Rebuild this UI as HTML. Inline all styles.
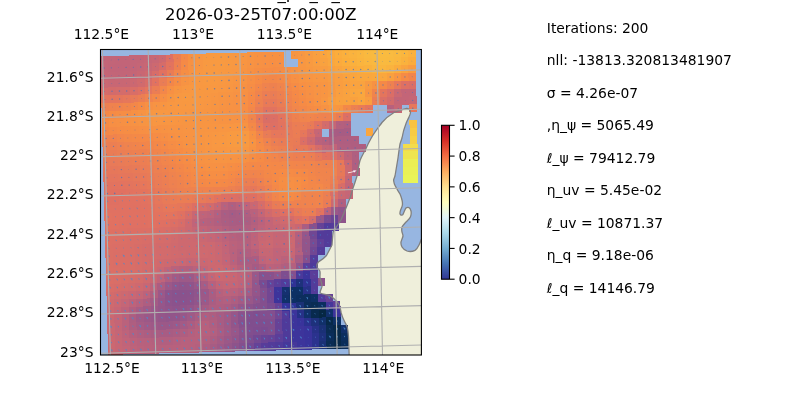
<!DOCTYPE html><html><head><meta charset="utf-8"><title>plot</title><style>html,body{margin:0;padding:0;background:#fff;overflow:hidden}svg{display:block}</style></head><body><svg width="800" height="400" viewBox="0 0 800 400" font-family="'DejaVu Sans', 'Liberation Sans', sans-serif" fill="#000">
<defs><clipPath id="ax"><rect x="100.50" y="49.50" width="320.90" height="305.50"/></clipPath>
<linearGradient id="cb" x1="0" y1="0" x2="0" y2="1"><stop offset="0.000" stop-color="#a50026"/><stop offset="0.050" stop-color="#bd1726"/><stop offset="0.100" stop-color="#d62f27"/><stop offset="0.150" stop-color="#e54e35"/><stop offset="0.200" stop-color="#f46d43"/><stop offset="0.250" stop-color="#f88c51"/><stop offset="0.300" stop-color="#fdad60"/><stop offset="0.350" stop-color="#fdc778"/><stop offset="0.400" stop-color="#fee090"/><stop offset="0.450" stop-color="#fff0a8"/><stop offset="0.500" stop-color="#fffebe"/><stop offset="0.550" stop-color="#f0f9db"/><stop offset="0.600" stop-color="#e0f3f8"/><stop offset="0.650" stop-color="#c5e6f0"/><stop offset="0.700" stop-color="#aad8e9"/><stop offset="0.750" stop-color="#90c3dd"/><stop offset="0.800" stop-color="#74add1"/><stop offset="0.850" stop-color="#5c90c2"/><stop offset="0.900" stop-color="#4574b3"/><stop offset="0.950" stop-color="#3a54a4"/><stop offset="1.000" stop-color="#313695"/></linearGradient></defs>
<rect width="800" height="400" fill="#fff"/>
<g clip-path="url(#ax)">
<rect x="100" y="49" width="322" height="307" fill="#97b6e1"/>
<path d="M407 108.3 C404.5 109 399 110.5 394 112.5 C389 115.5 385 119 382 122.5 C378 128 374 133 371 138.5 C369 142 367.5 145 366 148.5 C364 152.5 361.5 156.5 360 160.5 C358.5 166 357.8 171 357 176 C355.8 180 354.5 184 353 188 C352 191.5 351 195 350 198 C348.5 201.5 347.3 205 346 208 L341 220 L337 226 L333.2 232 C332.6 236 332.3 241 332 245 L326.5 255.5 C324 258.5 320.5 260.5 318.3 262 C316.8 264 316.6 266 317.2 267.5 C318.2 269.2 319.8 270 320 271.5 C320.3 274 319.8 276 320 278 C320.8 281 322.2 283.5 322 286.5 C321.6 289 319.6 291 320.2 293 C323 294.2 326 294.3 328.5 295.2 C330.5 296 332 297 333.5 298.3 C335.8 300.2 337.5 302 339 304.3 C340.4 307 340.6 310 341.2 313 C342 316 343 318.5 344.3 321 C345.3 323.2 346.5 325 347.3 327.3 C348.2 331 348.3 334.5 348.6 338 L349.2 357 L424 357 L424 236 L421 240 C420.4 242 419.8 243.5 419 245 C417.8 247.5 416.5 249.4 415 250.4 C412.5 251.6 409.5 251.8 407 251 C404.8 250 403 248.8 402 247 C401 245.2 400.8 243.6 401 242 C401.5 240 402.6 238 403 236 C403 234.5 402.3 233.3 402 232 C401.6 230.2 401.6 228.6 402 227 C403 225.2 404.6 223.6 406 222 C407.8 220.4 409.6 219 410.4 217 C411.2 215 411.4 213 411 211 C410.6 209.4 410 208 409 207.6 C407.8 207.3 406.8 207.4 406 208 C405 209.2 404.6 210.8 404 212 C403.6 213.2 403.2 214.6 402.4 215 C401.4 215.4 400.4 215 400 214 C399.8 212.6 400.2 211.2 400.6 210 C401.3 208.3 402.2 206.7 402.4 205 C402.6 203.3 402.4 201.6 402 200 C401.5 198 400.8 195.8 400 194 C399 192.2 397.8 190.7 397 189 C396 187.3 395 185.8 394.4 184 C393.9 182.6 393.7 181.3 393.6 180 C394 178.6 394.6 177.3 395 176 C396 170 397 164 398 158 C398.6 153.3 399.2 148.6 400 144 L402 138 C403 132 405 126 406.2 123 C407.2 120.5 408.2 119 409 117 C410 115 410.6 113.4 410.5 112 C410.2 110.2 408.8 108.6 407 108.3 Z" fill="#efefdb" stroke="none" stroke-width="1.3" stroke-linejoin="round"/>

<g shape-rendering="crispEdges"><path d="M100.1 56.3L107.7 56.1L107.9 64.3L100.3 64.5" fill="#c36578"/><path d="M107.4 56.1L115.1 55.9L115.3 64.1L107.6 64.3" fill="#c26578"/><path d="M114.8 55.9L122.4 55.7L122.6 63.9L115.0 64.1" fill="#c26478"/><path d="M122.1 55.7L129.7 55.5L129.9 63.7L122.3 63.9" fill="#c26478"/><path d="M129.4 55.5L137.0 55.3L137.3 63.5L129.6 63.7" fill="#c36578"/><path d="M136.8 55.3L144.4 55.2L144.6 63.3L137.0 63.5" fill="#c36577"/><path d="M144.1 55.2L151.7 55.0L151.9 63.1L144.3 63.3" fill="#c56676"/><path d="M151.4 55.0L159.0 54.8L159.2 62.9L151.6 63.1" fill="#c86774"/><path d="M158.7 54.8L166.4 54.6L166.6 62.7L158.9 62.9" fill="#ce696f"/><path d="M166.1 54.6L173.7 54.4L173.9 62.6L166.3 62.8" fill="#de7063"/><path d="M173.4 54.4L181.0 54.2L181.2 62.4L173.6 62.6" fill="#eb7e53"/><path d="M180.7 54.2L188.4 54.0L188.6 62.2L180.9 62.4" fill="#f58947"/><path d="M188.1 54.0L195.7 53.8L195.9 62.0L188.3 62.2" fill="#f79143"/><path d="M195.4 53.8L203.0 53.6L203.2 61.8L195.6 62.0" fill="#f89642"/><path d="M202.7 53.6L210.3 53.4L210.5 61.6L202.9 61.8" fill="#f89941"/><path d="M210.1 53.4L217.7 53.3L217.9 61.4L210.2 61.6" fill="#f89a41"/><path d="M217.4 53.3L225.0 53.1L225.2 61.2L217.6 61.4" fill="#f89a41"/><path d="M224.7 53.1L232.3 52.9L232.5 61.0L224.9 61.2" fill="#f89941"/><path d="M232.0 52.9L239.7 52.7L239.9 60.8L232.2 61.0" fill="#f89842"/><path d="M239.4 52.7L247.0 52.5L247.2 60.7L239.6 60.9" fill="#f89642"/><path d="M246.7 52.5L254.3 52.3L254.5 60.5L246.9 60.7" fill="#f79443"/><path d="M254.0 52.3L261.7 52.1L261.8 60.3L254.2 60.5" fill="#f79243"/><path d="M261.4 52.1L269.0 51.9L269.2 60.1L261.6 60.3" fill="#f79143"/><path d="M268.7 51.9L276.3 51.7L276.5 59.9L268.9 60.1" fill="#f79143"/><path d="M276.0 51.7L283.6 51.5L283.8 59.7L276.2 59.9" fill="#f79143"/><path d="M290.7 51.4L298.3 51.2L298.5 59.3L290.9 59.5" fill="#f79542"/><path d="M298.0 51.2L305.6 51.0L305.8 59.1L298.2 59.3" fill="#f89742"/><path d="M305.3 51.0L313.0 50.8L313.1 58.9L305.5 59.1" fill="#f89b41"/><path d="M312.7 50.8L320.3 50.6L320.5 58.8L312.9 59.0" fill="#f99f40"/><path d="M320.0 50.6L327.6 50.4L327.8 58.6L320.2 58.8" fill="#faa43e"/><path d="M327.3 50.4L335.0 50.2L335.1 58.4L327.5 58.6" fill="#faa93d"/><path d="M334.7 50.2L342.3 50.0L342.5 58.2L334.8 58.4" fill="#fbad3c"/><path d="M342.0 50.0L349.6 50.0L349.8 58.1L342.2 58.2" fill="#fbb03d"/><path d="M349.3 50.0L356.9 49.9L357.1 58.0L349.5 58.1" fill="#fab33e"/><path d="M356.6 49.9L364.3 49.8L364.4 58.0L356.8 58.1" fill="#fab63e"/><path d="M364.0 49.8L371.6 49.7L371.8 57.9L364.2 58.0" fill="#f9b93f"/><path d="M371.3 49.7L378.9 49.7L379.1 57.8L371.5 57.9" fill="#f9ba3f"/><path d="M378.6 49.7L386.3 49.6L386.4 57.8L378.8 57.8" fill="#f9bb40"/><path d="M386.0 49.6L393.6 49.5L393.8 57.7L386.1 57.8" fill="#f9bb40"/><path d="M393.3 49.5L400.9 49.5L401.1 57.6L393.5 57.7" fill="#f9b93f"/><path d="M400.6 49.5L408.3 49.4L408.4 57.6L400.8 57.6" fill="#fab63e"/><path d="M408.0 49.4L415.6 49.3L415.7 57.5L408.1 57.6" fill="#fbb13d"/><path d="M100.3 64.1L107.9 64.0L108.1 72.1L100.5 72.3" fill="#c36578"/><path d="M107.6 64.0L115.3 63.8L115.5 71.9L107.9 72.1" fill="#c26478"/><path d="M115.0 63.8L122.6 63.6L122.8 71.7L115.2 71.9" fill="#c16479"/><path d="M122.3 63.6L129.9 63.4L130.1 71.5L122.5 71.7" fill="#c26478"/><path d="M129.6 63.4L137.2 63.2L137.5 71.4L129.8 71.5" fill="#c36578"/><path d="M137.0 63.2L144.6 63.0L144.8 71.2L137.2 71.4" fill="#c56676"/><path d="M144.3 63.0L151.9 62.8L152.1 71.0L144.5 71.2" fill="#c86774"/><path d="M151.6 62.8L159.2 62.6L159.4 70.8L151.8 71.0" fill="#cd6970"/><path d="M158.9 62.6L166.6 62.4L166.8 70.6L159.1 70.8" fill="#d66c69"/><path d="M166.3 62.4L173.9 62.2L174.1 70.4L166.5 70.6" fill="#e3735e"/><path d="M173.6 62.2L181.2 62.1L181.4 70.2L173.8 70.4" fill="#ed8050"/><path d="M180.9 62.1L188.5 61.9L188.8 70.0L181.1 70.2" fill="#f58a46"/><path d="M188.3 61.9L195.9 61.7L196.1 69.8L188.5 70.0" fill="#f79243"/><path d="M195.6 61.7L203.2 61.5L203.4 69.6L195.8 69.8" fill="#f89642"/><path d="M202.9 61.5L210.5 61.3L210.7 69.5L203.1 69.6" fill="#f89941"/><path d="M210.2 61.3L217.9 61.1L218.1 69.3L210.4 69.5" fill="#f89a41"/><path d="M217.6 61.1L225.2 60.9L225.4 69.1L217.8 69.3" fill="#f89a41"/><path d="M224.9 60.9L232.5 60.7L232.7 68.9L225.1 69.1" fill="#f89941"/><path d="M232.2 60.7L239.9 60.5L240.0 68.7L232.4 68.9" fill="#f89842"/><path d="M239.6 60.5L247.2 60.3L247.4 68.5L239.8 68.7" fill="#f89542"/><path d="M246.9 60.3L254.5 60.2L254.7 68.3L247.1 68.5" fill="#f79343"/><path d="M254.2 60.2L261.8 60.0L262.0 68.1L254.4 68.3" fill="#f79143"/><path d="M261.5 60.0L269.2 59.8L269.4 67.9L261.7 68.1" fill="#f79044"/><path d="M268.9 59.8L276.5 59.6L276.7 67.7L269.1 67.9" fill="#f78f44"/><path d="M276.2 59.6L283.8 59.4L284.0 67.6L276.4 67.7" fill="#f79044"/><path d="M298.2 59.0L305.8 58.8L306.0 67.0L298.4 67.2" fill="#f89742"/><path d="M305.5 58.8L313.1 58.6L313.3 66.8L305.7 67.0" fill="#f89a41"/><path d="M312.8 58.6L320.5 58.4L320.6 66.6L313.0 66.8" fill="#f99e40"/><path d="M320.2 58.4L327.8 58.3L328.0 66.4L320.4 66.6" fill="#f9a23f"/><path d="M327.5 58.3L335.1 58.1L335.3 66.2L327.7 66.4" fill="#faa73e"/><path d="M334.8 58.1L342.5 57.9L342.6 66.0L335.0 66.2" fill="#fbaa3d"/><path d="M342.2 57.9L349.8 57.8L350.0 66.0L342.3 66.0" fill="#fbae3c"/><path d="M349.5 57.8L357.1 57.7L357.3 65.9L349.7 66.0" fill="#fab13d"/><path d="M356.8 57.7L364.4 57.7L364.6 65.8L357.0 65.9" fill="#fab43e"/><path d="M364.1 57.7L371.8 57.6L371.9 65.8L364.3 65.8" fill="#fab73f"/><path d="M371.5 57.6L379.1 57.5L379.3 65.7L371.6 65.8" fill="#f9b93f"/><path d="M378.8 57.5L386.4 57.5L386.6 65.6L379.0 65.7" fill="#f9ba40"/><path d="M386.1 57.5L393.8 57.4L393.9 65.5L386.3 65.6" fill="#f9ba3f"/><path d="M393.5 57.4L401.1 57.3L401.3 65.5L393.6 65.5" fill="#fab73f"/><path d="M400.8 57.3L408.4 57.2L408.6 65.4L401.0 65.5" fill="#fab23d"/><path d="M408.1 57.2L415.7 57.2L415.9 65.3L408.3 65.4" fill="#fbac3c"/><path d="M100.5 72.0L108.1 71.8L108.4 80.0L100.7 80.2" fill="#c56576"/><path d="M107.8 71.8L115.5 71.6L115.7 79.8L108.1 80.0" fill="#c36578"/><path d="M115.2 71.6L122.8 71.4L123.0 79.6L115.4 79.8" fill="#c26578"/><path d="M122.5 71.4L130.1 71.2L130.3 79.4L122.7 79.6" fill="#c36577"/><path d="M129.8 71.2L137.5 71.0L137.7 79.2L130.0 79.4" fill="#c56676"/><path d="M137.2 71.0L144.8 70.8L145.0 79.0L137.4 79.2" fill="#c96773"/><path d="M144.5 70.9L152.1 70.7L152.3 78.8L144.7 79.0" fill="#ce696f"/><path d="M151.8 70.7L159.4 70.5L159.6 78.6L152.0 78.8" fill="#d76d69"/><path d="M159.1 70.5L166.8 70.3L167.0 78.4L159.3 78.6" fill="#e27260"/><path d="M166.5 70.3L174.1 70.1L174.3 78.3L166.7 78.4" fill="#ea7c55"/><path d="M173.8 70.1L181.4 69.9L181.6 78.1L174.0 78.3" fill="#f2864b"/><path d="M181.1 69.9L188.7 69.7L188.9 77.9L181.3 78.1" fill="#f68e44"/><path d="M188.5 69.7L196.1 69.5L196.3 77.7L188.7 77.9" fill="#f79443"/><path d="M195.8 69.5L203.4 69.3L203.6 77.5L196.0 77.7" fill="#f89742"/><path d="M203.1 69.3L210.7 69.1L210.9 77.3L203.3 77.5" fill="#f89941"/><path d="M210.4 69.1L218.1 68.9L218.3 77.1L210.6 77.3" fill="#f89a41"/><path d="M217.8 69.0L225.4 68.8L225.6 76.9L218.0 77.1" fill="#f89941"/><path d="M225.1 68.8L232.7 68.6L232.9 76.7L225.3 76.9" fill="#f89841"/><path d="M232.4 68.6L240.0 68.4L240.2 76.5L232.6 76.7" fill="#f89742"/><path d="M239.7 68.4L247.4 68.2L247.6 76.4L239.9 76.5" fill="#f79443"/><path d="M247.1 68.2L254.7 68.0L254.9 76.2L247.3 76.4" fill="#f79143"/><path d="M254.4 68.0L262.0 67.8L262.2 76.0L254.6 76.2" fill="#f68e44"/><path d="M261.7 67.8L269.3 67.6L269.5 75.8L261.9 76.0" fill="#f68c45"/><path d="M269.1 67.6L276.7 67.4L276.9 75.6L269.2 75.8" fill="#f68c45"/><path d="M276.4 67.4L284.0 67.2L284.2 75.4L276.6 75.6" fill="#f68d45"/><path d="M283.7 67.2L291.3 67.0L291.5 75.2L283.9 75.4" fill="#f79044"/><path d="M291.0 67.1L298.7 66.9L298.8 75.0L291.2 75.2" fill="#f79343"/><path d="M298.4 66.9L306.0 66.7L306.2 74.8L298.5 75.0" fill="#f89642"/><path d="M305.7 66.7L313.3 66.5L313.5 74.6L305.9 74.8" fill="#f89841"/><path d="M313.0 66.5L320.6 66.3L320.8 74.5L313.2 74.6" fill="#f89b41"/><path d="M320.3 66.3L328.0 66.1L328.1 74.3L320.5 74.5" fill="#f99d40"/><path d="M327.7 66.1L335.3 65.9L335.5 74.1L327.9 74.3" fill="#f9a13f"/><path d="M335.0 65.9L342.6 65.7L342.8 73.9L335.2 74.1" fill="#faa43e"/><path d="M342.3 65.7L350.0 65.7L350.1 73.8L342.5 73.9" fill="#faa83d"/><path d="M349.7 65.7L357.3 65.6L357.5 73.7L349.8 73.8" fill="#fbab3d"/><path d="M357.0 65.6L364.6 65.5L364.8 73.7L357.2 73.7" fill="#fbae3c"/><path d="M364.3 65.5L371.9 65.4L372.1 73.6L364.5 73.7" fill="#fab13d"/><path d="M371.6 65.4L379.3 65.4L379.4 73.5L371.8 73.6" fill="#fab53e"/><path d="M379.0 65.4L386.6 65.3L386.8 73.5L379.1 73.5" fill="#fab63e"/><path d="M386.3 65.3L393.9 65.2L394.1 73.4L386.5 73.5" fill="#fab33e"/><path d="M393.6 65.2L401.2 65.2L401.4 73.3L393.8 73.4" fill="#fbac3c"/><path d="M401.0 65.2L408.6 65.1L408.7 73.3L401.1 73.3" fill="#faa43e"/><path d="M408.3 65.1L415.9 65.0L416.1 73.2L408.4 73.3" fill="#f99c40"/><path d="M100.7 79.8L108.3 79.6L108.6 87.8L100.9 88.0" fill="#ca6872"/><path d="M108.1 79.7L115.7 79.5L115.9 87.6L108.3 87.8" fill="#c86774"/><path d="M115.4 79.5L123.0 79.3L123.2 87.4L115.6 87.6" fill="#c86774"/><path d="M122.7 79.3L130.3 79.1L130.5 87.2L122.9 87.4" fill="#c96773"/><path d="M130.0 79.1L137.7 78.9L137.9 87.0L130.2 87.2" fill="#cc6871"/><path d="M137.4 78.9L145.0 78.7L145.2 86.9L137.6 87.1" fill="#d16a6d"/><path d="M144.7 78.7L152.3 78.5L152.5 86.7L144.9 86.9" fill="#d86d68"/><path d="M152.0 78.5L159.6 78.3L159.8 86.5L152.2 86.7" fill="#e27260"/><path d="M159.3 78.3L167.0 78.1L167.2 86.3L159.5 86.5" fill="#ea7d55"/><path d="M166.7 78.1L174.3 77.9L174.5 86.1L166.9 86.3" fill="#f2864a"/><path d="M174.0 77.9L181.6 77.7L181.8 85.9L174.2 86.1" fill="#f68d44"/><path d="M181.3 77.8L188.9 77.6L189.1 85.7L181.5 85.9" fill="#f79343"/><path d="M188.6 77.6L196.3 77.4L196.5 85.5L188.9 85.7" fill="#f89642"/><path d="M196.0 77.4L203.6 77.2L203.8 85.3L196.2 85.5" fill="#f89842"/><path d="M203.3 77.2L210.9 77.0L211.1 85.1L203.5 85.3" fill="#f89941"/><path d="M210.6 77.0L218.2 76.8L218.4 85.0L210.8 85.2" fill="#f89941"/><path d="M218.0 76.8L225.6 76.6L225.8 84.8L218.2 85.0" fill="#f89842"/><path d="M225.3 76.6L232.9 76.4L233.1 84.6L225.5 84.8" fill="#f89742"/><path d="M232.6 76.4L240.2 76.2L240.4 84.4L232.8 84.6" fill="#f89542"/><path d="M239.9 76.2L247.6 76.0L247.7 84.2L240.1 84.4" fill="#f79343"/><path d="M247.3 76.0L254.9 75.8L255.1 84.0L247.5 84.2" fill="#f78f44"/><path d="M254.6 75.9L262.2 75.7L262.4 83.8L254.8 84.0" fill="#f68b45"/><path d="M261.9 75.7L269.5 75.5L269.7 83.6L262.1 83.8" fill="#f38848"/><path d="M269.2 75.5L276.9 75.3L277.0 83.4L269.4 83.6" fill="#f38749"/><path d="M276.6 75.3L284.2 75.1L284.4 83.2L276.8 83.4" fill="#f48948"/><path d="M283.9 75.1L291.5 74.9L291.7 83.1L284.1 83.3" fill="#f68c45"/><path d="M291.2 74.9L298.8 74.7L299.0 82.9L291.4 83.1" fill="#f79044"/><path d="M298.5 74.7L306.2 74.5L306.3 82.7L298.7 82.9" fill="#f79443"/><path d="M305.9 74.5L313.5 74.3L313.7 82.5L306.1 82.7" fill="#f89542"/><path d="M313.2 74.3L320.8 74.1L321.0 82.3L313.4 82.5" fill="#f89742"/><path d="M320.5 74.1L328.1 73.9L328.3 82.1L320.7 82.3" fill="#f89841"/><path d="M327.8 74.0L335.5 73.8L335.6 81.9L328.0 82.1" fill="#f89b41"/><path d="M335.2 73.8L342.8 73.6L343.0 81.7L335.4 81.9" fill="#f99e40"/><path d="M342.5 73.6L350.1 73.5L350.3 81.7L342.7 81.7" fill="#f9a23f"/><path d="M349.8 73.5L357.4 73.4L357.6 81.6L350.0 81.7" fill="#faa53e"/><path d="M357.2 73.4L364.8 73.4L364.9 81.5L357.3 81.6" fill="#faa73e"/><path d="M364.5 73.4L372.1 73.3L372.3 81.5L364.7 81.5" fill="#faa73e"/><path d="M371.8 73.3L379.4 73.2L379.6 81.4L372.0 81.5" fill="#faa83d"/><path d="M379.1 73.2L386.8 73.2L386.9 81.3L379.3 81.4" fill="#faa73e"/><path d="M386.5 73.2L394.1 73.1L394.2 81.2L386.6 81.3" fill="#f9a03f"/><path d="M393.8 73.1L401.4 73.0L401.6 81.2L394.0 81.2" fill="#f89642"/><path d="M401.1 73.0L408.7 72.9L408.9 81.1L401.3 81.2" fill="#f68b45"/><path d="M408.4 72.9L416.1 72.9L416.2 81.0L408.6 81.1" fill="#f1854b"/><path d="M100.9 87.7L108.6 87.5L108.8 95.7L101.2 95.9" fill="#d56c6a"/><path d="M108.3 87.5L115.9 87.3L116.1 95.5L108.5 95.7" fill="#d36b6b"/><path d="M115.6 87.3L123.2 87.1L123.4 95.3L115.8 95.5" fill="#d46c6b"/><path d="M122.9 87.1L130.5 86.9L130.7 95.1L123.1 95.3" fill="#d56c6a"/><path d="M130.2 86.9L137.9 86.7L138.1 94.9L130.5 95.1" fill="#d96e67"/><path d="M137.6 86.7L145.2 86.5L145.4 94.7L137.8 94.9" fill="#df7063"/><path d="M144.9 86.6L152.5 86.4L152.7 94.5L145.1 94.7" fill="#e4755d"/><path d="M152.2 86.4L159.8 86.2L160.0 94.3L152.4 94.5" fill="#eb7d54"/><path d="M159.5 86.2L167.2 86.0L167.4 94.1L159.8 94.3" fill="#f3874a"/><path d="M166.9 86.0L174.5 85.8L174.7 93.9L167.1 94.1" fill="#f79044"/><path d="M174.2 85.8L181.8 85.6L182.0 93.8L174.4 94.0" fill="#f79542"/><path d="M181.5 85.6L189.1 85.4L189.3 93.6L181.7 93.8" fill="#f89742"/><path d="M188.8 85.4L196.5 85.2L196.7 93.4L189.0 93.6" fill="#f89842"/><path d="M196.2 85.2L203.8 85.0L204.0 93.2L196.4 93.4" fill="#f89841"/><path d="M203.5 85.0L211.1 84.8L211.3 93.0L203.7 93.2" fill="#f89841"/><path d="M210.8 84.8L218.4 84.6L218.6 92.8L211.0 93.0" fill="#f89842"/><path d="M218.1 84.7L225.8 84.5L226.0 92.6L218.3 92.8" fill="#f89742"/><path d="M225.5 84.5L233.1 84.3L233.3 92.4L225.7 92.6" fill="#f89642"/><path d="M232.8 84.3L240.4 84.1L240.6 92.2L233.0 92.4" fill="#f79443"/><path d="M240.1 84.1L247.7 83.9L247.9 92.0L240.3 92.2" fill="#f79143"/><path d="M247.4 83.9L255.1 83.7L255.3 91.9L247.6 92.1" fill="#f68d45"/><path d="M254.8 83.7L262.4 83.5L262.6 91.7L255.0 91.9" fill="#f38749"/><path d="M262.1 83.5L269.7 83.3L269.9 91.5L262.3 91.7" fill="#ef834e"/><path d="M269.4 83.3L277.0 83.1L277.2 91.3L269.6 91.5" fill="#ee814f"/><path d="M276.7 83.1L284.4 82.9L284.6 91.1L276.9 91.3" fill="#f0844d"/><path d="M284.1 82.9L291.7 82.7L291.9 90.9L284.3 91.1" fill="#f48848"/><path d="M291.4 82.8L299.0 82.6L299.2 90.7L291.6 90.9" fill="#f68c45"/><path d="M298.7 82.6L306.3 82.4L306.5 90.5L298.9 90.7" fill="#f79044"/><path d="M306.0 82.4L313.7 82.2L313.8 90.3L306.2 90.5" fill="#f79243"/><path d="M313.4 82.2L321.0 82.0L321.2 90.1L313.6 90.3" fill="#f79443"/><path d="M320.7 82.0L328.3 81.8L328.5 90.0L320.9 90.2" fill="#f89542"/><path d="M328.0 81.8L335.6 81.6L335.8 89.8L328.2 90.0" fill="#f89841"/><path d="M335.3 81.6L343.0 81.4L343.1 89.6L335.5 89.8" fill="#f99d40"/><path d="M342.7 81.4L350.3 81.3L350.5 89.5L342.8 89.6" fill="#f9a03f"/><path d="M350.0 81.4L357.6 81.3L357.8 89.4L350.2 89.5" fill="#faa33f"/><path d="M357.3 81.3L364.9 81.2L365.1 89.4L357.5 89.4" fill="#f9a33f"/><path d="M364.6 81.2L372.3 81.1L372.4 89.3L364.8 89.4" fill="#f89a41"/><path d="M372.0 81.1L379.6 81.1L379.8 89.2L372.1 89.3" fill="#f79243"/><path d="M379.3 81.1L386.9 81.0L387.1 89.2L379.5 89.2" fill="#f58947"/><path d="M386.6 81.0L394.2 80.9L394.4 89.1L386.8 89.2" fill="#ee8150"/><path d="M393.9 80.9L401.6 80.9L401.7 89.0L394.1 89.1" fill="#e6775b"/><path d="M401.3 80.9L408.9 80.8L409.1 89.0L401.4 89.0" fill="#de7063"/><path d="M408.6 80.8L416.2 80.7L416.4 88.9L408.8 89.0" fill="#db6e66"/><path d="M101.1 95.5L108.8 95.3L109.0 103.5L101.4 103.7" fill="#e3745e"/><path d="M108.5 95.3L116.1 95.2L116.3 103.3L108.7 103.5" fill="#e4745d"/><path d="M115.8 95.2L123.4 95.0L123.6 103.1L116.0 103.3" fill="#e4755c"/><path d="M123.1 95.0L130.7 94.8L131.0 102.9L123.3 103.1" fill="#e6775b"/><path d="M130.4 94.8L138.1 94.6L138.3 102.7L130.7 102.9" fill="#e87a58"/><path d="M137.8 94.6L145.4 94.4L145.6 102.6L138.0 102.8" fill="#eb7e53"/><path d="M145.1 94.4L152.7 94.2L152.9 102.4L145.3 102.6" fill="#f0834e"/><path d="M152.4 94.2L160.0 94.0L160.2 102.2L152.6 102.4" fill="#f48948"/><path d="M159.7 94.0L167.4 93.8L167.6 102.0L160.0 102.2" fill="#f78f44"/><path d="M167.1 93.8L174.7 93.6L174.9 101.8L167.3 102.0" fill="#f79542"/><path d="M174.4 93.6L182.0 93.4L182.2 101.6L174.6 101.8" fill="#f89842"/><path d="M181.7 93.4L189.3 93.3L189.5 101.4L181.9 101.6" fill="#f89941"/><path d="M189.0 93.3L196.7 93.1L196.9 101.2L189.2 101.4" fill="#f89941"/><path d="M196.4 93.1L204.0 92.9L204.2 101.0L196.6 101.2" fill="#f89841"/><path d="M203.7 92.9L211.3 92.7L211.5 100.8L203.9 101.0" fill="#f89742"/><path d="M211.0 92.7L218.6 92.5L218.8 100.7L211.2 100.9" fill="#f89642"/><path d="M218.3 92.5L226.0 92.3L226.1 100.5L218.5 100.7" fill="#f79542"/><path d="M225.7 92.3L233.3 92.1L233.5 100.3L225.9 100.5" fill="#f79443"/><path d="M233.0 92.1L240.6 91.9L240.8 100.1L233.2 100.3" fill="#f79243"/><path d="M240.3 91.9L247.9 91.7L248.1 99.9L240.5 100.1" fill="#f79044"/><path d="M247.6 91.7L255.2 91.5L255.4 99.7L247.8 99.9" fill="#f68a46"/><path d="M255.0 91.5L262.6 91.4L262.8 99.5L255.1 99.7" fill="#f0844d"/><path d="M262.3 91.4L269.9 91.2L270.1 99.3L262.5 99.5" fill="#ec7e53"/><path d="M269.6 91.2L277.2 91.0L277.4 99.1L269.8 99.3" fill="#ea7d55"/><path d="M276.9 91.0L284.5 90.8L284.7 98.9L277.1 99.1" fill="#ed8051"/><path d="M284.3 90.8L291.9 90.6L292.1 98.8L284.4 99.0" fill="#f1854b"/><path d="M291.6 90.6L299.2 90.4L299.4 98.6L291.8 98.8" fill="#f58947"/><path d="M298.9 90.4L306.5 90.2L306.7 98.4L299.1 98.6" fill="#f68d44"/><path d="M306.2 90.2L313.8 90.0L314.0 98.2L306.4 98.4" fill="#f79044"/><path d="M313.5 90.0L321.2 89.8L321.3 98.0L313.7 98.2" fill="#f79343"/><path d="M320.9 89.8L328.5 89.6L328.7 97.8L321.1 98.0" fill="#f89542"/><path d="M328.2 89.7L335.8 89.5L336.0 97.6L328.4 97.8" fill="#f89941"/><path d="M335.5 89.5L343.1 89.3L343.3 97.4L335.7 97.6" fill="#f99f40"/><path d="M342.8 89.3L350.5 89.2L350.6 97.4L343.0 97.4" fill="#f9a23f"/><path d="M350.2 89.2L357.8 89.1L358.0 97.3L350.3 97.4" fill="#faa63e"/><path d="M357.5 89.1L365.1 89.1L365.3 97.2L357.7 97.3" fill="#faa73e"/><path d="M364.8 89.1L372.4 89.0L372.6 97.1L365.0 97.2" fill="#f89642"/><path d="M372.1 89.0L379.8 88.9L379.9 97.1L372.3 97.2" fill="#f0844c"/><path d="M379.5 88.9L387.1 88.8L387.2 97.0L379.6 97.1" fill="#e4755c"/><path d="M386.8 88.8L394.4 88.8L394.6 96.9L387.0 97.0" fill="#db6e66"/><path d="M394.1 88.8L401.7 88.7L401.9 96.9L394.3 96.9" fill="#cb6872"/><path d="M401.4 88.7L409.1 88.6L409.2 96.8L401.6 96.9" fill="#c36578"/><path d="M408.8 88.6L416.4 88.6L416.5 96.7L408.9 96.8" fill="#c36577"/><path d="M101.4 103.4L109.0 103.2L109.2 111.4L101.6 111.5" fill="#ed8051"/><path d="M108.7 103.2L116.3 103.0L116.5 111.2L108.9 111.4" fill="#ef824e"/><path d="M116.0 103.0L123.6 102.8L123.8 111.0L116.2 111.2" fill="#f0834d"/><path d="M123.3 102.8L130.9 102.6L131.2 110.8L123.5 111.0" fill="#f1854b"/><path d="M130.7 102.6L138.3 102.4L138.5 110.6L130.9 110.8" fill="#f38749"/><path d="M138.0 102.4L145.6 102.2L145.8 110.4L138.2 110.6" fill="#f68b45"/><path d="M145.3 102.2L152.9 102.1L153.1 110.2L145.5 110.4" fill="#f79044"/><path d="M152.6 102.1L160.2 101.9L160.4 110.0L152.8 110.2" fill="#f79343"/><path d="M159.9 101.9L167.6 101.7L167.8 109.8L160.2 110.0" fill="#f89542"/><path d="M167.3 101.7L174.9 101.5L175.1 109.6L167.5 109.8" fill="#f89742"/><path d="M174.6 101.5L182.2 101.3L182.4 109.5L174.8 109.6" fill="#f89842"/><path d="M181.9 101.3L189.5 101.1L189.7 109.3L182.1 109.5" fill="#f89841"/><path d="M189.2 101.1L196.8 100.9L197.1 109.1L189.4 109.3" fill="#f89842"/><path d="M196.6 100.9L204.2 100.7L204.4 108.9L196.8 109.1" fill="#f89742"/><path d="M203.9 100.7L211.5 100.5L211.7 108.7L204.1 108.9" fill="#f89642"/><path d="M211.2 100.5L218.8 100.3L219.0 108.5L211.4 108.7" fill="#f79542"/><path d="M218.5 100.3L226.1 100.2L226.3 108.3L218.7 108.5" fill="#f79343"/><path d="M225.8 100.2L233.5 100.0L233.7 108.1L226.0 108.3" fill="#f79243"/><path d="M233.2 100.0L240.8 99.8L241.0 107.9L233.4 108.1" fill="#f79143"/><path d="M240.5 99.8L248.1 99.6L248.3 107.7L240.7 107.9" fill="#f78f44"/><path d="M247.8 99.6L255.4 99.4L255.6 107.6L248.0 107.7" fill="#f58947"/><path d="M255.1 99.4L262.8 99.2L262.9 107.4L255.3 107.6" fill="#ee8150"/><path d="M262.5 99.2L270.1 99.0L270.3 107.2L262.7 107.4" fill="#e97a57"/><path d="M269.8 99.0L277.4 98.8L277.6 107.0L270.0 107.2" fill="#e77959"/><path d="M277.1 98.8L284.7 98.6L284.9 106.8L277.3 107.0" fill="#ea7d54"/><path d="M284.4 98.6L292.0 98.4L292.2 106.6L284.6 106.8" fill="#f0834e"/><path d="M291.8 98.4L299.4 98.3L299.6 106.4L291.9 106.6" fill="#f38848"/><path d="M299.1 98.3L306.7 98.1L306.9 106.2L299.3 106.4" fill="#f68b45"/><path d="M306.4 98.1L314.0 97.9L314.2 106.0L306.6 106.2" fill="#f78e44"/><path d="M313.7 97.9L321.3 97.7L321.5 105.8L313.9 106.0" fill="#f79243"/><path d="M321.0 97.7L328.7 97.5L328.8 105.7L321.2 105.8" fill="#f89742"/><path d="M328.4 97.5L336.0 97.3L336.2 105.5L328.5 105.7" fill="#f99d40"/><path d="M335.7 97.3L343.3 97.1L343.5 105.3L335.9 105.5" fill="#f9a13f"/><path d="M343.0 97.1L350.6 97.0L350.8 105.2L343.2 105.3" fill="#f9a23f"/><path d="M350.3 97.0L358.0 97.0L358.1 105.1L350.5 105.2" fill="#f9a13f"/><path d="M357.7 97.0L365.3 96.9L365.4 105.1L357.8 105.1" fill="#faa53e"/><path d="M365.0 96.9L372.6 96.8L372.8 105.0L365.2 105.1" fill="#f99e40"/><path d="M372.3 96.8L379.9 96.8L380.1 104.9L372.5 105.0" fill="#ec7e53"/><path d="M379.6 96.8L387.2 96.7L387.4 104.9L379.8 104.9" fill="#db6f65"/><path d="M386.9 96.7L394.6 96.6L394.7 104.8L387.1 104.9" fill="#d36b6b"/><path d="M394.3 96.6L401.9 96.6L402.1 104.7L394.4 104.8" fill="#c36577"/><path d="M401.6 96.6L409.2 96.5L409.4 104.6L401.8 104.7" fill="#c46577"/><path d="M408.9 96.5L416.5 96.4L416.7 104.6L409.1 104.6" fill="#c56676"/><path d="M101.6 111.2L109.2 111.0L109.4 119.2L101.8 119.4" fill="#f48848"/><path d="M108.9 111.0L116.5 110.8L116.7 119.0L109.1 119.2" fill="#f68b45"/><path d="M116.2 110.9L123.8 110.7L124.0 118.8L116.4 119.0" fill="#f68d45"/><path d="M123.5 110.7L131.1 110.5L131.4 118.6L123.7 118.8" fill="#f68e44"/><path d="M130.9 110.5L138.5 110.3L138.7 118.4L131.1 118.6" fill="#f79044"/><path d="M138.2 110.3L145.8 110.1L146.0 118.3L138.4 118.4" fill="#f79343"/><path d="M145.5 110.1L153.1 109.9L153.3 118.1L145.7 118.3" fill="#f89742"/><path d="M152.8 109.9L160.4 109.7L160.6 117.9L153.0 118.1" fill="#f89842"/><path d="M160.1 109.7L167.8 109.5L168.0 117.7L160.4 117.9" fill="#f89842"/><path d="M167.5 109.5L175.1 109.3L175.3 117.5L167.7 117.7" fill="#f89742"/><path d="M174.8 109.3L182.4 109.1L182.6 117.3L175.0 117.5" fill="#f89742"/><path d="M182.1 109.1L189.7 108.9L189.9 117.1L182.3 117.3" fill="#f89742"/><path d="M189.4 109.0L197.0 108.8L197.2 116.9L189.6 117.1" fill="#f89642"/><path d="M196.8 108.8L204.4 108.6L204.6 116.7L197.0 116.9" fill="#f89642"/><path d="M204.1 108.6L211.7 108.4L211.9 116.5L204.3 116.7" fill="#f89542"/><path d="M211.4 108.4L219.0 108.2L219.2 116.4L211.6 116.5" fill="#f79443"/><path d="M218.7 108.2L226.3 108.0L226.5 116.2L218.9 116.4" fill="#f79243"/><path d="M226.0 108.0L233.7 107.8L233.8 116.0L226.2 116.2" fill="#f79143"/><path d="M233.4 107.8L241.0 107.6L241.2 115.8L233.6 116.0" fill="#f79143"/><path d="M240.7 107.6L248.3 107.4L248.5 115.6L240.9 115.8" fill="#f78e44"/><path d="M248.0 107.4L255.6 107.2L255.8 115.4L248.2 115.6" fill="#f38749"/><path d="M255.3 107.2L262.9 107.0L263.1 115.2L255.5 115.4" fill="#ea7c56"/><path d="M262.6 107.1L270.3 106.9L270.4 115.0L262.8 115.2" fill="#e3735e"/><path d="M270.0 106.9L277.6 106.7L277.8 114.8L270.2 115.0" fill="#e2735f"/><path d="M277.3 106.7L284.9 106.5L285.1 114.6L277.5 114.8" fill="#e77859"/><path d="M284.6 106.5L292.2 106.3L292.4 114.5L284.8 114.6" fill="#ee8150"/><path d="M291.9 106.3L299.5 106.1L299.7 114.3L292.1 114.5" fill="#f2864b"/><path d="M299.3 106.1L306.9 105.9L307.1 114.1L299.4 114.3" fill="#f48848"/><path d="M306.6 105.9L314.2 105.7L314.4 113.9L306.8 114.1" fill="#f68b45"/><path d="M313.9 105.7L321.5 105.5L321.7 113.7L314.1 113.9" fill="#f68d44"/><path d="M321.2 105.5L328.8 105.3L329.0 113.5L321.4 113.7" fill="#f79243"/><path d="M328.5 105.3L336.2 105.1L336.3 113.3L328.7 113.5" fill="#f89841"/><path d="M335.9 105.2L343.5 105.0L343.7 113.1L336.0 113.3" fill="#f89642"/><path d="M343.2 105.0L350.8 104.9L351.0 113.1L343.4 113.1" fill="#f48848"/><path d="M350.5 104.9L358.1 104.8L358.3 113.0L350.7 113.1" fill="#ed8051"/><path d="M357.8 104.8L365.4 104.8L365.6 112.9L358.0 113.0" fill="#e97b57"/><path d="M365.1 104.8L372.8 104.7L372.9 112.8L365.3 112.9" fill="#e5755c"/><path d="M387.1 104.5L394.7 104.5L394.9 112.6L387.3 112.7" fill="#b8617d"/><path d="M394.4 104.5L402.0 104.4L402.2 112.6L394.6 112.6" fill="#c66675"/><path d="M409.1 104.3L416.7 104.3L416.9 112.4L409.2 112.5" fill="#e6775b"/><path d="M101.8 119.1L109.4 118.9L109.6 127.0L102.0 127.2" fill="#f68b45"/><path d="M109.1 118.9L116.7 118.7L116.9 126.9L109.3 127.1" fill="#f78f44"/><path d="M116.4 118.7L124.0 118.5L124.2 126.7L116.6 126.9" fill="#f79044"/><path d="M123.7 118.5L131.4 118.3L131.6 126.5L124.0 126.7" fill="#f79143"/><path d="M131.1 118.3L138.7 118.1L138.9 126.3L131.3 126.5" fill="#f79243"/><path d="M138.4 118.1L146.0 117.9L146.2 126.1L138.6 126.3" fill="#f79443"/><path d="M145.7 117.9L153.3 117.7L153.5 125.9L145.9 126.1" fill="#f79542"/><path d="M153.0 117.8L160.6 117.6L160.8 125.7L153.2 125.9" fill="#f89642"/><path d="M160.3 117.6L168.0 117.4L168.2 125.5L160.6 125.7" fill="#f89642"/><path d="M167.7 117.4L175.3 117.2L175.5 125.3L167.9 125.5" fill="#f89642"/><path d="M175.0 117.2L182.6 117.0L182.8 125.1L175.2 125.3" fill="#f89542"/><path d="M182.3 117.0L189.9 116.8L190.1 125.0L182.5 125.2" fill="#f79542"/><path d="M189.6 116.8L197.2 116.6L197.4 124.8L189.8 125.0" fill="#f79542"/><path d="M196.9 116.6L204.6 116.4L204.8 124.6L197.1 124.8" fill="#f79542"/><path d="M204.3 116.4L211.9 116.2L212.1 124.4L204.5 124.6" fill="#f79542"/><path d="M211.6 116.2L219.2 116.0L219.4 124.2L211.8 124.4" fill="#f79443"/><path d="M218.9 116.0L226.5 115.8L226.7 124.0L219.1 124.2" fill="#f79343"/><path d="M226.2 115.9L233.8 115.7L234.0 123.8L226.4 124.0" fill="#f79343"/><path d="M233.5 115.7L241.2 115.5L241.4 123.6L233.7 123.8" fill="#f79243"/><path d="M240.9 115.5L248.5 115.3L248.7 123.4L241.1 123.6" fill="#f78f44"/><path d="M248.2 115.3L255.8 115.1L256.0 123.2L248.4 123.4" fill="#f1854b"/><path d="M255.5 115.1L263.1 114.9L263.3 123.1L255.7 123.3" fill="#e6775b"/><path d="M262.8 114.9L270.4 114.7L270.6 122.9L263.0 123.1" fill="#da6e66"/><path d="M270.1 114.7L277.8 114.5L278.0 122.7L270.3 122.9" fill="#dc6f65"/><path d="M277.5 114.5L285.1 114.3L285.3 122.5L277.7 122.7" fill="#e3745e"/><path d="M284.8 114.3L292.4 114.1L292.6 122.3L285.0 122.5" fill="#ea7c55"/><path d="M292.1 114.1L299.7 113.9L299.9 122.1L292.3 122.3" fill="#ee814f"/><path d="M299.4 114.0L307.0 113.8L307.2 121.9L299.6 122.1" fill="#f0844d"/><path d="M306.8 113.8L314.4 113.6L314.5 121.7L306.9 121.9" fill="#f1854c"/><path d="M314.1 113.6L321.7 113.4L321.9 121.5L314.3 121.7" fill="#f0834d"/><path d="M321.4 113.4L329.0 113.2L329.2 121.3L321.6 121.5" fill="#ef824f"/><path d="M328.7 113.2L336.3 113.0L336.5 121.2L328.9 121.4" fill="#ef834e"/><path d="M336.0 113.0L343.6 112.8L343.8 121.0L336.2 121.2" fill="#eb7d54"/><path d="M343.4 112.8L351.0 112.7L351.1 120.9L343.5 121.0" fill="#dd6f64"/><path d="M102.0 126.9L109.6 126.7L109.8 134.9L102.2 135.1" fill="#f38749"/><path d="M109.3 126.7L116.9 126.5L117.1 134.7L109.5 134.9" fill="#f58a46"/><path d="M116.6 126.6L124.2 126.4L124.5 134.5L116.8 134.7" fill="#f68c45"/><path d="M123.9 126.4L131.6 126.2L131.8 134.3L124.2 134.5" fill="#f68d44"/><path d="M131.3 126.2L138.9 126.0L139.1 134.1L131.5 134.3" fill="#f68e44"/><path d="M138.6 126.0L146.2 125.8L146.4 133.9L138.8 134.1" fill="#f78f44"/><path d="M145.9 125.8L153.5 125.6L153.7 133.8L146.1 134.0" fill="#f79044"/><path d="M153.2 125.6L160.8 125.4L161.0 133.6L153.4 133.8" fill="#f79143"/><path d="M160.5 125.4L168.2 125.2L168.4 133.4L160.8 133.6" fill="#f79243"/><path d="M167.9 125.2L175.5 125.0L175.7 133.2L168.1 133.4" fill="#f79343"/><path d="M175.2 125.0L182.8 124.8L183.0 133.0L175.4 133.2" fill="#f79343"/><path d="M182.5 124.8L190.1 124.6L190.3 132.8L182.7 133.0" fill="#f79443"/><path d="M189.8 124.7L197.4 124.5L197.6 132.6L190.0 132.8" fill="#f79443"/><path d="M197.1 124.5L204.8 124.3L205.0 132.4L197.3 132.6" fill="#f79542"/><path d="M204.5 124.3L212.1 124.1L212.3 132.2L204.7 132.4" fill="#f89542"/><path d="M211.8 124.1L219.4 123.9L219.6 132.0L212.0 132.2" fill="#f89542"/><path d="M219.1 123.9L226.7 123.7L226.9 131.9L219.3 132.1" fill="#f89642"/><path d="M226.4 123.7L234.0 123.5L234.2 131.7L226.6 131.9" fill="#f89642"/><path d="M233.7 123.5L241.3 123.3L241.5 131.5L233.9 131.7" fill="#f89642"/><path d="M241.1 123.3L248.7 123.1L248.9 131.3L241.2 131.5" fill="#f79343"/><path d="M248.4 123.1L256.0 122.9L256.2 131.1L248.6 131.3" fill="#f48947"/><path d="M255.7 122.9L263.3 122.7L263.5 130.9L255.9 131.1" fill="#ea7c56"/><path d="M263.0 122.8L270.6 122.6L270.8 130.7L263.2 130.9" fill="#e17161"/><path d="M270.3 122.6L277.9 122.4L278.1 130.5L270.5 130.7" fill="#de7063"/><path d="M277.7 122.4L285.3 122.2L285.4 130.3L277.8 130.5" fill="#e2735f"/><path d="M285.0 122.2L292.6 122.0L292.8 130.1L285.2 130.3" fill="#e77859"/><path d="M292.3 122.0L299.9 121.8L300.1 130.0L292.5 130.2" fill="#eb7d54"/><path d="M299.6 121.8L307.2 121.6L307.4 129.8L299.8 130.0" fill="#ec7e53"/><path d="M306.9 121.6L314.5 121.4L314.7 129.6L307.1 129.8" fill="#e97b56"/><path d="M314.2 121.4L321.9 121.2L322.0 129.4L314.4 129.6" fill="#e27260"/><path d="M321.6 121.2L329.2 121.0L329.4 129.2L321.7 129.4" fill="#d46c6b"/><path d="M328.9 121.0L336.5 120.8L336.7 129.0L329.1 129.2" fill="#c66675"/><path d="M336.2 120.9L343.8 120.7L344.0 128.8L336.4 129.0" fill="#b4607e"/><path d="M343.5 120.7L351.1 120.6L351.3 128.8L343.7 128.8" fill="#b25f7f"/><path d="M102.2 134.8L109.8 134.6L110.0 142.7L102.4 142.9" fill="#ee814f"/><path d="M109.5 134.6L117.1 134.4L117.3 142.6L109.7 142.8" fill="#f0834d"/><path d="M116.8 134.4L124.4 134.2L124.7 142.4L117.1 142.6" fill="#f2864a"/><path d="M124.2 134.2L131.8 134.0L132.0 142.2L124.4 142.4" fill="#f38848"/><path d="M131.5 134.0L139.1 133.8L139.3 142.0L131.7 142.2" fill="#f48947"/><path d="M138.8 133.8L146.4 133.6L146.6 141.8L139.0 142.0" fill="#f58947"/><path d="M146.1 133.6L153.7 133.4L153.9 141.6L146.3 141.8" fill="#f58a46"/><path d="M153.4 133.4L161.0 133.3L161.2 141.4L153.6 141.6" fill="#f68c45"/><path d="M160.7 133.3L168.4 133.1L168.6 141.2L161.0 141.4" fill="#f68e44"/><path d="M168.1 133.1L175.7 132.9L175.9 141.0L168.3 141.2" fill="#f79044"/><path d="M175.4 132.9L183.0 132.7L183.2 140.8L175.6 141.0" fill="#f79243"/><path d="M182.7 132.7L190.3 132.5L190.5 140.7L182.9 140.9" fill="#f79343"/><path d="M190.0 132.5L197.6 132.3L197.8 140.5L190.2 140.7" fill="#f79443"/><path d="M197.3 132.3L204.9 132.1L205.1 140.3L197.5 140.5" fill="#f89542"/><path d="M204.7 132.1L212.3 131.9L212.5 140.1L204.9 140.3" fill="#f89642"/><path d="M212.0 131.9L219.6 131.7L219.8 139.9L212.2 140.1" fill="#f89742"/><path d="M219.3 131.7L226.9 131.5L227.1 139.7L219.5 139.9" fill="#f89842"/><path d="M226.6 131.6L234.2 131.4L234.4 139.5L226.8 139.7" fill="#f89a41"/><path d="M233.9 131.4L241.5 131.2L241.7 139.3L234.1 139.5" fill="#f89a41"/><path d="M241.2 131.2L248.9 131.0L249.0 139.1L241.4 139.3" fill="#f89941"/><path d="M248.6 131.0L256.2 130.8L256.4 138.9L248.8 139.1" fill="#f79143"/><path d="M255.9 130.8L263.5 130.6L263.7 138.8L256.1 139.0" fill="#f1854c"/><path d="M263.2 130.6L270.8 130.4L271.0 138.6L263.4 138.8" fill="#e97c56"/><path d="M270.5 130.4L278.1 130.2L278.3 138.4L270.7 138.6" fill="#e6775b"/><path d="M277.8 130.2L285.4 130.0L285.6 138.2L278.0 138.4" fill="#e6775b"/><path d="M285.2 130.0L292.8 129.8L292.9 138.0L285.3 138.2" fill="#e97a57"/><path d="M292.5 129.8L300.1 129.6L300.3 137.8L292.7 138.0" fill="#eb7d54"/><path d="M299.8 129.7L307.4 129.5L307.6 137.6L300.0 137.8" fill="#e6775b"/><path d="M307.1 129.5L314.7 129.3L314.9 137.4L307.3 137.6" fill="#da6e66"/><path d="M314.4 129.3L322.0 129.1L322.2 137.2L314.6 137.4" fill="#c76675"/><path d="M329.1 128.9L336.7 128.7L336.8 136.9L329.2 137.1" fill="#a95c83"/><path d="M336.4 128.7L344.0 128.5L344.2 136.7L336.6 136.9" fill="#a75c83"/><path d="M343.7 128.5L351.3 128.4L351.5 136.6L343.9 136.7" fill="#a85c83"/><path d="M102.4 142.6L110.0 142.4L110.2 150.6L102.6 150.8" fill="#eb7e53"/><path d="M109.7 142.4L117.3 142.2L117.6 150.4L109.9 150.6" fill="#ec7f52"/><path d="M117.0 142.2L124.7 142.1L124.9 150.2L117.3 150.4" fill="#ee8150"/><path d="M124.4 142.1L132.0 141.9L132.2 150.0L124.6 150.2" fill="#ef834e"/><path d="M131.7 141.9L139.3 141.7L139.5 149.8L131.9 150.0" fill="#f0844c"/><path d="M139.0 141.7L146.6 141.5L146.8 149.6L139.2 149.8" fill="#f1854b"/><path d="M146.3 141.5L153.9 141.3L154.1 149.5L146.5 149.6" fill="#f2864a"/><path d="M153.6 141.3L161.2 141.1L161.4 149.3L153.8 149.5" fill="#f48848"/><path d="M160.9 141.1L168.6 140.9L168.8 149.1L161.2 149.3" fill="#f58a46"/><path d="M168.3 140.9L175.9 140.7L176.1 148.9L168.5 149.1" fill="#f68d45"/><path d="M175.6 140.7L183.2 140.5L183.4 148.7L175.8 148.9" fill="#f78f44"/><path d="M182.9 140.5L190.5 140.3L190.7 148.5L183.1 148.7" fill="#f79243"/><path d="M190.2 140.3L197.8 140.2L198.0 148.3L190.4 148.5" fill="#f79443"/><path d="M197.5 140.2L205.1 140.0L205.3 148.1L197.7 148.3" fill="#f79542"/><path d="M204.8 140.0L212.5 139.8L212.7 147.9L205.0 148.1" fill="#f89642"/><path d="M212.2 139.8L219.8 139.6L220.0 147.7L212.4 147.9" fill="#f89842"/><path d="M219.5 139.6L227.1 139.4L227.3 147.6L219.7 147.7" fill="#f89941"/><path d="M226.8 139.4L234.4 139.2L234.6 147.4L227.0 147.6" fill="#f89a41"/><path d="M234.1 139.2L241.7 139.0L241.9 147.2L234.3 147.4" fill="#f89b41"/><path d="M241.4 139.0L249.0 138.8L249.2 147.0L241.6 147.2" fill="#f89a41"/><path d="M248.7 138.8L256.4 138.6L256.5 146.8L248.9 147.0" fill="#f79442"/><path d="M256.1 138.6L263.7 138.4L263.9 146.6L256.3 146.8" fill="#f58a46"/><path d="M263.4 138.4L271.0 138.3L271.2 146.4L263.6 146.6" fill="#ef834e"/><path d="M270.7 138.3L278.3 138.1L278.5 146.2L270.9 146.4" fill="#eb7e53"/><path d="M278.0 138.1L285.6 137.9L285.8 146.0L278.2 146.2" fill="#ea7c55"/><path d="M285.3 137.9L292.9 137.7L293.1 145.8L285.5 146.0" fill="#ea7c55"/><path d="M292.6 137.7L300.3 137.5L300.4 145.7L292.8 145.8" fill="#e97b56"/><path d="M300.0 137.5L307.6 137.3L307.8 145.5L300.1 145.7" fill="#dc6f65"/><path d="M307.3 137.3L314.9 137.1L315.1 145.3L307.5 145.5" fill="#ce696f"/><path d="M314.6 137.1L322.2 136.9L322.4 145.1L314.8 145.3" fill="#ba627c"/><path d="M321.9 136.9L329.5 136.7L329.7 144.9L322.1 145.1" fill="#b6617d"/><path d="M329.2 136.7L336.8 136.5L337.0 144.7L329.4 144.9" fill="#af5e80"/><path d="M336.5 136.5L344.2 136.4L344.3 144.5L336.7 144.7" fill="#af5e80"/><path d="M343.9 136.4L351.5 136.3L351.6 144.4L344.0 144.5" fill="#af5e80"/><path d="M351.2 136.3L358.8 136.2L359.0 144.4L351.4 144.4" fill="#af5e80"/><path d="M102.6 150.5L110.2 150.3L110.4 158.4L102.8 158.6" fill="#e97b56"/><path d="M109.9 150.3L117.5 150.1L117.8 158.3L110.2 158.4" fill="#ea7c55"/><path d="M117.3 150.1L124.9 149.9L125.1 158.1L117.5 158.3" fill="#eb7e54"/><path d="M124.6 149.9L132.2 149.7L132.4 157.9L124.8 158.1" fill="#ec7f52"/><path d="M131.9 149.7L139.5 149.5L139.7 157.7L132.1 157.9" fill="#ed8051"/><path d="M139.2 149.5L146.8 149.3L147.0 157.5L139.4 157.7" fill="#ee814f"/><path d="M146.5 149.3L154.1 149.1L154.3 157.3L146.7 157.5" fill="#ef834e"/><path d="M153.8 149.1L161.4 148.9L161.6 157.1L154.0 157.3" fill="#f1854c"/><path d="M161.1 149.0L168.8 148.8L169.0 156.9L161.4 157.1" fill="#f38749"/><path d="M168.5 148.8L176.1 148.6L176.3 156.7L168.7 156.9" fill="#f58a46"/><path d="M175.8 148.6L183.4 148.4L183.6 156.5L176.0 156.7" fill="#f68c45"/><path d="M183.1 148.4L190.7 148.2L190.9 156.4L183.3 156.5" fill="#f78f44"/><path d="M190.4 148.2L198.0 148.0L198.2 156.2L190.6 156.4" fill="#f79243"/><path d="M197.7 148.0L205.3 147.8L205.5 156.0L197.9 156.2" fill="#f79443"/><path d="M205.0 147.8L212.6 147.6L212.8 155.8L205.2 156.0" fill="#f89542"/><path d="M212.4 147.6L220.0 147.4L220.2 155.6L212.6 155.8" fill="#f89742"/><path d="M219.7 147.4L227.3 147.2L227.5 155.4L219.9 155.6" fill="#f89742"/><path d="M227.0 147.2L234.6 147.0L234.8 155.2L227.2 155.4" fill="#f89842"/><path d="M234.3 147.1L241.9 146.9L242.1 155.0L234.5 155.2" fill="#f89842"/><path d="M241.6 146.9L249.2 146.7L249.4 154.8L241.8 155.0" fill="#f89742"/><path d="M248.9 146.7L256.5 146.5L256.7 154.6L249.1 154.8" fill="#f79243"/><path d="M256.2 146.5L263.9 146.3L264.0 154.5L256.4 154.6" fill="#f68b45"/><path d="M263.6 146.3L271.2 146.1L271.4 154.3L263.8 154.5" fill="#f2864b"/><path d="M270.9 146.1L278.5 145.9L278.7 154.1L271.1 154.3" fill="#ef824f"/><path d="M278.2 145.9L285.8 145.7L286.0 153.9L278.4 154.1" fill="#ed8051"/><path d="M285.5 145.7L293.1 145.5L293.3 153.7L285.7 153.9" fill="#eb7d54"/><path d="M292.8 145.5L300.4 145.3L300.6 153.5L293.0 153.7" fill="#e77959"/><path d="M300.1 145.3L307.7 145.1L307.9 153.3L300.3 153.5" fill="#e77958"/><path d="M307.5 145.2L315.1 145.0L315.2 153.1L307.6 153.3" fill="#e3735f"/><path d="M314.8 145.0L322.4 144.8L322.6 152.9L315.0 153.1" fill="#d56c6a"/><path d="M322.1 144.8L329.7 144.6L329.9 152.7L322.3 152.9" fill="#c56676"/><path d="M329.4 144.6L337.0 144.4L337.2 152.6L329.6 152.7" fill="#c26478"/><path d="M336.7 144.4L344.3 144.2L344.5 152.4L336.9 152.6" fill="#b15f7f"/><path d="M344.0 144.2L351.6 144.1L351.8 152.3L344.2 152.4" fill="#b05f80"/><path d="M351.4 144.1L359.0 144.1L359.1 152.2L351.5 152.3" fill="#af5e80"/><path d="M358.7 144.1L366.3 144.0L366.4 152.2L358.8 152.2" fill="#af5e80"/><path d="M102.8 158.3L110.4 158.1L110.7 166.3L103.0 166.5" fill="#e77958"/><path d="M110.1 158.1L117.8 157.9L118.0 166.1L110.4 166.3" fill="#e87a58"/><path d="M117.5 157.9L125.1 157.7L125.3 165.9L117.7 166.1" fill="#e97b57"/><path d="M124.8 157.8L132.4 157.6L132.6 165.7L125.0 165.9" fill="#ea7c55"/><path d="M132.1 157.6L139.7 157.4L139.9 165.5L132.3 165.7" fill="#eb7d54"/><path d="M139.4 157.4L147.0 157.2L147.2 165.3L139.6 165.5" fill="#ec7e53"/><path d="M146.7 157.2L154.3 157.0L154.5 165.1L146.9 165.3" fill="#ed8051"/><path d="M154.0 157.0L161.6 156.8L161.8 165.0L154.2 165.2" fill="#ef824e"/><path d="M161.3 156.8L169.0 156.6L169.2 164.8L161.6 165.0" fill="#f1854c"/><path d="M168.7 156.6L176.3 156.4L176.5 164.6L168.9 164.8" fill="#f38749"/><path d="M176.0 156.4L183.6 156.2L183.8 164.4L176.2 164.6" fill="#f58a46"/><path d="M183.3 156.2L190.9 156.0L191.1 164.2L183.5 164.4" fill="#f68c45"/><path d="M190.6 156.0L198.2 155.8L198.4 164.0L190.8 164.2" fill="#f78f44"/><path d="M197.9 155.9L205.5 155.7L205.7 163.8L198.1 164.0" fill="#f79243"/><path d="M205.2 155.7L212.8 155.5L213.0 163.6L205.4 163.8" fill="#f79343"/><path d="M212.5 155.5L220.2 155.3L220.4 163.4L212.7 163.6" fill="#f79443"/><path d="M219.9 155.3L227.5 155.1L227.7 163.2L220.1 163.4" fill="#f79443"/><path d="M227.2 155.1L234.8 154.9L235.0 163.1L227.4 163.3" fill="#f79343"/><path d="M234.5 154.9L242.1 154.7L242.3 162.9L234.7 163.1" fill="#f79243"/><path d="M241.8 154.7L249.4 154.5L249.6 162.7L242.0 162.9" fill="#f79144"/><path d="M249.1 154.5L256.7 154.3L256.9 162.5L249.3 162.7" fill="#f68e44"/><path d="M256.4 154.3L264.0 154.1L264.2 162.3L256.6 162.5" fill="#f68b45"/><path d="M263.7 154.1L271.4 153.9L271.5 162.1L263.9 162.3" fill="#f38848"/><path d="M271.1 154.0L278.7 153.8L278.9 161.9L271.3 162.1" fill="#f2864b"/><path d="M278.4 153.8L286.0 153.6L286.2 161.7L278.6 161.9" fill="#f0834d"/><path d="M285.7 153.6L293.3 153.4L293.5 161.5L285.9 161.7" fill="#ee8150"/><path d="M293.0 153.4L300.6 153.2L300.8 161.3L293.2 161.5" fill="#ed7f51"/><path d="M300.3 153.2L307.9 153.0L308.1 161.2L300.5 161.4" fill="#ee8050"/><path d="M307.6 153.0L315.2 152.8L315.4 161.0L307.8 161.2" fill="#ec7f52"/><path d="M314.9 152.8L322.6 152.6L322.7 160.8L315.1 161.0" fill="#e77959"/><path d="M322.3 152.6L329.9 152.4L330.0 160.6L322.4 160.8" fill="#e27260"/><path d="M329.6 152.4L337.2 152.2L337.4 160.4L329.8 160.6" fill="#dd7064"/><path d="M336.9 152.2L344.5 152.1L344.7 160.2L337.1 160.4" fill="#d16b6d"/><path d="M344.2 152.1L351.8 152.0L352.0 160.1L344.4 160.2" fill="#be637a"/><path d="M351.5 152.0L359.1 151.9L359.3 160.1L351.7 160.1" fill="#b05f80"/><path d="M103.0 166.2L110.6 166.0L110.9 174.1L103.3 174.3" fill="#e6775b"/><path d="M110.4 166.0L118.0 165.8L118.2 173.9L110.6 174.1" fill="#e6775a"/><path d="M117.7 165.8L125.3 165.6L125.5 173.8L117.9 174.0" fill="#e77859"/><path d="M125.0 165.6L132.6 165.4L132.8 173.6L125.2 173.8" fill="#e77958"/><path d="M132.3 165.4L139.9 165.2L140.1 173.4L132.5 173.6" fill="#e87a57"/><path d="M139.6 165.2L147.2 165.0L147.4 173.2L139.8 173.4" fill="#ea7c56"/><path d="M146.9 165.0L154.5 164.8L154.7 173.0L147.1 173.2" fill="#eb7d54"/><path d="M154.2 164.8L161.8 164.6L162.0 172.8L154.4 173.0" fill="#ed8051"/><path d="M161.5 164.7L169.2 164.5L169.4 172.6L161.8 172.8" fill="#ef824e"/><path d="M168.9 164.5L176.5 164.3L176.7 172.4L169.1 172.6" fill="#f1854b"/><path d="M176.2 164.3L183.8 164.1L184.0 172.2L176.4 172.4" fill="#f38749"/><path d="M183.5 164.1L191.1 163.9L191.3 172.0L183.7 172.2" fill="#f58a46"/><path d="M190.8 163.9L198.4 163.7L198.6 171.9L191.0 172.1" fill="#f68c45"/><path d="M198.1 163.7L205.7 163.5L205.9 171.7L198.3 171.9" fill="#f78f44"/><path d="M205.4 163.5L213.0 163.3L213.2 171.5L205.6 171.7" fill="#f79143"/><path d="M212.7 163.3L220.3 163.1L220.5 171.3L212.9 171.5" fill="#f79143"/><path d="M220.1 163.1L227.7 162.9L227.9 171.1L220.2 171.3" fill="#f79044"/><path d="M227.4 162.9L235.0 162.7L235.2 170.9L227.6 171.1" fill="#f68e44"/><path d="M234.7 162.8L242.3 162.6L242.5 170.7L234.9 170.9" fill="#f68c45"/><path d="M242.0 162.6L249.6 162.4L249.8 170.5L242.2 170.7" fill="#f58a46"/><path d="M249.3 162.4L256.9 162.2L257.1 170.3L249.5 170.5" fill="#f48947"/><path d="M256.6 162.2L264.2 162.0L264.4 170.1L256.8 170.3" fill="#f48848"/><path d="M263.9 162.0L271.5 161.8L271.7 170.0L264.1 170.2" fill="#f48948"/><path d="M271.2 161.8L278.8 161.6L279.0 169.8L271.4 170.0" fill="#f48848"/><path d="M278.6 161.6L286.2 161.4L286.3 169.6L278.7 169.8" fill="#f38849"/><path d="M285.9 161.4L293.5 161.2L293.7 169.4L286.1 169.6" fill="#f2864a"/><path d="M293.2 161.2L300.8 161.0L301.0 169.2L293.4 169.4" fill="#f2854b"/><path d="M300.5 161.0L308.1 160.8L308.3 169.0L300.7 169.2" fill="#f1854b"/><path d="M307.8 160.9L315.4 160.7L315.6 168.8L308.0 169.0" fill="#f1854c"/><path d="M315.1 160.7L322.7 160.5L322.9 168.6L315.3 168.8" fill="#ef834e"/><path d="M322.4 160.5L330.0 160.3L330.2 168.4L322.6 168.6" fill="#ee814f"/><path d="M329.7 160.3L337.4 160.1L337.5 168.2L329.9 168.4" fill="#ee8150"/><path d="M337.1 160.1L344.7 159.9L344.8 168.1L337.2 168.3" fill="#e87958"/><path d="M344.4 159.9L352.0 159.8L352.2 168.0L344.6 168.1" fill="#cb6872"/><path d="M351.7 159.8L359.3 159.8L359.5 167.9L351.9 168.0" fill="#b05f80"/><path d="M103.2 174.0L110.9 173.8L111.1 182.0L103.5 182.2" fill="#e4755d"/><path d="M110.6 173.8L118.2 173.6L118.4 181.8L110.8 182.0" fill="#e4755d"/><path d="M117.9 173.6L125.5 173.4L125.7 181.6L118.1 181.8" fill="#e5765c"/><path d="M125.2 173.4L132.8 173.3L133.0 181.4L125.4 181.6" fill="#e5765b"/><path d="M132.5 173.3L140.1 173.1L140.3 181.2L132.7 181.4" fill="#e6785a"/><path d="M139.8 173.1L147.4 172.9L147.6 181.0L140.0 181.2" fill="#e87958"/><path d="M147.1 172.9L154.7 172.7L154.9 180.8L147.3 181.0" fill="#e97b56"/><path d="M154.4 172.7L162.0 172.5L162.2 180.7L154.6 180.9" fill="#eb7e53"/><path d="M161.7 172.5L169.4 172.3L169.6 180.5L162.0 180.7" fill="#ed8050"/><path d="M169.1 172.3L176.7 172.1L176.9 180.3L169.3 180.5" fill="#ef834e"/><path d="M176.4 172.1L184.0 171.9L184.2 180.1L176.6 180.3" fill="#f1854b"/><path d="M183.7 171.9L191.3 171.7L191.5 179.9L183.9 180.1" fill="#f38749"/><path d="M191.0 171.7L198.6 171.5L198.8 179.7L191.2 179.9" fill="#f58a46"/><path d="M198.3 171.6L205.9 171.4L206.1 179.5L198.5 179.7" fill="#f68c45"/><path d="M205.6 171.4L213.2 171.2L213.4 179.3L205.8 179.5" fill="#f68e44"/><path d="M212.9 171.2L220.5 171.0L220.7 179.1L213.1 179.3" fill="#f68e44"/><path d="M220.2 171.0L227.8 170.8L228.0 178.9L220.4 179.1" fill="#f68d45"/><path d="M227.6 170.8L235.2 170.6L235.4 178.8L227.8 179.0" fill="#f58a46"/><path d="M234.9 170.6L242.5 170.4L242.7 178.6L235.1 178.8" fill="#f38849"/><path d="M242.2 170.4L249.8 170.2L250.0 178.4L242.4 178.6" fill="#f1854c"/><path d="M249.5 170.2L257.1 170.0L257.3 178.2L249.7 178.4" fill="#f0844d"/><path d="M256.8 170.0L264.4 169.8L264.6 178.0L257.0 178.2" fill="#f1854b"/><path d="M264.1 169.8L271.7 169.6L271.9 177.8L264.3 178.0" fill="#f38848"/><path d="M271.4 169.7L279.0 169.5L279.2 177.6L271.6 177.8" fill="#f58a46"/><path d="M278.7 169.5L286.3 169.3L286.5 177.4L278.9 177.6" fill="#f68b45"/><path d="M286.1 169.3L293.7 169.1L293.8 177.2L286.2 177.4" fill="#f68b45"/><path d="M293.4 169.1L301.0 168.9L301.2 177.0L293.5 177.2" fill="#f58a46"/><path d="M300.7 168.9L308.3 168.7L308.5 176.9L300.9 177.1" fill="#f48947"/><path d="M308.0 168.7L315.6 168.5L315.8 176.7L308.2 176.9" fill="#f2864a"/><path d="M315.3 168.5L322.9 168.3L323.1 176.5L315.5 176.7" fill="#f0844c"/><path d="M322.6 168.3L330.2 168.1L330.4 176.3L322.8 176.5" fill="#f0844c"/><path d="M329.9 168.1L337.5 167.9L337.7 176.1L330.1 176.3" fill="#ef834e"/><path d="M337.2 167.9L344.8 167.7L345.0 175.9L337.4 176.1" fill="#e77958"/><path d="M344.5 167.8L352.2 167.7L352.3 175.8L344.7 175.9" fill="#cc6971"/><path d="M351.9 167.7L359.5 167.6L359.6 175.8L352.0 175.8" fill="#b15f7f"/><path d="M103.5 181.9L111.1 181.7L111.3 189.8L103.7 190.0" fill="#e2735f"/><path d="M110.8 181.7L118.4 181.5L118.6 189.6L111.0 189.8" fill="#e2735f"/><path d="M118.1 181.5L125.7 181.3L125.9 189.5L118.3 189.6" fill="#e3735f"/><path d="M125.4 181.3L133.0 181.1L133.2 189.3L125.6 189.5" fill="#e3745e"/><path d="M132.7 181.1L140.3 180.9L140.5 189.1L132.9 189.3" fill="#e4755c"/><path d="M140.0 180.9L147.6 180.7L147.8 188.9L140.2 189.1" fill="#e6775b"/><path d="M147.3 180.7L154.9 180.5L155.1 188.7L147.5 188.9" fill="#e87958"/><path d="M154.6 180.5L162.2 180.3L162.4 188.5L154.8 188.7" fill="#ea7c56"/><path d="M161.9 180.3L169.5 180.2L169.8 188.3L162.2 188.5" fill="#ec7e53"/><path d="M169.3 180.2L176.9 180.0L177.1 188.1L169.5 188.3" fill="#ee8150"/><path d="M176.6 180.0L184.2 179.8L184.4 187.9L176.8 188.1" fill="#ef834e"/><path d="M183.9 179.8L191.5 179.6L191.7 187.7L184.1 187.9" fill="#f1854c"/><path d="M191.2 179.6L198.8 179.4L199.0 187.6L191.4 187.7" fill="#f3874a"/><path d="M198.5 179.4L206.1 179.2L206.3 187.4L198.7 187.6" fill="#f48947"/><path d="M205.8 179.2L213.4 179.0L213.6 187.2L206.0 187.4" fill="#f58a46"/><path d="M213.1 179.0L220.7 178.8L220.9 187.0L213.3 187.2" fill="#f58a46"/><path d="M220.4 178.8L228.0 178.6L228.2 186.8L220.6 187.0" fill="#f48947"/><path d="M227.7 178.6L235.3 178.4L235.5 186.6L227.9 186.8" fill="#f3874a"/><path d="M235.1 178.4L242.7 178.3L242.9 186.4L235.3 186.6" fill="#f0834d"/><path d="M242.4 178.3L250.0 178.1L250.2 186.2L242.6 186.4" fill="#ec7f52"/><path d="M249.7 178.1L257.3 177.9L257.5 186.0L249.9 186.2" fill="#eb7d54"/><path d="M257.0 177.9L264.6 177.7L264.8 185.8L257.2 186.0" fill="#ee8150"/><path d="M264.3 177.7L271.9 177.5L272.1 185.7L264.5 185.8" fill="#f2864b"/><path d="M271.6 177.5L279.2 177.3L279.4 185.5L271.8 185.7" fill="#f58a46"/><path d="M278.9 177.3L286.5 177.1L286.7 185.3L279.1 185.5" fill="#f68e44"/><path d="M286.2 177.1L293.8 176.9L294.0 185.1L286.4 185.3" fill="#f78f44"/><path d="M293.5 176.9L301.1 176.7L301.3 184.9L293.7 185.1" fill="#f68e44"/><path d="M300.9 176.7L308.5 176.5L308.6 184.7L301.0 184.9" fill="#f68b45"/><path d="M308.2 176.5L315.8 176.4L315.9 184.5L308.3 184.7" fill="#f38749"/><path d="M315.5 176.4L323.1 176.2L323.3 184.3L315.7 184.5" fill="#f1854c"/><path d="M322.8 176.2L330.4 176.0L330.6 184.1L323.0 184.3" fill="#f0844d"/><path d="M330.1 176.0L337.7 175.8L337.9 183.9L330.3 184.1" fill="#ec7f52"/><path d="M337.4 175.8L345.0 175.6L345.2 183.8L337.6 183.9" fill="#e4755d"/><path d="M344.7 175.6L352.3 175.5L352.5 183.7L344.9 183.8" fill="#c66675"/><path d="M103.7 189.7L111.3 189.5L111.5 197.7L103.9 197.9" fill="#e17161"/><path d="M111.0 189.5L118.6 189.3L118.8 197.5L111.2 197.7" fill="#e17161"/><path d="M118.3 189.3L125.9 189.1L126.1 197.3L118.5 197.5" fill="#e17161"/><path d="M125.6 189.1L133.2 188.9L133.4 197.1L125.8 197.3" fill="#e27260"/><path d="M132.9 189.0L140.5 188.8L140.7 196.9L133.1 197.1" fill="#e3735f"/><path d="M140.2 188.8L147.8 188.6L148.0 196.7L140.4 196.9" fill="#e4745d"/><path d="M147.5 188.6L155.1 188.4L155.3 196.5L147.7 196.7" fill="#e5765b"/><path d="M154.8 188.4L162.4 188.2L162.6 196.4L155.0 196.5" fill="#e87958"/><path d="M162.1 188.2L169.7 188.0L170.0 196.2L162.4 196.4" fill="#ea7c55"/><path d="M169.5 188.0L177.1 187.8L177.3 196.0L169.7 196.2" fill="#ec7f52"/><path d="M176.8 187.8L184.4 187.6L184.6 195.8L177.0 196.0" fill="#ee8150"/><path d="M184.1 187.6L191.7 187.4L191.9 195.6L184.3 195.8" fill="#ee824f"/><path d="M191.4 187.4L199.0 187.2L199.2 195.4L191.6 195.6" fill="#ef824e"/><path d="M198.7 187.2L206.3 187.0L206.5 195.2L198.9 195.4" fill="#f0834d"/><path d="M206.0 187.1L213.6 186.9L213.8 195.0L206.2 195.2" fill="#f0834d"/><path d="M213.3 186.9L220.9 186.7L221.1 194.8L213.5 195.0" fill="#ef824e"/><path d="M220.6 186.7L228.2 186.5L228.4 194.6L220.8 194.8" fill="#ef824f"/><path d="M227.9 186.5L235.5 186.3L235.7 194.5L228.1 194.6" fill="#ee8150"/><path d="M235.2 186.3L242.8 186.1L243.0 194.3L235.4 194.5" fill="#eb7e53"/><path d="M242.6 186.1L250.2 185.9L250.3 194.1L242.7 194.3" fill="#e87958"/><path d="M249.9 185.9L257.5 185.7L257.7 193.9L250.1 194.1" fill="#e6775a"/><path d="M257.2 185.7L264.8 185.5L265.0 193.7L257.4 193.9" fill="#ea7c56"/><path d="M264.5 185.5L272.1 185.3L272.3 193.5L264.7 193.7" fill="#ef824f"/><path d="M271.8 185.3L279.4 185.1L279.6 193.3L272.0 193.5" fill="#f48848"/><path d="M279.1 185.2L286.7 185.0L286.9 193.1L279.3 193.3" fill="#f68d44"/><path d="M286.4 185.0L294.0 184.8L294.2 192.9L286.6 193.1" fill="#f78f44"/><path d="M293.7 184.8L301.3 184.6L301.5 192.7L293.9 192.9" fill="#f68e44"/><path d="M301.0 184.6L308.6 184.4L308.8 192.6L301.2 192.7" fill="#f58947"/><path d="M308.3 184.4L315.9 184.2L316.1 192.4L308.5 192.6" fill="#f38849"/><path d="M315.6 184.2L323.3 184.0L323.4 192.2L315.8 192.4" fill="#f48948"/><path d="M323.0 184.0L330.6 183.8L330.7 192.0L323.1 192.2" fill="#f1854b"/><path d="M330.3 183.8L337.9 183.6L338.0 191.8L330.4 192.0" fill="#e97b56"/><path d="M337.6 183.6L345.2 183.4L345.4 191.6L337.8 191.8" fill="#d86d68"/><path d="M344.9 183.4L352.5 183.4L352.7 191.5L345.1 191.6" fill="#c36577"/><path d="M103.9 197.6L111.5 197.4L111.7 205.5L104.1 205.7" fill="#df7062"/><path d="M111.2 197.4L118.8 197.2L119.0 205.3L111.4 205.5" fill="#df7062"/><path d="M118.5 197.2L126.1 197.0L126.3 205.1L118.7 205.3" fill="#e07162"/><path d="M125.8 197.0L133.4 196.8L133.6 205.0L126.0 205.2" fill="#e17161"/><path d="M133.1 196.8L140.7 196.6L140.9 204.8L133.3 205.0" fill="#e17161"/><path d="M140.4 196.6L148.0 196.4L148.2 204.6L140.6 204.8" fill="#e27260"/><path d="M147.7 196.4L155.3 196.2L155.5 204.4L147.9 204.6" fill="#e3745e"/><path d="M155.0 196.2L162.6 196.0L162.8 204.2L155.2 204.4" fill="#e6775b"/><path d="M162.3 196.0L169.9 195.8L170.2 204.0L162.6 204.2" fill="#e87a58"/><path d="M169.7 195.9L177.3 195.7L177.5 203.8L169.9 204.0" fill="#ea7c55"/><path d="M177.0 195.7L184.6 195.5L184.8 203.6L177.2 203.8" fill="#eb7d54"/><path d="M184.3 195.5L191.9 195.3L192.1 203.4L184.5 203.6" fill="#eb7d54"/><path d="M191.6 195.3L199.2 195.1L199.4 203.2L191.8 203.4" fill="#e97b56"/><path d="M198.9 195.1L206.5 194.9L206.7 203.1L199.1 203.3" fill="#e87a58"/><path d="M206.2 194.9L213.8 194.7L214.0 202.9L206.4 203.1" fill="#e6775b"/><path d="M213.5 194.7L221.1 194.5L221.3 202.7L213.7 202.9" fill="#e2725f"/><path d="M220.8 194.5L228.4 194.3L228.6 202.5L221.0 202.7" fill="#de7063"/><path d="M228.1 194.3L235.7 194.1L235.9 202.3L228.3 202.5" fill="#dd6f64"/><path d="M235.4 194.1L243.0 193.9L243.2 202.1L235.6 202.3" fill="#db6f65"/><path d="M242.7 194.0L250.3 193.8L250.5 201.9L242.9 202.1" fill="#de7063"/><path d="M250.0 193.8L257.6 193.6L257.8 201.7L250.2 201.9" fill="#de7063"/><path d="M257.4 193.6L265.0 193.4L265.1 201.5L257.5 201.7" fill="#e4755d"/><path d="M264.7 193.4L272.3 193.2L272.5 201.3L264.9 201.5" fill="#eb7e53"/><path d="M272.0 193.2L279.6 193.0L279.8 201.2L272.2 201.4" fill="#f1854b"/><path d="M279.3 193.0L286.9 192.8L287.1 201.0L279.5 201.2" fill="#f48947"/><path d="M286.6 192.8L294.2 192.6L294.4 200.8L286.8 201.0" fill="#f68b45"/><path d="M293.9 192.6L301.5 192.4L301.7 200.6L294.1 200.8" fill="#f48948"/><path d="M301.2 192.4L308.8 192.2L309.0 200.4L301.4 200.6" fill="#f0844d"/><path d="M308.5 192.2L316.1 192.0L316.3 200.2L308.7 200.4" fill="#f0844d"/><path d="M315.8 192.1L323.4 191.9L323.6 200.0L316.0 200.2" fill="#f1844c"/><path d="M323.1 191.9L330.7 191.7L330.9 199.8L323.3 200.0" fill="#ec7f52"/><path d="M330.4 191.7L338.0 191.5L338.2 199.6L330.6 199.8" fill="#da6e66"/><path d="M337.7 191.5L345.3 191.3L345.5 199.5L337.9 199.6" fill="#ca6872"/><path d="M345.1 191.3L352.7 191.2L352.8 199.4L345.2 199.5" fill="#c66676"/><path d="M104.1 205.4L111.7 205.2L111.9 213.4L104.3 213.6" fill="#e07162"/><path d="M111.4 205.2L119.0 205.0L119.2 213.2L111.6 213.4" fill="#e07162"/><path d="M118.7 205.0L126.3 204.8L126.5 213.0L118.9 213.2" fill="#e07162"/><path d="M126.0 204.8L133.6 204.6L133.8 212.8L126.2 213.0" fill="#e07162"/><path d="M133.3 204.7L140.9 204.5L141.1 212.6L133.5 212.8" fill="#e07161"/><path d="M140.6 204.5L148.2 204.3L148.4 212.4L140.8 212.6" fill="#e17161"/><path d="M147.9 204.3L155.5 204.1L155.7 212.2L148.1 212.4" fill="#e2725f"/><path d="M155.2 204.1L162.8 203.9L163.0 212.0L155.5 212.2" fill="#e4755d"/><path d="M162.5 203.9L170.1 203.7L170.4 211.9L162.8 212.1" fill="#e6775b"/><path d="M169.9 203.7L177.5 203.5L177.7 211.7L170.1 211.9" fill="#e77859"/><path d="M177.2 203.5L184.8 203.3L185.0 211.5L177.4 211.7" fill="#e6775a"/><path d="M184.5 203.3L192.1 203.1L192.3 211.3L184.7 211.5" fill="#e3745e"/><path d="M191.8 203.1L199.4 202.9L199.6 211.1L192.0 211.3" fill="#dd6f64"/><path d="M199.1 202.9L206.7 202.7L206.9 210.9L199.3 211.1" fill="#d86d68"/><path d="M206.4 202.8L214.0 202.6L214.2 210.7L206.6 210.9" fill="#d26b6c"/><path d="M213.7 202.6L221.3 202.4L221.5 210.5L213.9 210.7" fill="#c86773"/><path d="M221.0 202.4L228.6 202.2L228.8 210.3L221.2 210.5" fill="#ba627c"/><path d="M228.3 202.2L235.9 202.0L236.1 210.1L228.5 210.3" fill="#b15f7f"/><path d="M235.6 202.0L243.2 201.8L243.4 210.0L235.8 210.2" fill="#b8617c"/><path d="M242.9 201.8L250.5 201.6L250.7 209.8L243.1 210.0" fill="#c0647a"/><path d="M250.2 201.6L257.8 201.4L258.0 209.6L250.4 209.8" fill="#cb6872"/><path d="M257.5 201.4L265.1 201.2L265.3 209.4L257.7 209.6" fill="#d76d69"/><path d="M264.8 201.2L272.4 201.0L272.6 209.2L265.0 209.4" fill="#e3735e"/><path d="M272.2 201.0L279.8 200.8L279.9 209.0L272.3 209.2" fill="#e97b56"/><path d="M279.5 200.9L287.1 200.7L287.2 208.8L279.7 209.0" fill="#ec7f52"/><path d="M286.8 200.7L294.4 200.5L294.6 208.6L287.0 208.8" fill="#ef824f"/><path d="M294.1 200.5L301.7 200.3L301.9 208.4L294.3 208.6" fill="#ef824e"/><path d="M301.4 200.3L309.0 200.1L309.2 208.2L301.6 208.4" fill="#ef834e"/><path d="M308.7 200.1L316.3 199.9L316.5 208.1L308.9 208.3" fill="#f0834d"/><path d="M316.0 199.9L323.6 199.7L323.8 207.9L316.2 208.1" fill="#f0844d"/><path d="M323.3 199.7L330.9 199.5L331.1 207.7L323.5 207.9" fill="#ea7c55"/><path d="M330.6 199.5L338.2 199.3L338.4 207.5L330.8 207.7" fill="#cd6970"/><path d="M337.9 199.3L345.5 199.1L345.7 207.3L338.1 207.5" fill="#b25f7f"/><path d="M104.3 213.3L111.9 213.1L112.1 221.2L104.5 221.4" fill="#e27260"/><path d="M111.6 213.1L119.2 212.9L119.4 221.0L111.8 221.2" fill="#e17161"/><path d="M118.9 212.9L126.5 212.7L126.7 220.8L119.1 221.0" fill="#e07162"/><path d="M126.2 212.7L133.8 212.5L134.0 220.7L126.4 220.9" fill="#e07162"/><path d="M133.5 212.5L141.1 212.3L141.3 220.5L133.7 220.7" fill="#e07162"/><path d="M140.8 212.3L148.4 212.1L148.6 220.3L141.0 220.5" fill="#e17161"/><path d="M148.1 212.1L155.7 211.9L155.9 220.1L148.3 220.3" fill="#e2725f"/><path d="M155.4 211.9L163.0 211.7L163.2 219.9L155.7 220.1" fill="#e3735f"/><path d="M162.7 211.7L170.3 211.5L170.6 219.7L163.0 219.9" fill="#e3745e"/><path d="M170.1 211.6L177.7 211.4L177.9 219.5L170.3 219.7" fill="#e3745e"/><path d="M177.4 211.4L185.0 211.2L185.2 219.3L177.6 219.5" fill="#e07161"/><path d="M184.7 211.2L192.3 211.0L192.5 219.1L184.9 219.3" fill="#d66d69"/><path d="M192.0 211.0L199.6 210.8L199.8 218.9L192.2 219.1" fill="#c96773"/><path d="M199.3 210.8L206.9 210.6L207.1 218.8L199.5 219.0" fill="#c06479"/><path d="M206.6 210.6L214.2 210.4L214.4 218.6L206.8 218.8" fill="#bd637b"/><path d="M213.9 210.4L221.5 210.2L221.7 218.4L214.1 218.6" fill="#b6607e"/><path d="M221.2 210.2L228.8 210.0L229.0 218.2L221.4 218.4" fill="#ab5d82"/><path d="M228.5 210.0L236.1 209.8L236.3 218.0L228.7 218.2" fill="#a75c84"/><path d="M235.8 209.8L243.4 209.6L243.6 217.8L236.0 218.0" fill="#a95d83"/><path d="M243.1 209.7L250.7 209.5L250.9 217.6L243.3 217.8" fill="#b05f80"/><path d="M250.4 209.5L258.0 209.3L258.2 217.4L250.6 217.6" fill="#ba627c"/><path d="M257.7 209.3L265.3 209.1L265.5 217.2L257.9 217.4" fill="#c66675"/><path d="M265.0 209.1L272.6 208.9L272.8 217.0L265.2 217.2" fill="#d16a6d"/><path d="M272.3 208.9L279.9 208.7L280.1 216.9L272.5 217.1" fill="#d96e67"/><path d="M279.6 208.7L287.2 208.5L287.4 216.7L279.8 216.9" fill="#df7063"/><path d="M286.9 208.5L294.5 208.3L294.7 216.5L287.1 216.7" fill="#e3735f"/><path d="M294.3 208.3L301.9 208.1L302.0 216.3L294.4 216.5" fill="#e87a58"/><path d="M301.6 208.1L309.2 207.9L309.3 216.1L301.7 216.3" fill="#ec7e53"/><path d="M308.9 207.9L316.5 207.7L316.6 215.9L309.1 216.1" fill="#eb7e53"/><path d="M316.2 207.8L323.8 207.6L324.0 215.7L316.4 215.9" fill="#e3735e"/><path d="M323.5 207.6L331.1 207.4L331.3 215.5L323.7 215.7" fill="#be637a"/><path d="M330.8 207.4L338.4 207.2L338.6 215.3L331.0 215.5" fill="#9b5888"/><path d="M338.1 207.2L345.7 207.0L345.9 215.1L338.3 215.3" fill="#93558a"/><path d="M104.5 221.1L112.1 220.9L112.3 229.1L104.7 229.3" fill="#e17161"/><path d="M111.8 220.9L119.4 220.7L119.6 228.9L112.0 229.1" fill="#e17161"/><path d="M119.1 220.7L126.7 220.5L126.9 228.7L119.3 228.9" fill="#e07062"/><path d="M126.4 220.5L134.0 220.3L134.2 228.5L126.6 228.7" fill="#df7063"/><path d="M133.7 220.3L141.3 220.2L141.5 228.3L133.9 228.5" fill="#df7063"/><path d="M141.0 220.2L148.6 220.0L148.8 228.1L141.2 228.3" fill="#df7062"/><path d="M148.3 220.0L155.9 219.8L156.1 227.9L148.5 228.1" fill="#e07162"/><path d="M155.6 219.8L163.2 219.6L163.4 227.7L155.9 227.9" fill="#e07062"/><path d="M162.9 219.6L170.5 219.4L170.8 227.6L163.2 227.7" fill="#df7062"/><path d="M170.3 219.4L177.9 219.2L178.1 227.4L170.5 227.6" fill="#dd6f64"/><path d="M177.6 219.2L185.2 219.0L185.4 227.2L177.8 227.4" fill="#d86d68"/><path d="M184.9 219.0L192.5 218.8L192.7 227.0L185.1 227.2" fill="#ce696f"/><path d="M192.2 218.8L199.8 218.6L200.0 226.8L192.4 227.0" fill="#c16479"/><path d="M199.5 218.6L207.1 218.4L207.3 226.6L199.7 226.8" fill="#b9617c"/><path d="M206.8 218.4L214.4 218.3L214.6 226.4L207.0 226.6" fill="#b6617d"/><path d="M214.1 218.3L221.7 218.1L221.9 226.2L214.3 226.4" fill="#b25f7f"/><path d="M221.4 218.1L229.0 217.9L229.2 226.0L221.6 226.2" fill="#ac5e81"/><path d="M228.7 217.9L236.3 217.7L236.5 225.8L228.9 226.0" fill="#a95d83"/><path d="M236.0 217.7L243.6 217.5L243.8 225.7L236.2 225.8" fill="#a95c83"/><path d="M243.3 217.5L250.9 217.3L251.1 225.5L243.5 225.7" fill="#ac5e81"/><path d="M250.6 217.3L258.2 217.1L258.4 225.3L250.8 225.5" fill="#b3607e"/><path d="M257.9 217.1L265.5 216.9L265.7 225.1L258.1 225.3" fill="#bc627b"/><path d="M265.2 216.9L272.8 216.7L273.0 224.9L265.4 225.1" fill="#c46577"/><path d="M272.5 216.7L280.1 216.5L280.3 224.7L272.7 224.9" fill="#cb6872"/><path d="M279.8 216.5L287.4 216.4L287.6 224.5L280.0 224.7" fill="#d06a6e"/><path d="M287.1 216.4L294.7 216.2L294.9 224.3L287.3 224.5" fill="#d56c6a"/><path d="M294.4 216.2L302.0 216.0L302.2 224.1L294.6 224.3" fill="#de7063"/><path d="M301.7 216.0L309.3 215.8L309.5 223.9L301.9 224.1" fill="#e3735f"/><path d="M309.0 215.8L316.6 215.6L316.8 223.8L309.2 223.9" fill="#d46c6a"/><path d="M316.3 215.6L323.9 215.4L324.1 223.6L316.5 223.8" fill="#9a5888"/><path d="M323.7 215.4L331.3 215.2L331.4 223.4L323.8 223.6" fill="#794b91"/><path d="M331.0 215.2L338.6 215.0L338.7 223.2L331.1 223.4" fill="#694495"/><path d="M338.3 215.0L345.9 214.8L346.0 223.0L338.4 223.2" fill="#8f548b"/><path d="M104.7 229.0L112.3 228.8L112.5 236.9L104.9 237.1" fill="#df7062"/><path d="M112.0 228.8L119.6 228.6L119.8 236.7L112.2 236.9" fill="#de7063"/><path d="M119.3 228.6L126.9 228.4L127.1 236.5L119.5 236.7" fill="#de7064"/><path d="M126.6 228.4L134.2 228.2L134.4 236.4L126.8 236.5" fill="#dd6f64"/><path d="M133.9 228.2L141.5 228.0L141.7 236.2L134.1 236.4" fill="#dc6f65"/><path d="M141.2 228.0L148.8 227.8L149.0 236.0L141.5 236.2" fill="#dc6f65"/><path d="M148.5 227.8L156.1 227.6L156.3 235.8L148.8 236.0" fill="#db6f65"/><path d="M155.8 227.6L163.4 227.4L163.6 235.6L156.1 235.8" fill="#db6e66"/><path d="M163.1 227.4L170.7 227.2L171.0 235.4L163.4 235.6" fill="#d96e67"/><path d="M170.5 227.2L178.0 227.0L178.3 235.2L170.7 235.4" fill="#d66d69"/><path d="M177.8 227.1L185.4 226.9L185.6 235.0L178.0 235.2" fill="#d26b6c"/><path d="M185.1 226.9L192.7 226.7L192.9 234.8L185.3 235.0" fill="#cc6971"/><path d="M192.4 226.7L200.0 226.5L200.2 234.6L192.6 234.8" fill="#c76675"/><path d="M199.7 226.5L207.3 226.3L207.5 234.5L199.9 234.6" fill="#c26478"/><path d="M207.0 226.3L214.6 226.1L214.8 234.3L207.2 234.5" fill="#bd637a"/><path d="M214.3 226.1L221.9 225.9L222.1 234.1L214.5 234.3" fill="#ba627c"/><path d="M221.6 225.9L229.2 225.7L229.4 233.9L221.8 234.1" fill="#b4607e"/><path d="M228.9 225.7L236.5 225.5L236.7 233.7L229.1 233.9" fill="#af5e80"/><path d="M236.2 225.5L243.8 225.3L244.0 233.5L236.4 233.7" fill="#ae5e81"/><path d="M243.5 225.3L251.1 225.1L251.3 233.3L243.7 233.5" fill="#b15f80"/><path d="M250.8 225.2L258.4 225.0L258.6 233.1L251.0 233.3" fill="#b7617d"/><path d="M258.1 225.0L265.7 224.8L265.9 232.9L258.3 233.1" fill="#bf637a"/><path d="M265.4 224.8L273.0 224.6L273.2 232.7L265.6 232.9" fill="#c46577"/><path d="M272.7 224.6L280.3 224.4L280.5 232.6L272.9 232.7" fill="#c66675"/><path d="M280.0 224.4L287.6 224.2L287.8 232.4L280.2 232.6" fill="#ca6872"/><path d="M287.3 224.2L294.9 224.0L295.1 232.2L287.5 232.4" fill="#cf6a6e"/><path d="M294.6 224.0L302.2 223.8L302.4 232.0L294.8 232.2" fill="#c96773"/><path d="M301.9 223.8L309.5 223.6L309.7 231.8L302.1 232.0" fill="#ab5d82"/><path d="M309.2 223.6L316.8 223.4L317.0 231.6L309.4 231.8" fill="#89518c"/><path d="M316.5 223.4L324.1 223.2L324.3 231.4L316.7 231.6" fill="#654297"/><path d="M323.8 223.3L331.4 223.1L331.6 231.2L324.0 231.4" fill="#523b9a"/><path d="M331.1 223.1L338.7 222.9L338.9 231.0L331.3 231.2" fill="#553c99"/><path d="M104.9 236.8L112.5 236.6L112.7 244.8L105.1 245.0" fill="#dd6f64"/><path d="M112.2 236.6L119.8 236.4L120.0 244.6L112.4 244.8" fill="#dc6f65"/><path d="M119.5 236.4L127.1 236.2L127.3 244.4L119.8 244.6" fill="#db6f65"/><path d="M126.8 236.2L134.4 236.0L134.6 244.2L127.1 244.4" fill="#da6e66"/><path d="M134.1 236.0L141.7 235.8L141.9 244.0L134.4 244.2" fill="#d96e67"/><path d="M141.4 235.9L149.0 235.7L149.2 243.8L141.7 244.0" fill="#d86d68"/><path d="M148.7 235.7L156.3 235.5L156.5 243.6L149.0 243.8" fill="#d76d69"/><path d="M156.0 235.5L163.6 235.3L163.8 243.4L156.3 243.6" fill="#d66c69"/><path d="M163.3 235.3L170.9 235.1L171.2 243.2L163.6 243.4" fill="#d46c6b"/><path d="M170.7 235.1L178.2 234.9L178.5 243.1L170.9 243.3" fill="#d16b6d"/><path d="M178.0 234.9L185.5 234.7L185.8 242.9L178.2 243.1" fill="#ce696f"/><path d="M185.3 234.7L192.9 234.5L193.1 242.7L185.5 242.9" fill="#cd6970"/><path d="M192.6 234.5L200.2 234.3L200.4 242.5L192.8 242.7" fill="#cc6871"/><path d="M199.9 234.3L207.5 234.1L207.7 242.3L200.1 242.5" fill="#ca6872"/><path d="M207.2 234.1L214.8 233.9L215.0 242.1L207.4 242.3" fill="#c76675"/><path d="M214.5 234.0L222.1 233.8L222.3 241.9L214.7 242.1" fill="#c26578"/><path d="M221.8 233.8L229.4 233.6L229.6 241.7L222.0 241.9" fill="#bc637b"/><path d="M229.1 233.6L236.7 233.4L236.9 241.5L229.3 241.7" fill="#b7617d"/><path d="M236.4 233.4L244.0 233.2L244.2 241.3L236.6 241.5" fill="#b4607e"/><path d="M243.7 233.2L251.3 233.0L251.5 241.2L243.9 241.4" fill="#b6617d"/><path d="M251.0 233.0L258.6 232.8L258.8 241.0L251.2 241.2" fill="#be637a"/><path d="M258.3 232.8L265.9 232.6L266.1 240.8L258.5 241.0" fill="#c86774"/><path d="M265.6 232.6L273.2 232.4L273.4 240.6L265.8 240.8" fill="#ca6872"/><path d="M272.9 232.4L280.5 232.2L280.7 240.4L273.1 240.6" fill="#c66675"/><path d="M280.2 232.2L287.8 232.0L288.0 240.2L280.4 240.4" fill="#c46577"/><path d="M287.5 232.1L295.1 231.9L295.3 240.0L287.7 240.2" fill="#cc6871"/><path d="M294.8 231.9L302.4 231.7L302.6 239.8L295.0 240.0" fill="#b5607e"/><path d="M302.1 231.7L309.7 231.5L309.9 239.6L302.3 239.8" fill="#975689"/><path d="M309.4 231.5L317.0 231.3L317.2 239.4L309.6 239.6" fill="#714793"/><path d="M316.7 231.3L324.3 231.1L324.5 239.3L316.9 239.5" fill="#533b99"/><path d="M324.0 231.1L331.6 230.9L331.8 239.1L324.2 239.3" fill="#523b9a"/><path d="M105.1 244.7L112.7 244.5L113.0 252.6L105.4 252.8" fill="#db6f65"/><path d="M112.4 244.5L120.0 244.3L120.3 252.4L112.7 252.6" fill="#db6e66"/><path d="M119.7 244.3L127.3 244.1L127.6 252.2L120.0 252.4" fill="#da6e66"/><path d="M127.0 244.1L134.6 243.9L134.9 252.0L127.3 252.2" fill="#d96e67"/><path d="M134.3 243.9L141.9 243.7L142.2 251.9L134.6 252.1" fill="#d76d68"/><path d="M141.6 243.7L149.2 243.5L149.5 251.7L141.9 251.9" fill="#d56c6a"/><path d="M148.9 243.5L156.5 243.3L156.8 251.5L149.2 251.7" fill="#d46c6b"/><path d="M156.2 243.3L163.8 243.1L164.1 251.3L156.5 251.5" fill="#d36b6b"/><path d="M163.5 243.1L171.1 242.9L171.3 251.1L163.8 251.3" fill="#d26b6c"/><path d="M170.9 242.9L178.4 242.7L178.6 250.9L171.1 251.1" fill="#d06a6e"/><path d="M178.2 242.8L185.7 242.6L185.9 250.7L178.4 250.9" fill="#cd6970"/><path d="M185.5 242.6L193.0 242.4L193.2 250.5L185.7 250.7" fill="#ce696f"/><path d="M192.8 242.4L200.3 242.2L200.5 250.3L193.0 250.5" fill="#ce696f"/><path d="M200.1 242.2L207.6 242.0L207.8 250.1L200.3 250.3" fill="#ce696f"/><path d="M207.4 242.0L215.0 241.8L215.1 250.0L207.6 250.2" fill="#cd6970"/><path d="M214.7 241.8L222.3 241.6L222.4 249.8L214.9 250.0" fill="#c86774"/><path d="M222.0 241.6L229.6 241.4L229.7 249.6L222.2 249.8" fill="#c26478"/><path d="M229.3 241.4L236.9 241.2L237.0 249.4L229.5 249.6" fill="#bb627b"/><path d="M236.6 241.2L244.2 241.0L244.3 249.2L236.8 249.4" fill="#b7617d"/><path d="M243.9 241.0L251.5 240.8L251.6 249.0L244.1 249.2" fill="#b7617d"/><path d="M251.2 240.9L258.8 240.7L258.9 248.8L251.4 249.0" fill="#c0647a"/><path d="M258.5 240.7L266.1 240.5L266.2 248.6L258.7 248.8" fill="#cb6872"/><path d="M265.8 240.5L273.4 240.3L273.5 248.4L266.0 248.6" fill="#cc6971"/><path d="M273.1 240.3L280.7 240.1L280.8 248.2L273.3 248.4" fill="#c76675"/><path d="M280.4 240.1L288.0 239.9L288.1 248.1L280.6 248.3" fill="#c86774"/><path d="M287.7 239.9L295.3 239.7L295.4 247.9L287.9 248.1" fill="#cd6970"/><path d="M295.0 239.7L302.6 239.5L302.7 247.7L295.2 247.9" fill="#b15f7f"/><path d="M302.3 239.5L309.9 239.3L310.0 247.5L302.5 247.7" fill="#93558a"/><path d="M309.6 239.3L317.2 239.1L317.3 247.3L309.8 247.5" fill="#794b91"/><path d="M316.9 239.1L324.5 238.9L324.6 247.1L317.1 247.3" fill="#603f98"/><path d="M324.2 239.0L331.8 238.8L331.9 246.9L324.4 247.1" fill="#533b99"/><path d="M105.3 252.5L112.9 252.3L113.2 260.5L105.6 260.7" fill="#db6f65"/><path d="M112.6 252.3L120.2 252.1L120.5 260.3L112.9 260.5" fill="#da6e66"/><path d="M119.9 252.1L127.5 251.9L127.8 260.1L120.2 260.3" fill="#da6e66"/><path d="M127.2 251.9L134.8 251.7L135.1 259.9L127.5 260.1" fill="#d96e67"/><path d="M134.5 251.7L142.1 251.5L142.4 259.7L134.8 259.9" fill="#d76d68"/><path d="M141.8 251.5L149.4 251.4L149.7 259.5L142.1 259.7" fill="#d56c6a"/><path d="M149.1 251.4L156.7 251.2L157.0 259.3L149.4 259.5" fill="#d46c6b"/><path d="M156.4 251.2L164.0 251.0L164.3 259.1L156.7 259.3" fill="#d36b6c"/><path d="M163.8 251.0L171.3 250.8L171.5 258.9L164.0 259.1" fill="#d26b6c"/><path d="M171.0 250.8L178.6 250.6L178.8 258.8L171.3 259.0" fill="#d16a6d"/><path d="M178.3 250.6L185.9 250.4L186.1 258.6L178.6 258.8" fill="#cf6a6e"/><path d="M185.6 250.4L193.2 250.2L193.4 258.4L185.9 258.6" fill="#ce696f"/><path d="M192.9 250.2L200.5 250.0L200.7 258.2L193.2 258.4" fill="#ce696f"/><path d="M200.2 250.0L207.8 249.8L208.0 258.0L200.5 258.2" fill="#cf6a6f"/><path d="M207.6 249.8L215.1 249.6L215.3 257.8L207.8 258.0" fill="#ce696f"/><path d="M214.9 249.6L222.4 249.5L222.6 257.6L215.0 257.8" fill="#ca6872"/><path d="M222.2 249.5L229.7 249.3L229.9 257.4L222.3 257.6" fill="#c36577"/><path d="M229.4 249.3L237.0 249.1L237.2 257.2L229.6 257.4" fill="#ba627c"/><path d="M236.8 249.1L244.3 248.9L244.5 257.0L236.9 257.2" fill="#b25f7f"/><path d="M244.1 248.9L251.6 248.7L251.8 256.9L244.2 257.1" fill="#b15f80"/><path d="M251.3 248.7L258.9 248.5L259.1 256.7L251.5 256.9" fill="#b9617c"/><path d="M258.6 248.5L266.2 248.3L266.4 256.5L258.8 256.7" fill="#c76774"/><path d="M265.9 248.3L273.5 248.1L273.7 256.3L266.1 256.5" fill="#c76774"/><path d="M273.2 248.1L280.8 247.9L281.0 256.1L273.4 256.3" fill="#c16479"/><path d="M280.5 247.9L288.1 247.7L288.3 255.9L280.7 256.1" fill="#c36578"/><path d="M287.9 247.8L295.4 247.6L295.6 255.7L288.0 255.9" fill="#ca6773"/><path d="M295.2 247.6L302.7 247.4L302.9 255.5L295.3 255.7" fill="#b6617d"/><path d="M302.4 247.4L310.0 247.2L310.2 255.3L302.6 255.5" fill="#92558a"/><path d="M309.8 247.2L317.3 247.0L317.5 255.1L309.9 255.3" fill="#714793"/><path d="M317.0 247.0L324.6 246.8L324.8 255.0L317.2 255.2" fill="#543b99"/><path d="M105.6 260.3L113.2 260.2L113.4 268.3L105.8 268.5" fill="#dc6f65"/><path d="M112.9 260.2L120.4 260.0L120.7 268.1L113.1 268.3" fill="#db6e66"/><path d="M120.2 260.0L127.7 259.8L128.0 267.9L120.4 268.1" fill="#da6e66"/><path d="M127.5 259.8L135.0 259.6L135.3 267.7L127.7 267.9" fill="#d96e67"/><path d="M134.8 259.6L142.3 259.4L142.6 267.6L135.0 267.7" fill="#d76d68"/><path d="M142.1 259.4L149.6 259.2L149.9 267.4L142.3 267.6" fill="#d56c6a"/><path d="M149.4 259.2L156.9 259.0L157.2 267.2L149.6 267.4" fill="#d36b6b"/><path d="M156.7 259.0L164.2 258.8L164.5 267.0L156.9 267.2" fill="#d06a6d"/><path d="M164.0 258.8L171.5 258.6L171.7 266.8L164.2 267.0" fill="#ce696f"/><path d="M171.2 258.6L178.8 258.4L179.0 266.6L171.5 266.8" fill="#cd6970"/><path d="M178.5 258.4L186.1 258.3L186.3 266.4L178.8 266.6" fill="#cb6872"/><path d="M185.8 258.3L193.4 258.1L193.6 266.2L186.1 266.4" fill="#c76774"/><path d="M193.1 258.1L200.7 257.9L200.9 266.0L193.3 266.2" fill="#c86774"/><path d="M200.4 257.9L208.0 257.7L208.2 265.8L200.6 266.0" fill="#cb6871"/><path d="M207.7 257.7L215.3 257.5L215.5 265.7L207.9 265.8" fill="#cd6970"/><path d="M215.0 257.5L222.6 257.3L222.8 265.5L215.2 265.7" fill="#cb6871"/><path d="M222.3 257.3L229.9 257.1L230.1 265.3L222.5 265.5" fill="#c56576"/><path d="M229.6 257.1L237.2 256.9L237.4 265.1L229.8 265.3" fill="#ba627c"/><path d="M236.9 256.9L244.5 256.7L244.7 264.9L237.1 265.1" fill="#af5e80"/><path d="M244.2 256.7L251.8 256.5L252.0 264.7L244.4 264.9" fill="#a95d83"/><path d="M251.5 256.5L259.1 256.4L259.3 264.5L251.7 264.7" fill="#ac5d82"/><path d="M258.8 256.4L266.4 256.2L266.6 264.3L259.0 264.5" fill="#c0647a"/><path d="M266.1 256.2L273.7 256.0L273.9 264.1L266.3 264.3" fill="#c56676"/><path d="M273.4 256.0L281.0 255.8L281.2 263.9L273.6 264.1" fill="#c16479"/><path d="M280.7 255.8L288.3 255.6L288.5 263.8L280.9 263.9" fill="#bb627b"/><path d="M288.0 255.6L295.6 255.4L295.8 263.6L288.2 263.8" fill="#c56676"/><path d="M295.3 255.4L302.9 255.2L303.1 263.4L295.5 263.6" fill="#a85c83"/><path d="M302.6 255.2L310.2 255.0L310.4 263.2L302.8 263.4" fill="#87508d"/><path d="M309.9 255.0L317.5 254.8L317.7 263.0L310.1 263.2" fill="#543b99"/><path d="M105.8 268.2L113.4 268.0L113.6 276.2L106.0 276.4" fill="#dc6f65"/><path d="M113.1 268.0L120.7 267.8L120.9 276.0L113.3 276.2" fill="#db6f66"/><path d="M120.4 267.8L128.0 267.6L128.2 275.8L120.6 276.0" fill="#da6e66"/><path d="M127.7 267.6L135.3 267.4L135.5 275.6L127.9 275.8" fill="#d96e67"/><path d="M135.0 267.4L142.5 267.2L142.8 275.4L135.2 275.6" fill="#d76d69"/><path d="M142.3 267.2L149.8 267.0L150.1 275.2L142.5 275.4" fill="#d46c6a"/><path d="M149.6 267.1L157.1 266.9L157.4 275.0L149.8 275.2" fill="#d16a6d"/><path d="M156.9 266.9L164.4 266.7L164.7 274.8L157.1 275.0" fill="#cb6872"/><path d="M164.2 266.7L171.7 266.5L171.9 274.6L164.4 274.8" fill="#c26578"/><path d="M171.4 266.5L179.0 266.3L179.2 274.5L171.7 274.6" fill="#bb627b"/><path d="M178.7 266.3L186.3 266.1L186.5 274.3L179.0 274.5" fill="#b6617d"/><path d="M186.0 266.1L193.6 265.9L193.8 274.1L186.2 274.3" fill="#b5607e"/><path d="M193.3 265.9L200.9 265.7L201.1 273.9L193.5 274.1" fill="#bb627b"/><path d="M200.6 265.7L208.2 265.5L208.4 273.7L200.8 273.9" fill="#c56676"/><path d="M207.9 265.5L215.5 265.3L215.7 273.5L208.1 273.7" fill="#cc6871"/><path d="M215.2 265.3L222.8 265.1L223.0 273.3L215.4 273.5" fill="#cd6970"/><path d="M222.5 265.2L230.1 265.0L230.3 273.1L222.7 273.3" fill="#c96773"/><path d="M229.8 265.0L237.4 264.8L237.6 272.9L230.0 273.1" fill="#c26478"/><path d="M237.1 264.8L244.7 264.6L244.9 272.7L237.3 272.9" fill="#b8617c"/><path d="M244.4 264.6L252.0 264.4L252.2 272.6L244.6 272.7" fill="#ae5e81"/><path d="M251.7 264.4L259.3 264.2L259.5 272.4L251.9 272.6" fill="#a65b84"/><path d="M259.0 264.2L266.6 264.0L266.8 272.2L259.2 272.4" fill="#af5e80"/><path d="M266.3 264.0L273.9 263.8L274.1 272.0L266.5 272.2" fill="#bc627b"/><path d="M273.6 263.8L281.2 263.6L281.4 271.8L273.8 272.0" fill="#b9627c"/><path d="M280.9 263.6L288.5 263.4L288.7 271.6L281.1 271.8" fill="#b25f7f"/><path d="M288.2 263.4L295.8 263.2L296.0 271.4L288.4 271.6" fill="#b5607e"/><path d="M295.5 263.3L303.1 263.1L303.3 271.2L295.7 271.4" fill="#93558a"/><path d="M302.8 263.1L310.4 262.9L310.6 271.0L303.0 271.2" fill="#5e3e99"/><path d="M310.1 262.9L317.7 262.7L317.9 270.8L310.3 271.0" fill="#4f3a9a"/><path d="M106.0 276.0L113.6 275.8L113.8 284.0L106.2 284.2" fill="#db6e66"/><path d="M113.3 275.9L120.9 275.7L121.1 283.8L113.5 284.0" fill="#d96e67"/><path d="M120.6 275.7L128.2 275.5L128.4 283.6L120.8 283.8" fill="#d86d68"/><path d="M127.9 275.5L135.5 275.3L135.7 283.4L128.1 283.6" fill="#d66d69"/><path d="M135.2 275.3L142.8 275.1L143.0 283.2L135.4 283.4" fill="#d46c6b"/><path d="M142.5 275.1L150.1 274.9L150.3 283.1L142.7 283.3" fill="#d06a6e"/><path d="M149.8 274.9L157.3 274.7L157.6 282.9L150.0 283.1" fill="#ca6872"/><path d="M157.1 274.7L164.6 274.5L164.9 282.7L157.3 282.9" fill="#c0647a"/><path d="M164.4 274.5L171.9 274.3L172.1 282.5L164.6 282.7" fill="#b05f80"/><path d="M171.6 274.3L179.2 274.1L179.4 282.3L171.9 282.5" fill="#a35b85"/><path d="M178.9 274.1L186.5 273.9L186.7 282.1L179.1 282.3" fill="#9d5987"/><path d="M186.2 274.0L193.8 273.8L194.0 281.9L186.4 282.1" fill="#9d5987"/><path d="M193.5 273.8L201.1 273.6L201.3 281.7L193.7 281.9" fill="#aa5d82"/><path d="M200.8 273.6L208.4 273.4L208.6 281.5L201.0 281.7" fill="#ba627c"/><path d="M208.1 273.4L215.7 273.2L215.9 281.3L208.3 281.5" fill="#c66675"/><path d="M215.4 273.2L223.0 273.0L223.2 281.2L215.6 281.4" fill="#cc6971"/><path d="M222.7 273.0L230.3 272.8L230.5 281.0L222.9 281.2" fill="#cb6871"/><path d="M230.0 272.8L237.6 272.6L237.8 280.8L230.2 281.0" fill="#c96773"/><path d="M237.3 272.6L244.9 272.4L245.1 280.6L237.5 280.8" fill="#c46577"/><path d="M244.6 272.4L252.2 272.2L252.4 280.4L244.8 280.6" fill="#b9617c"/><path d="M251.9 272.2L259.5 272.0L259.7 280.2L252.1 280.4" fill="#9b5888"/><path d="M259.2 272.1L266.8 271.9L267.0 280.0L259.4 280.2" fill="#89518c"/><path d="M266.5 271.9L274.1 271.7L274.3 279.8L266.7 280.0" fill="#89518c"/><path d="M273.8 271.7L281.4 271.5L281.6 279.6L274.0 279.8" fill="#92548a"/><path d="M281.1 271.5L288.7 271.3L288.9 279.4L281.3 279.6" fill="#7f4d8f"/><path d="M288.4 271.3L296.0 271.1L296.2 279.3L288.6 279.5" fill="#85508d"/><path d="M295.7 271.1L303.3 270.9L303.5 279.1L295.9 279.3" fill="#4b399a"/><path d="M303.0 270.9L310.6 270.7L310.8 278.9L303.2 279.1" fill="#3c349b"/><path d="M310.3 270.7L317.9 270.5L318.0 278.7L310.5 278.9" fill="#5b3d99"/><path d="M106.2 283.9L113.8 283.7L114.0 291.9L106.4 292.1" fill="#d86d68"/><path d="M113.5 283.7L121.1 283.5L121.3 291.7L113.7 291.9" fill="#d66c69"/><path d="M120.8 283.5L128.4 283.3L128.6 291.5L121.0 291.7" fill="#d46c6b"/><path d="M128.1 283.3L135.7 283.1L135.9 291.3L128.3 291.5" fill="#d26b6d"/><path d="M135.4 283.1L143.0 282.9L143.2 291.1L135.6 291.3" fill="#cf696f"/><path d="M142.7 282.9L150.3 282.7L150.5 290.9L142.9 291.1" fill="#c96773"/><path d="M150.0 282.8L157.5 282.6L157.8 290.7L150.2 290.9" fill="#be637a"/><path d="M157.3 282.6L164.8 282.4L165.1 290.5L157.5 290.7" fill="#ac5d81"/><path d="M164.6 282.4L172.1 282.2L172.3 290.3L164.8 290.5" fill="#9c5888"/><path d="M171.8 282.2L179.4 282.0L179.6 290.1L172.1 290.3" fill="#93558a"/><path d="M179.1 282.0L186.7 281.8L186.9 290.0L179.3 290.2" fill="#8f548b"/><path d="M186.4 281.8L194.0 281.6L194.2 289.8L186.6 290.0" fill="#91548a"/><path d="M193.7 281.6L201.3 281.4L201.5 289.6L193.9 289.8" fill="#9a5788"/><path d="M201.0 281.4L208.6 281.2L208.8 289.4L201.2 289.6" fill="#a95c83"/><path d="M208.3 281.2L215.9 281.0L216.1 289.2L208.5 289.4" fill="#b9617c"/><path d="M215.6 281.0L223.2 280.8L223.4 289.0L215.8 289.2" fill="#c36577"/><path d="M222.9 280.9L230.5 280.7L230.7 288.8L223.1 289.0" fill="#c66675"/><path d="M230.2 280.7L237.8 280.5L238.0 288.6L230.4 288.8" fill="#c66675"/><path d="M237.5 280.5L245.1 280.3L245.3 288.4L237.7 288.6" fill="#c16479"/><path d="M244.8 280.3L252.4 280.1L252.6 288.2L245.0 288.4" fill="#b3607f"/><path d="M252.1 280.1L259.7 279.9L259.9 288.1L252.3 288.3" fill="#955689"/><path d="M259.4 279.9L267.0 279.7L267.2 287.9L259.6 288.1" fill="#7a4b90"/><path d="M266.7 279.7L274.3 279.5L274.5 287.7L266.9 287.9" fill="#674296"/><path d="M274.0 279.5L281.6 279.3L281.8 287.5L274.2 287.7" fill="#5c3e99"/><path d="M281.3 279.3L288.9 279.1L289.0 287.3L281.5 287.5" fill="#533b9a"/><path d="M288.6 279.1L296.2 278.9L296.3 287.1L288.8 287.3" fill="#303294"/><path d="M295.9 279.0L303.5 278.8L303.6 286.9L296.1 287.1" fill="#1e317c"/><path d="M303.2 278.8L310.7 278.6L310.9 286.7L303.3 286.9" fill="#303294"/><path d="M310.5 278.6L318.0 278.4L318.2 286.5L310.6 286.7" fill="#533b9a"/><path d="M317.8 278.4L325.3 278.2L325.5 286.3L317.9 286.5" fill="#8b528c"/><path d="M106.4 291.7L114.0 291.5L114.2 299.7L106.6 299.9" fill="#d36b6b"/><path d="M113.7 291.6L121.3 291.4L121.5 299.5L113.9 299.7" fill="#d06a6d"/><path d="M121.0 291.4L128.6 291.2L128.8 299.3L121.2 299.5" fill="#cd6970"/><path d="M128.3 291.2L135.9 291.0L136.1 299.1L128.5 299.3" fill="#ca6773"/><path d="M135.6 291.0L143.2 290.8L143.4 298.9L135.8 299.1" fill="#c56676"/><path d="M142.9 290.8L150.5 290.6L150.7 298.8L143.1 299.0" fill="#be637a"/><path d="M150.2 290.6L157.7 290.4L158.0 298.6L150.4 298.8" fill="#b15f7f"/><path d="M157.5 290.4L165.0 290.2L165.3 298.4L157.7 298.6" fill="#9c5888"/><path d="M164.8 290.2L172.3 290.0L172.5 298.2L165.0 298.4" fill="#8e538b"/><path d="M172.0 290.0L179.6 289.8L179.8 298.0L172.3 298.2" fill="#8a528c"/><path d="M179.3 289.8L186.9 289.6L187.1 297.8L179.5 298.0" fill="#8a528c"/><path d="M186.6 289.6L194.2 289.5L194.4 297.6L186.8 297.8" fill="#8b528c"/><path d="M193.9 289.5L201.5 289.3L201.7 297.4L194.1 297.6" fill="#90548b"/><path d="M201.2 289.3L208.8 289.1L209.0 297.2L201.4 297.4" fill="#9d5887"/><path d="M208.5 289.1L216.1 288.9L216.3 297.0L208.7 297.2" fill="#ac5d81"/><path d="M215.8 288.9L223.4 288.7L223.6 296.9L216.0 297.1" fill="#b7617d"/><path d="M223.1 288.7L230.7 288.5L230.9 296.7L223.3 296.9" fill="#bc637b"/><path d="M230.4 288.5L238.0 288.3L238.2 296.5L230.6 296.7" fill="#bb627c"/><path d="M237.7 288.3L245.3 288.1L245.5 296.3L237.9 296.5" fill="#b4607e"/><path d="M245.0 288.1L252.6 287.9L252.8 296.1L245.2 296.3" fill="#a65c84"/><path d="M252.3 287.9L259.9 287.7L260.1 295.9L252.5 296.1" fill="#955589"/><path d="M259.6 287.8L267.2 287.6L267.4 295.7L259.8 295.9" fill="#834f8e"/><path d="M266.9 287.6L274.5 287.4L274.6 295.5L267.1 295.7" fill="#724793"/><path d="M274.2 287.4L281.7 287.2L281.9 295.3L274.4 295.5" fill="#3d349b"/><path d="M281.5 287.2L289.0 287.0L289.2 295.1L281.6 295.3" fill="#153070"/><path d="M288.8 287.0L296.3 286.8L296.5 295.0L288.9 295.2" fill="#0d3064"/><path d="M296.0 286.8L303.6 286.6L303.8 294.8L296.2 295.0" fill="#0d3064"/><path d="M303.3 286.6L310.9 286.4L311.1 294.6L303.5 294.8" fill="#273188"/><path d="M310.6 286.4L318.2 286.2L318.4 294.4L310.8 294.6" fill="#533b9a"/><path d="M106.6 299.6L114.2 299.4L114.4 307.6L106.8 307.7" fill="#cf6a6e"/><path d="M113.9 299.4L121.5 299.2L121.7 307.4L114.1 307.6" fill="#cb6872"/><path d="M121.2 299.2L128.8 299.0L129.0 307.2L121.4 307.4" fill="#c56676"/><path d="M128.5 299.0L136.1 298.8L136.3 307.0L128.7 307.2" fill="#be637a"/><path d="M135.8 298.8L143.4 298.6L143.6 306.8L136.0 307.0" fill="#b7617d"/><path d="M143.1 298.6L150.7 298.4L150.9 306.6L143.3 306.8" fill="#af5e80"/><path d="M150.4 298.4L158.0 298.3L158.2 306.4L150.6 306.6" fill="#a45b85"/><path d="M157.7 298.3L165.2 298.1L165.5 306.2L157.9 306.4" fill="#975689"/><path d="M165.0 298.1L172.5 297.9L172.7 306.0L165.2 306.2" fill="#8e538b"/><path d="M172.2 297.9L179.8 297.7L180.0 305.8L172.5 306.0" fill="#8b528c"/><path d="M179.5 297.7L187.1 297.5L187.3 305.7L179.7 305.8" fill="#8b528c"/><path d="M186.8 297.5L194.4 297.3L194.6 305.5L187.0 305.7" fill="#8d528b"/><path d="M194.1 297.3L201.7 297.1L201.9 305.3L194.3 305.5" fill="#92558a"/><path d="M201.4 297.1L209.0 296.9L209.2 305.1L201.6 305.3" fill="#9d5987"/><path d="M208.7 296.9L216.3 296.7L216.5 304.9L208.9 305.1" fill="#aa5d82"/><path d="M216.0 296.7L223.6 296.5L223.8 304.7L216.2 304.9" fill="#b15f7f"/><path d="M223.3 296.5L230.9 296.4L231.1 304.5L223.5 304.7" fill="#b3607f"/><path d="M230.6 296.4L238.2 296.2L238.4 304.3L230.8 304.5" fill="#ae5e80"/><path d="M237.9 296.2L245.5 296.0L245.7 304.1L238.1 304.3" fill="#a55b84"/><path d="M245.2 296.0L252.8 295.8L253.0 303.9L245.4 304.1" fill="#995788"/><path d="M252.5 295.8L260.1 295.6L260.2 303.8L252.7 303.9" fill="#8f538b"/><path d="M259.8 295.6L267.3 295.4L267.5 303.6L260.0 303.8" fill="#834f8e"/><path d="M267.1 295.4L274.6 295.2L274.8 303.4L267.2 303.6" fill="#724793"/><path d="M274.3 295.2L281.9 295.0L282.1 303.2L274.5 303.4" fill="#3d349b"/><path d="M281.6 295.0L289.2 294.8L289.4 303.0L281.8 303.2" fill="#11306a"/><path d="M288.9 294.8L296.5 294.6L296.7 302.8L289.1 303.0" fill="#0d3064"/><path d="M296.2 294.6L303.8 294.5L304.0 302.6L296.4 302.8" fill="#0c2e5e"/><path d="M303.5 294.5L311.1 294.3L311.3 302.4L303.7 302.6" fill="#0c2e5e"/><path d="M310.8 294.3L318.4 294.1L318.6 302.2L311.0 302.4" fill="#0d3064"/><path d="M318.1 294.1L325.7 293.9L325.9 302.0L318.3 302.2" fill="#533b9a"/><path d="M325.4 293.9L333.0 293.7L333.2 301.9L325.6 302.0" fill="#674296"/><path d="M106.8 307.4L114.4 307.2L114.6 315.4L107.0 315.6" fill="#cc6970"/><path d="M114.1 307.2L121.7 307.0L121.9 315.2L114.3 315.4" fill="#c76675"/><path d="M121.4 307.1L129.0 306.9L129.2 315.0L121.6 315.2" fill="#be637a"/><path d="M128.7 306.9L136.3 306.7L136.5 314.8L128.9 315.0" fill="#b35f7f"/><path d="M136.0 306.7L143.6 306.5L143.8 314.6L136.2 314.8" fill="#a95c83"/><path d="M143.3 306.5L150.9 306.3L151.1 314.5L143.5 314.6" fill="#a25a85"/><path d="M150.6 306.3L158.2 306.1L158.4 314.3L150.8 314.5" fill="#9c5888"/><path d="M157.9 306.1L165.4 305.9L165.7 314.1L158.1 314.3" fill="#955689"/><path d="M165.2 305.9L172.7 305.7L172.9 313.9L165.4 314.1" fill="#92548a"/><path d="M172.4 305.7L180.0 305.5L180.2 313.7L172.7 313.9" fill="#8f538b"/><path d="M179.7 305.5L187.3 305.3L187.5 313.5L179.9 313.7" fill="#90548a"/><path d="M187.0 305.3L194.6 305.1L194.8 313.3L187.2 313.5" fill="#94558a"/><path d="M194.3 305.2L201.9 305.0L202.1 313.1L194.5 313.3" fill="#9c5888"/><path d="M201.6 305.0L209.2 304.8L209.4 312.9L201.8 313.1" fill="#a65c84"/><path d="M208.9 304.8L216.5 304.6L216.7 312.7L209.1 312.9" fill="#ae5e81"/><path d="M216.2 304.6L223.8 304.4L224.0 312.6L216.4 312.7" fill="#ae5e80"/><path d="M223.5 304.4L231.1 304.2L231.3 312.4L223.7 312.6" fill="#ab5d82"/><path d="M230.8 304.2L238.4 304.0L238.6 312.2L231.0 312.4" fill="#a35b85"/><path d="M238.1 304.0L245.7 303.8L245.8 312.0L238.3 312.2" fill="#975689"/><path d="M245.4 303.8L252.9 303.6L253.1 311.8L245.6 312.0" fill="#8c528b"/><path d="M252.7 303.6L260.2 303.4L260.4 311.6L252.8 311.8" fill="#86508d"/><path d="M259.9 303.4L267.5 303.2L267.7 311.4L260.1 311.6" fill="#844f8d"/><path d="M267.2 303.3L274.8 303.1L275.0 311.2L267.4 311.4" fill="#794b90"/><path d="M274.5 303.1L282.1 302.9L282.3 311.0L274.7 311.2" fill="#674296"/><path d="M281.8 302.9L289.4 302.7L289.6 310.8L282.0 311.0" fill="#34329a"/><path d="M289.1 302.7L296.7 302.5L296.9 310.7L289.3 310.8" fill="#303294"/><path d="M296.4 302.5L304.0 302.3L304.2 310.5L296.6 310.7" fill="#1a3176"/><path d="M303.7 302.3L311.3 302.1L311.5 310.3L303.9 310.5" fill="#0b2d59"/><path d="M311.0 302.1L318.6 301.9L318.8 310.1L311.2 310.3" fill="#0a2c53"/><path d="M318.3 301.9L325.9 301.7L326.0 309.9L318.5 310.1" fill="#0c2e5e"/><path d="M325.6 301.7L333.2 301.5L333.3 309.7L325.7 309.9" fill="#46379a"/><path d="M332.9 301.5L340.4 301.3L340.6 309.5L333.0 309.7" fill="#603f98"/><path d="M107.0 315.3L114.6 315.1L114.8 323.2L107.2 323.4" fill="#cb6871"/><path d="M114.3 315.1L121.9 314.9L122.1 323.1L114.5 323.3" fill="#c56576"/><path d="M121.6 314.9L129.2 314.7L129.4 322.9L121.8 323.1" fill="#ba627c"/><path d="M128.9 314.7L136.5 314.5L136.7 322.7L129.1 322.9" fill="#ac5e81"/><path d="M136.2 314.5L143.8 314.3L144.0 322.5L136.4 322.7" fill="#a15a86"/><path d="M143.5 314.3L151.1 314.1L151.3 322.3L143.7 322.5" fill="#9c5887"/><path d="M150.8 314.1L158.4 313.9L158.6 322.1L151.0 322.3" fill="#995788"/><path d="M158.1 314.0L165.6 313.8L165.9 321.9L158.3 322.1" fill="#955689"/><path d="M165.4 313.8L172.9 313.6L173.1 321.7L165.6 321.9" fill="#92558a"/><path d="M172.6 313.6L180.2 313.4L180.4 321.5L172.9 321.7" fill="#945589"/><path d="M179.9 313.4L187.5 313.2L187.7 321.3L180.1 321.5" fill="#995788"/><path d="M187.2 313.2L194.8 313.0L195.0 321.2L187.4 321.4" fill="#a05a86"/><path d="M194.5 313.0L202.1 312.8L202.3 321.0L194.7 321.2" fill="#aa5d82"/><path d="M201.8 312.8L209.4 312.6L209.6 320.8L202.0 321.0" fill="#b15f7f"/><path d="M209.1 312.6L216.7 312.4L216.9 320.6L209.3 320.8" fill="#ae5e80"/><path d="M216.4 312.4L224.0 312.2L224.2 320.4L216.6 320.6" fill="#a85c83"/><path d="M223.7 312.2L231.3 312.0L231.5 320.2L223.9 320.4" fill="#a25a85"/><path d="M231.0 312.1L238.5 311.9L238.7 320.0L231.2 320.2" fill="#985789"/><path d="M238.3 311.9L245.8 311.7L246.0 319.8L238.5 320.0" fill="#8b528c"/><path d="M245.5 311.7L253.1 311.5L253.3 319.6L245.7 319.8" fill="#834f8e"/><path d="M252.8 311.5L260.4 311.3L260.6 319.4L253.0 319.6" fill="#814e8e"/><path d="M260.1 311.3L267.7 311.1L267.9 319.3L260.3 319.5" fill="#834f8e"/><path d="M267.4 311.1L275.0 310.9L275.2 319.1L267.6 319.3" fill="#844f8e"/><path d="M274.7 310.9L282.3 310.7L282.5 318.9L274.9 319.1" fill="#724793"/><path d="M282.0 310.7L289.6 310.5L289.8 318.7L282.2 318.9" fill="#533b9a"/><path d="M289.3 310.5L296.9 310.3L297.1 318.5L289.5 318.7" fill="#3d349b"/><path d="M296.6 310.3L304.2 310.1L304.3 318.3L296.8 318.5" fill="#273188"/><path d="M303.9 310.2L311.5 310.0L311.6 318.1L304.1 318.3" fill="#11306a"/><path d="M311.2 310.0L318.7 309.8L318.9 317.9L311.3 318.1" fill="#082a4e"/><path d="M318.5 309.8L326.0 309.6L326.2 317.7L318.6 317.9" fill="#062743"/><path d="M325.7 309.6L333.3 309.4L333.5 317.5L325.9 317.7" fill="#11306a"/><path d="M333.0 309.4L340.6 309.2L340.8 317.4L333.2 317.6" fill="#3d349b"/><path d="M107.2 323.1L114.8 322.9L115.0 331.1L107.5 331.3" fill="#cb6872"/><path d="M114.5 322.9L122.1 322.7L122.3 330.9L114.7 331.1" fill="#c46577"/><path d="M121.8 322.8L129.4 322.6L129.6 330.7L122.0 330.9" fill="#ba627c"/><path d="M129.1 322.6L136.7 322.4L136.9 330.5L129.3 330.7" fill="#af5e80"/><path d="M136.4 322.4L144.0 322.2L144.2 330.3L136.6 330.5" fill="#a65c84"/><path d="M143.7 322.2L151.3 322.0L151.5 330.1L143.9 330.3" fill="#a25a86"/><path d="M151.0 322.0L158.6 321.8L158.8 330.0L151.2 330.2" fill="#9f5987"/><path d="M158.3 321.8L165.8 321.6L166.1 329.8L158.5 330.0" fill="#9c5887"/><path d="M165.6 321.6L173.1 321.4L173.3 329.6L165.8 329.8" fill="#9b5888"/><path d="M172.8 321.4L180.4 321.2L180.6 329.4L173.0 329.6" fill="#9e5987"/><path d="M180.1 321.2L187.7 321.0L187.9 329.2L180.3 329.4" fill="#a45b85"/><path d="M187.4 321.0L195.0 320.8L195.2 329.0L187.6 329.2" fill="#ac5d81"/><path d="M194.7 320.9L202.3 320.7L202.5 328.8L194.9 329.0" fill="#b4607e"/><path d="M202.0 320.7L209.6 320.5L209.8 328.6L202.2 328.8" fill="#b7617d"/><path d="M209.3 320.5L216.9 320.3L217.1 328.4L209.5 328.6" fill="#b05f80"/><path d="M216.6 320.3L224.2 320.1L224.4 328.2L216.8 328.4" fill="#a85c83"/><path d="M223.9 320.1L231.4 319.9L231.6 328.1L224.1 328.3" fill="#a05a86"/><path d="M231.2 319.9L238.7 319.7L238.9 327.9L231.4 328.1" fill="#945589"/><path d="M238.4 319.7L246.0 319.5L246.2 327.7L238.6 327.9" fill="#86508d"/><path d="M245.7 319.5L253.3 319.3L253.5 327.5L245.9 327.7" fill="#804e8e"/><path d="M253.0 319.3L260.6 319.1L260.8 327.3L253.2 327.5" fill="#814e8e"/><path d="M260.3 319.1L267.9 318.9L268.1 327.1L260.5 327.3" fill="#804e8e"/><path d="M267.6 319.0L275.2 318.8L275.4 326.9L267.8 327.1" fill="#804e8e"/><path d="M274.9 318.8L282.5 318.6L282.7 326.7L275.1 326.9" fill="#674296"/><path d="M282.2 318.6L289.8 318.4L289.9 326.5L282.4 326.7" fill="#4f3a9a"/><path d="M289.5 318.4L297.1 318.2L297.2 326.3L289.7 326.5" fill="#3d349b"/><path d="M296.8 318.2L304.3 318.0L304.5 326.2L296.9 326.4" fill="#39339b"/><path d="M304.0 318.0L311.6 317.8L311.8 326.0L304.2 326.2" fill="#2b328e"/><path d="M311.3 317.8L318.9 317.6L319.1 325.8L311.5 326.0" fill="#1e317c"/><path d="M318.6 317.6L326.2 317.4L326.4 325.6L318.8 325.8" fill="#11306a"/><path d="M325.9 317.4L333.5 317.2L333.7 325.4L326.1 325.6" fill="#072949"/><path d="M333.2 317.2L340.8 317.0L341.0 325.2L333.4 325.4" fill="#0d3064"/><path d="M107.4 331.0L115.0 330.8L115.2 338.9L107.7 339.1" fill="#cb6871"/><path d="M114.7 330.8L122.3 330.6L122.5 338.8L115.0 339.0" fill="#c56676"/><path d="M122.0 330.6L129.6 330.4L129.8 338.6L122.2 338.8" fill="#be637a"/><path d="M129.3 330.4L136.9 330.2L137.1 338.4L129.5 338.6" fill="#b6607d"/><path d="M136.6 330.2L144.2 330.0L144.4 338.2L136.8 338.4" fill="#b05f80"/><path d="M143.9 330.0L151.5 329.8L151.7 338.0L144.1 338.2" fill="#ad5e81"/><path d="M151.2 329.8L158.8 329.6L159.0 337.8L151.4 338.0" fill="#aa5d82"/><path d="M158.5 329.6L166.0 329.5L166.3 337.6L158.7 337.8" fill="#a85c83"/><path d="M165.8 329.5L173.3 329.3L173.5 337.4L166.0 337.6" fill="#a85c83"/><path d="M173.0 329.3L180.6 329.1L180.8 337.2L173.2 337.4" fill="#ab5d82"/><path d="M180.3 329.1L187.9 328.9L188.1 337.0L180.5 337.2" fill="#af5e80"/><path d="M187.6 328.9L195.2 328.7L195.4 336.9L187.8 337.1" fill="#b4607e"/><path d="M194.9 328.7L202.5 328.5L202.7 336.7L195.1 336.9" fill="#b7617d"/><path d="M202.2 328.5L209.8 328.3L210.0 336.5L202.4 336.7" fill="#b7617d"/><path d="M209.5 328.3L217.1 328.1L217.3 336.3L209.7 336.5" fill="#b3607f"/><path d="M216.8 328.1L224.3 327.9L224.5 336.1L217.0 336.3" fill="#ab5d82"/><path d="M224.1 327.9L231.6 327.7L231.8 335.9L224.3 336.1" fill="#a25a85"/><path d="M231.3 327.8L238.9 327.6L239.1 335.7L231.5 335.9" fill="#985789"/><path d="M238.6 327.6L246.2 327.4L246.4 335.5L238.8 335.7" fill="#8b528c"/><path d="M245.9 327.4L253.5 327.2L253.7 335.3L246.1 335.5" fill="#824e8e"/><path d="M253.2 327.2L260.8 327.0L261.0 335.1L253.4 335.3" fill="#7f4d8f"/><path d="M260.5 327.0L268.1 326.8L268.3 335.0L260.7 335.2" fill="#7c4c90"/><path d="M267.8 326.8L275.4 326.6L275.6 334.8L268.0 335.0" fill="#804e8e"/><path d="M275.1 326.6L282.7 326.4L282.8 334.6L275.3 334.8" fill="#674296"/><path d="M282.4 326.4L289.9 326.2L290.1 334.4L282.6 334.6" fill="#4f3a9a"/><path d="M289.7 326.2L297.2 326.0L297.4 334.2L289.8 334.4" fill="#3d349b"/><path d="M296.9 326.0L304.5 325.8L304.7 334.0L297.1 334.2" fill="#3d349b"/><path d="M304.2 325.9L311.8 325.7L312.0 333.8L304.4 334.0" fill="#39339b"/><path d="M311.5 325.7L319.1 325.5L319.3 333.6L311.7 333.8" fill="#273188"/><path d="M318.8 325.5L326.4 325.3L326.6 333.4L319.0 333.6" fill="#1a3176"/><path d="M326.1 325.3L333.7 325.1L333.8 333.2L326.3 333.4" fill="#0a2c53"/><path d="M333.4 325.1L341.0 324.9L341.1 333.1L333.6 333.3" fill="#072949"/><path d="M340.7 324.9L348.2 324.7L348.4 332.9L340.8 333.1" fill="#11306a"/><path d="M107.7 338.8L115.2 338.6L115.5 346.8L107.9 347.0" fill="#cc6871"/><path d="M114.9 338.6L122.5 338.4L122.7 346.6L115.2 346.8" fill="#c76674"/><path d="M122.2 338.4L129.8 338.3L130.0 346.4L122.4 346.6" fill="#c16479"/><path d="M129.5 338.3L137.1 338.1L137.3 346.2L129.7 346.4" fill="#bc627b"/><path d="M136.8 338.1L144.4 337.9L144.6 346.0L137.0 346.2" fill="#b8617d"/><path d="M144.1 337.9L151.7 337.7L151.9 345.8L144.3 346.0" fill="#b7617d"/><path d="M151.4 337.7L159.0 337.5L159.2 345.7L151.6 345.8" fill="#b4607e"/><path d="M158.7 337.5L166.2 337.3L166.5 345.5L158.9 345.7" fill="#b25f7f"/><path d="M166.0 337.3L173.5 337.1L173.7 345.3L166.2 345.5" fill="#b25f7f"/><path d="M173.2 337.1L180.8 336.9L181.0 345.1L173.4 345.3" fill="#b5607e"/><path d="M180.5 336.9L188.1 336.7L188.3 344.9L180.7 345.1" fill="#b7617d"/><path d="M187.8 336.7L195.4 336.5L195.6 344.7L188.0 344.9" fill="#b7617d"/><path d="M195.1 336.5L202.7 336.4L202.9 344.5L195.3 344.7" fill="#b7617d"/><path d="M202.4 336.4L210.0 336.2L210.2 344.3L202.6 344.5" fill="#b3607e"/><path d="M209.7 336.2L217.3 336.0L217.5 344.1L209.9 344.3" fill="#ad5e81"/><path d="M217.0 336.0L224.5 335.8L224.7 343.9L217.2 344.1" fill="#a55b84"/><path d="M224.2 335.8L231.8 335.6L232.0 343.8L224.4 343.9" fill="#9c5887"/><path d="M231.5 335.6L239.1 335.4L239.3 343.6L231.7 343.8" fill="#945589"/><path d="M238.8 335.4L246.4 335.2L246.6 343.4L239.0 343.6" fill="#8a518c"/><path d="M246.1 335.2L253.7 335.0L253.9 343.2L246.3 343.4" fill="#7e4d8f"/><path d="M253.4 335.0L261.0 334.8L261.2 343.0L253.6 343.2" fill="#734892"/><path d="M260.7 334.8L268.3 334.6L268.5 342.8L260.9 343.0" fill="#6a4495"/><path d="M268.0 334.6L275.5 334.5L275.7 342.6L268.2 342.8" fill="#674296"/><path d="M275.3 334.5L282.8 334.3L283.0 342.4L275.4 342.6" fill="#5c3e99"/><path d="M282.5 334.3L290.1 334.1L290.3 342.2L282.7 342.4" fill="#4f3a9a"/><path d="M289.8 334.1L297.4 333.9L297.6 342.0L290.0 342.2" fill="#3d349b"/><path d="M297.1 333.9L304.7 333.7L304.9 341.9L297.3 342.0" fill="#3d349b"/><path d="M304.4 333.7L312.0 333.5L312.2 341.7L304.6 341.9" fill="#39339b"/><path d="M311.7 333.5L319.3 333.3L319.5 341.5L311.9 341.7" fill="#2b328e"/><path d="M319.0 333.3L326.6 333.1L326.7 341.3L319.2 341.5" fill="#1e317c"/><path d="M326.3 333.1L333.8 332.9L334.0 341.1L326.4 341.3" fill="#0b2d59"/><path d="M333.6 332.9L341.1 332.7L341.3 340.9L333.7 341.1" fill="#072949"/><path d="M340.8 332.7L348.4 332.6L348.6 340.7L341.0 340.9" fill="#0c2e5e"/><path d="M107.9 346.7L115.4 346.5L115.7 354.6L108.1 354.8" fill="#cb6871"/><path d="M115.2 346.5L122.7 346.3L122.9 354.5L115.4 354.6" fill="#c76674"/><path d="M122.4 346.3L130.0 346.1L130.2 354.3L122.7 354.5" fill="#c36578"/><path d="M129.7 346.1L137.3 345.9L137.5 354.1L129.9 354.3" fill="#be637a"/><path d="M137.0 345.9L144.6 345.7L144.8 353.9L137.2 354.1" fill="#bb627b"/><path d="M144.3 345.7L151.9 345.5L152.1 353.7L144.5 353.9" fill="#b9617c"/><path d="M151.6 345.5L159.2 345.3L159.4 353.5L151.8 353.7" fill="#b7617d"/><path d="M158.9 345.3L166.4 345.1L166.7 353.3L159.1 353.5" fill="#b6617d"/><path d="M166.2 345.2L173.7 345.0L173.9 353.1L166.4 353.3" fill="#b7617d"/><path d="M173.4 345.0L181.0 344.8L181.2 352.9L173.6 353.1" fill="#b8617d"/><path d="M180.7 344.8L188.3 344.6L188.5 352.7L180.9 352.9" fill="#b9617c"/><path d="M188.0 344.6L195.6 344.4L195.8 352.6L188.2 352.7" fill="#b7617d"/><path d="M195.3 344.4L202.9 344.2L203.1 352.4L195.5 352.6" fill="#b4607e"/><path d="M202.6 344.2L210.2 344.0L210.4 352.2L202.8 352.4" fill="#ae5e81"/><path d="M209.9 344.0L217.4 343.8L217.6 352.0L210.1 352.2" fill="#a75c83"/><path d="M217.2 343.8L224.7 343.6L224.9 351.8L217.4 352.0" fill="#9f5987"/><path d="M224.4 343.6L232.0 343.4L232.2 351.6L224.6 351.8" fill="#965689"/><path d="M231.7 343.4L239.3 343.2L239.5 351.4L231.9 351.6" fill="#8d538b"/><path d="M239.0 343.3L246.6 343.1L246.8 351.2L239.2 351.4" fill="#844f8e"/><path d="M246.3 343.1L253.9 342.9L254.1 351.0L246.5 351.2" fill="#754992"/><path d="M253.6 342.9L261.2 342.7L261.4 350.8L253.8 351.0" fill="#654297"/><path d="M260.9 342.7L268.4 342.5L268.6 350.7L261.1 350.8" fill="#583c99"/><path d="M268.2 342.5L275.7 342.3L275.9 350.5L268.3 350.7" fill="#533b9a"/><path d="M275.4 342.3L283.0 342.1L283.2 350.3L275.6 350.5" fill="#4f3a9a"/><path d="M282.7 342.1L290.3 341.9L290.5 350.1L282.9 350.3" fill="#46379a"/><path d="M290.0 341.9L297.6 341.7L297.8 349.9L290.2 350.1" fill="#46379a"/><path d="M297.3 341.7L304.9 341.5L305.1 349.7L297.5 349.9" fill="#3d349b"/><path d="M304.6 341.5L312.2 341.3L312.3 349.5L304.8 349.7" fill="#39339b"/><path d="M311.9 341.4L319.4 341.2L319.6 349.3L312.1 349.5" fill="#2b328e"/><path d="M319.2 341.2L326.7 341.0L326.9 349.1L319.3 349.3" fill="#1a3176"/><path d="M326.4 341.0L334.0 340.8L334.2 348.9L326.6 349.1" fill="#0a2c53"/><path d="M333.7 340.8L341.3 340.6L341.5 348.8L333.9 348.9" fill="#072949"/><path d="M341.0 340.6L348.6 340.4L348.8 348.6L341.2 348.8" fill="#0b2d59"/><path d="M365.6 128.3L373.3 128.2L373.4 136.4L365.8 136.5" fill="#faa63e"/><path d="M409.4 120.0L417.0 120.0L417.2 128.1L409.6 128.2" fill="#f8c342"/><path d="M409.6 127.9L417.2 127.8L417.3 136.0L409.7 136.0" fill="#f7cb44"/><path d="M409.7 135.7L417.3 135.7L417.5 143.8L409.9 143.9" fill="#f6d146"/><path d="M402.6 143.6L410.2 143.6L410.3 151.7L402.7 151.8" fill="#f3dc4b"/><path d="M409.9 143.6L417.5 143.5L417.6 151.7L410.0 151.7" fill="#f3dc4b"/><path d="M402.7 151.5L410.3 151.4L410.5 159.6L402.9 159.7" fill="#efe54f"/><path d="M410.0 151.4L417.6 151.4L417.8 159.5L410.2 159.6" fill="#efe54f"/><path d="M402.9 159.3L410.5 159.3L410.7 167.4L403.0 167.5" fill="#ebef54"/><path d="M410.2 159.3L417.8 159.2L418.0 167.4L410.4 167.4" fill="#ebef54"/><path d="M403.0 167.2L410.6 167.1L410.8 175.3L403.2 175.4" fill="#eaf156"/><path d="M410.4 167.1L418.0 167.0L418.1 175.2L410.5 175.3" fill="#eaf156"/><path d="M403.2 175.0L410.8 175.0L411.0 183.1L403.4 183.2" fill="#e9f457"/><path d="M410.5 175.0L418.1 174.9L418.3 183.1L410.7 183.1" fill="#e9f457"/></g>
<path d="M407 108.3 C404.5 109 399 110.5 394 112.5 C389 115.5 385 119 382 122.5 C378 128 374 133 371 138.5 C369 142 367.5 145 366 148.5 C364 152.5 361.5 156.5 360 160.5 C358.5 166 357.8 171 357 176 C355.8 180 354.5 184 353 188 C352 191.5 351 195 350 198 C348.5 201.5 347.3 205 346 208 L341 220 L337 226 L333.2 232 C332.6 236 332.3 241 332 245 L326.5 255.5 C324 258.5 320.5 260.5 318.3 262 C316.8 264 316.6 266 317.2 267.5 C318.2 269.2 319.8 270 320 271.5 C320.3 274 319.8 276 320 278 C320.8 281 322.2 283.5 322 286.5 C321.6 289 319.6 291 320.2 293 C323 294.2 326 294.3 328.5 295.2 C330.5 296 332 297 333.5 298.3 C335.8 300.2 337.5 302 339 304.3 C340.4 307 340.6 310 341.2 313 C342 316 343 318.5 344.3 321 C345.3 323.2 346.5 325 347.3 327.3 C348.2 331 348.3 334.5 348.6 338 L349.2 357 L424 357 L424 236 L421 240 C420.4 242 419.8 243.5 419 245 C417.8 247.5 416.5 249.4 415 250.4 C412.5 251.6 409.5 251.8 407 251 C404.8 250 403 248.8 402 247 C401 245.2 400.8 243.6 401 242 C401.5 240 402.6 238 403 236 C403 234.5 402.3 233.3 402 232 C401.6 230.2 401.6 228.6 402 227 C403 225.2 404.6 223.6 406 222 C407.8 220.4 409.6 219 410.4 217 C411.2 215 411.4 213 411 211 C410.6 209.4 410 208 409 207.6 C407.8 207.3 406.8 207.4 406 208 C405 209.2 404.6 210.8 404 212 C403.6 213.2 403.2 214.6 402.4 215 C401.4 215.4 400.4 215 400 214 C399.8 212.6 400.2 211.2 400.6 210 C401.3 208.3 402.2 206.7 402.4 205 C402.6 203.3 402.4 201.6 402 200 C401.5 198 400.8 195.8 400 194 C399 192.2 397.8 190.7 397 189 C396 187.3 395 185.8 394.4 184 C393.9 182.6 393.7 181.3 393.6 180 C394 178.6 394.6 177.3 395 176 C396 170 397 164 398 158 C398.6 153.3 399.2 148.6 400 144 L402 138 C403 132 405 126 406.2 123 C407.2 120.5 408.2 119 409 117 C410 115 410.6 113.4 410.5 112 C410.2 110.2 408.8 108.6 407 108.3 Z" fill="none" stroke="#808080" stroke-width="1.3" stroke-linejoin="round"/>

<g fill="#4070c0" fill-opacity="0.7"><circle cx="103.9" cy="60.1" r="0.46"/><circle cx="111.2" cy="59.9" r="0.38"/><circle cx="118.5" cy="59.7" r="0.63"/><circle cx="125.9" cy="59.6" r="0.34"/><circle cx="133.2" cy="59.4" r="0.57"/><circle cx="140.5" cy="59.2" r="0.48"/><circle cx="147.8" cy="59.0" r="0.33"/><circle cx="155.2" cy="58.8" r="0.55"/><circle cx="162.5" cy="58.6" r="0.32"/><circle cx="169.8" cy="58.4" r="0.52"/><circle cx="177.2" cy="58.2" r="0.33"/><circle cx="184.5" cy="58.0" r="0.35"/><circle cx="191.8" cy="57.8" r="0.51"/><circle cx="199.2" cy="57.7" r="0.71"/><circle cx="206.5" cy="57.5" r="0.36"/><circle cx="213.8" cy="57.3" r="0.41"/><circle cx="221.1" cy="57.1" r="0.61"/><circle cx="228.5" cy="56.9" r="0.77"/><circle cx="235.8" cy="56.7" r="0.59"/><circle cx="243.1" cy="56.5" r="0.50"/><circle cx="250.5" cy="56.3" r="0.79"/><circle cx="257.8" cy="56.1" r="0.32"/><circle cx="265.1" cy="55.9" r="0.73"/><circle cx="272.4" cy="55.8" r="0.44"/><circle cx="279.8" cy="55.6" r="0.37"/><circle cx="294.4" cy="55.2" r="0.36"/><circle cx="301.8" cy="55.0" r="0.45"/><circle cx="309.1" cy="54.8" r="0.71"/><circle cx="316.4" cy="54.6" r="0.39"/><circle cx="323.8" cy="54.4" r="0.59"/><circle cx="331.1" cy="54.2" r="0.62"/><circle cx="338.4" cy="54.0" r="0.49"/><circle cx="345.7" cy="53.9" r="0.57"/><circle cx="353.1" cy="53.8" r="0.33"/><circle cx="360.4" cy="53.8" r="0.33"/><circle cx="367.7" cy="53.7" r="0.40"/><circle cx="375.1" cy="53.6" r="0.64"/><circle cx="382.4" cy="53.6" r="0.51"/><circle cx="389.7" cy="53.5" r="0.46"/><circle cx="397.0" cy="53.4" r="0.59"/><circle cx="404.4" cy="53.4" r="0.53"/><circle cx="411.7" cy="53.3" r="0.45"/><circle cx="104.1" cy="68.0" r="0.70"/><circle cx="111.4" cy="67.8" r="0.65"/><circle cx="118.7" cy="67.6" r="0.42"/><circle cx="126.1" cy="67.4" r="0.59"/><circle cx="133.4" cy="67.2" r="0.56"/><circle cx="140.7" cy="67.0" r="0.74"/><circle cx="148.0" cy="66.8" r="0.66"/><circle cx="155.4" cy="66.6" r="0.44"/><circle cx="162.7" cy="66.5" r="0.79"/><circle cx="170.0" cy="66.3" r="0.36"/><circle cx="177.4" cy="66.1" r="0.51"/><circle cx="184.7" cy="65.9" r="0.68"/><circle cx="192.0" cy="65.7" r="0.38"/><circle cx="199.3" cy="65.5" r="0.54"/><circle cx="206.7" cy="65.3" r="0.32"/><circle cx="214.0" cy="65.1" r="0.63"/><circle cx="221.3" cy="64.9" r="0.68"/><circle cx="228.7" cy="64.7" r="0.59"/><circle cx="236.0" cy="64.6" r="0.74"/><circle cx="243.3" cy="64.4" r="0.46"/><circle cx="250.6" cy="64.2" r="0.65"/><circle cx="258.0" cy="64.0" r="0.60"/><circle cx="265.3" cy="63.8" r="0.59"/><circle cx="272.6" cy="63.6" r="0.53"/><circle cx="280.0" cy="63.4" r="0.72"/><circle cx="301.9" cy="62.8" r="0.77"/><circle cx="309.3" cy="62.7" r="0.54"/><circle cx="316.6" cy="62.5" r="0.63"/><circle cx="323.9" cy="62.3" r="0.33"/><circle cx="331.3" cy="62.1" r="0.65"/><circle cx="338.6" cy="61.9" r="0.62"/><circle cx="345.9" cy="61.8" r="0.80"/><circle cx="353.2" cy="61.7" r="0.71"/><circle cx="360.6" cy="61.6" r="0.44"/><circle cx="367.9" cy="61.6" r="0.49"/><circle cx="375.2" cy="61.5" r="0.63"/><circle cx="382.6" cy="61.4" r="0.31"/><circle cx="389.9" cy="61.3" r="0.53"/><circle cx="397.2" cy="61.3" r="0.38"/><circle cx="404.5" cy="61.2" r="0.36"/><circle cx="411.9" cy="61.1" r="0.33"/><circle cx="104.3" cy="75.8" r="0.68"/><circle cx="111.6" cy="75.6" r="0.36"/><circle cx="118.9" cy="75.4" r="0.42"/><circle cx="126.3" cy="75.3" r="0.50"/><circle cx="133.6" cy="75.1" r="0.74"/><circle cx="140.9" cy="74.9" r="0.34"/><circle cx="148.3" cy="74.7" r="0.52"/><circle cx="155.6" cy="74.5" r="0.57"/><circle cx="162.9" cy="74.3" r="0.74"/><circle cx="170.2" cy="74.1" r="0.71"/><circle cx="177.6" cy="73.9" r="0.73"/><circle cx="184.9" cy="73.7" r="0.44"/><circle cx="192.2" cy="73.5" r="0.51"/><circle cx="199.5" cy="73.4" r="0.48"/><circle cx="206.9" cy="73.2" r="0.74"/><circle cx="214.2" cy="73.0" r="0.78"/><circle cx="221.5" cy="72.8" r="0.38"/><circle cx="228.8" cy="72.6" r="0.39"/><circle cx="236.2" cy="72.4" r="0.42"/><circle cx="243.5" cy="72.2" r="0.42"/><circle cx="250.8" cy="72.0" r="0.54"/><circle cx="258.2" cy="71.8" r="0.59"/><circle cx="265.5" cy="71.6" r="0.43"/><circle cx="272.8" cy="71.5" r="0.30"/><circle cx="280.1" cy="71.3" r="0.51"/><circle cx="287.5" cy="71.1" r="0.48"/><circle cx="294.8" cy="70.9" r="0.58"/><circle cx="302.1" cy="70.7" r="0.78"/><circle cx="309.4" cy="70.5" r="0.65"/><circle cx="316.8" cy="70.3" r="0.56"/><circle cx="324.1" cy="70.1" r="0.61"/><circle cx="331.4" cy="69.9" r="0.64"/><circle cx="338.8" cy="69.7" r="0.33"/><circle cx="346.1" cy="69.6" r="0.75"/><circle cx="353.4" cy="69.5" r="0.69"/><circle cx="360.7" cy="69.5" r="0.74"/><circle cx="368.1" cy="69.4" r="0.70"/><circle cx="375.4" cy="69.3" r="0.50"/><circle cx="382.7" cy="69.3" r="0.50"/><circle cx="390.0" cy="69.2" r="0.35"/><circle cx="397.4" cy="69.1" r="0.62"/><circle cx="404.7" cy="69.1" r="0.33"/><circle cx="412.0" cy="69.0" r="0.33"/><circle cx="104.5" cy="83.7" r="0.40"/><circle cx="111.8" cy="83.5" r="0.38"/><circle cx="119.1" cy="83.3" r="0.47"/><circle cx="126.5" cy="83.1" r="0.33"/><circle cx="133.8" cy="82.9" r="0.30"/><circle cx="141.1" cy="82.7" r="0.38"/><circle cx="148.5" cy="82.5" r="0.35"/><circle cx="155.8" cy="82.3" r="0.48"/><circle cx="163.1" cy="82.2" r="0.31"/><circle cx="170.4" cy="82.0" r="0.74"/><circle cx="177.8" cy="81.8" r="0.61"/><circle cx="185.1" cy="81.6" r="0.37"/><circle cx="192.4" cy="81.4" r="0.43"/><circle cx="199.7" cy="81.2" r="0.47"/><circle cx="207.1" cy="81.0" r="0.48"/><circle cx="214.4" cy="80.8" r="0.36"/><circle cx="221.7" cy="80.6" r="0.72"/><circle cx="229.0" cy="80.4" r="0.80"/><circle cx="236.4" cy="80.3" r="0.53"/><circle cx="243.7" cy="80.1" r="0.54"/><circle cx="251.0" cy="79.9" r="0.34"/><circle cx="258.3" cy="79.7" r="0.35"/><circle cx="265.7" cy="79.5" r="0.47"/><circle cx="273.0" cy="79.3" r="0.43"/><circle cx="280.3" cy="79.1" r="0.71"/><circle cx="287.6" cy="78.9" r="0.38"/><circle cx="295.0" cy="78.7" r="0.31"/><circle cx="302.3" cy="78.5" r="0.78"/><circle cx="309.6" cy="78.4" r="0.56"/><circle cx="316.9" cy="78.2" r="0.37"/><circle cx="324.3" cy="78.0" r="0.57"/><circle cx="331.6" cy="77.8" r="0.31"/><circle cx="338.9" cy="77.6" r="0.56"/><circle cx="346.2" cy="77.5" r="0.79"/><circle cx="353.6" cy="77.4" r="0.73"/><circle cx="360.9" cy="77.3" r="0.65"/><circle cx="368.2" cy="77.3" r="0.43"/><circle cx="375.6" cy="77.2" r="0.48"/><circle cx="382.9" cy="77.1" r="0.38"/><circle cx="390.2" cy="77.0" r="0.69"/><circle cx="397.5" cy="77.0" r="0.57"/><circle cx="404.9" cy="76.9" r="0.69"/><circle cx="412.2" cy="76.8" r="0.46"/><circle cx="104.7" cy="91.5" r="0.41"/><circle cx="112.0" cy="91.3" r="0.71"/><circle cx="119.4" cy="91.1" r="0.79"/><circle cx="126.7" cy="91.0" r="0.73"/><circle cx="134.0" cy="90.8" r="0.70"/><circle cx="141.3" cy="90.6" r="0.71"/><circle cx="148.7" cy="90.4" r="0.67"/><circle cx="156.0" cy="90.2" r="0.41"/><circle cx="163.3" cy="90.0" r="0.56"/><circle cx="170.6" cy="89.8" r="0.48"/><circle cx="178.0" cy="89.6" r="0.31"/><circle cx="185.3" cy="89.4" r="0.31"/><circle cx="192.6" cy="89.2" r="0.44"/><circle cx="199.9" cy="89.1" r="0.43"/><circle cx="207.3" cy="88.9" r="0.65"/><circle cx="214.6" cy="88.7" r="0.78"/><circle cx="221.9" cy="88.5" r="0.52"/><circle cx="229.2" cy="88.3" r="0.77"/><circle cx="236.6" cy="88.1" r="0.79"/><circle cx="243.9" cy="87.9" r="0.78"/><circle cx="251.2" cy="87.7" r="0.48"/><circle cx="258.5" cy="87.5" r="0.41"/><circle cx="265.8" cy="87.3" r="0.41"/><circle cx="273.2" cy="87.2" r="0.40"/><circle cx="280.5" cy="87.0" r="0.40"/><circle cx="287.8" cy="86.8" r="0.61"/><circle cx="295.1" cy="86.6" r="0.75"/><circle cx="302.5" cy="86.4" r="0.72"/><circle cx="309.8" cy="86.2" r="0.54"/><circle cx="317.1" cy="86.0" r="0.63"/><circle cx="324.4" cy="85.8" r="0.70"/><circle cx="331.8" cy="85.6" r="0.34"/><circle cx="339.1" cy="85.4" r="0.63"/><circle cx="346.4" cy="85.3" r="0.75"/><circle cx="353.7" cy="85.2" r="0.69"/><circle cx="361.1" cy="85.2" r="0.68"/><circle cx="368.4" cy="85.1" r="0.54"/><circle cx="375.7" cy="85.0" r="0.39"/><circle cx="383.0" cy="85.0" r="0.69"/><circle cx="390.4" cy="84.9" r="0.47"/><circle cx="397.7" cy="84.8" r="0.70"/><circle cx="405.0" cy="84.8" r="0.79"/><circle cx="412.3" cy="84.7" r="0.50"/><circle cx="104.9" cy="99.4" r="0.50"/><circle cx="112.2" cy="99.2" r="0.77"/><circle cx="119.6" cy="99.0" r="0.66"/><circle cx="126.9" cy="98.8" r="0.39"/><circle cx="134.2" cy="98.6" r="0.36"/><circle cx="141.5" cy="98.4" r="0.38"/><circle cx="148.9" cy="98.2" r="0.75"/><circle cx="156.2" cy="98.0" r="0.70"/><circle cx="163.5" cy="97.8" r="0.37"/><circle cx="170.8" cy="97.7" r="0.71"/><circle cx="178.2" cy="97.5" r="0.79"/><circle cx="185.5" cy="97.3" r="0.63"/><circle cx="192.8" cy="97.1" r="0.48"/><circle cx="200.1" cy="96.9" r="0.57"/><circle cx="207.4" cy="96.7" r="0.37"/><circle cx="214.8" cy="96.5" r="0.31"/><circle cx="222.1" cy="96.3" r="0.79"/><circle cx="229.4" cy="96.1" r="0.62"/><circle cx="236.7" cy="95.9" r="0.56"/><circle cx="244.1" cy="95.8" r="0.77"/><circle cx="251.4" cy="95.6" r="0.52"/><circle cx="258.7" cy="95.4" r="0.74"/><circle cx="266.0" cy="95.2" r="0.71"/><circle cx="273.4" cy="95.0" r="0.41"/><circle cx="280.7" cy="94.8" r="0.43"/><circle cx="288.0" cy="94.6" r="0.45"/><circle cx="295.3" cy="94.4" r="0.42"/><circle cx="302.6" cy="94.2" r="0.59"/><circle cx="310.0" cy="94.0" r="0.43"/><circle cx="317.3" cy="93.9" r="0.51"/><circle cx="324.6" cy="93.7" r="0.37"/><circle cx="331.9" cy="93.5" r="0.76"/><circle cx="339.3" cy="93.3" r="0.48"/><circle cx="346.6" cy="93.2" r="0.53"/><circle cx="353.9" cy="93.1" r="0.59"/><circle cx="361.2" cy="93.0" r="0.75"/><circle cx="368.6" cy="92.9" r="0.51"/><circle cx="375.9" cy="92.9" r="0.76"/><circle cx="383.2" cy="92.8" r="0.55"/><circle cx="390.5" cy="92.7" r="0.57"/><circle cx="397.9" cy="92.7" r="0.56"/><circle cx="405.2" cy="92.6" r="0.31"/><circle cx="412.5" cy="92.5" r="0.52"/><circle cx="105.1" cy="107.2" r="0.39"/><circle cx="112.4" cy="107.0" r="0.30"/><circle cx="119.8" cy="106.8" r="0.70"/><circle cx="127.1" cy="106.6" r="0.39"/><circle cx="134.4" cy="106.5" r="0.54"/><circle cx="141.7" cy="106.3" r="0.66"/><circle cx="149.1" cy="106.1" r="0.58"/><circle cx="156.4" cy="105.9" r="0.46"/><circle cx="163.7" cy="105.7" r="0.56"/><circle cx="171.0" cy="105.5" r="0.58"/><circle cx="178.3" cy="105.3" r="0.69"/><circle cx="185.7" cy="105.1" r="0.35"/><circle cx="193.0" cy="104.9" r="0.58"/><circle cx="200.3" cy="104.7" r="0.42"/><circle cx="207.6" cy="104.6" r="0.44"/><circle cx="215.0" cy="104.4" r="0.69"/><circle cx="222.3" cy="104.2" r="0.55"/><circle cx="229.6" cy="104.0" r="0.58"/><circle cx="236.9" cy="103.8" r="0.68"/><circle cx="244.2" cy="103.6" r="0.76"/><circle cx="251.6" cy="103.4" r="0.52"/><circle cx="258.9" cy="103.2" r="0.61"/><circle cx="266.2" cy="103.0" r="0.55"/><circle cx="273.5" cy="102.8" r="0.56"/><circle cx="280.9" cy="102.7" r="0.65"/><circle cx="288.2" cy="102.5" r="0.53"/><circle cx="295.5" cy="102.3" r="0.57"/><circle cx="302.8" cy="102.1" r="0.54"/><circle cx="310.1" cy="101.9" r="0.77"/><circle cx="317.5" cy="101.7" r="0.65"/><circle cx="324.8" cy="101.5" r="0.74"/><circle cx="332.1" cy="101.3" r="0.77"/><circle cx="339.4" cy="101.1" r="0.43"/><circle cx="346.8" cy="101.0" r="0.58"/><circle cx="354.1" cy="100.9" r="0.77"/><circle cx="361.4" cy="100.9" r="0.72"/><circle cx="368.7" cy="100.8" r="0.37"/><circle cx="376.0" cy="100.7" r="0.36"/><circle cx="383.4" cy="100.7" r="0.52"/><circle cx="390.7" cy="100.6" r="0.34"/><circle cx="398.0" cy="100.5" r="0.42"/><circle cx="405.3" cy="100.4" r="0.34"/><circle cx="412.7" cy="100.4" r="0.63"/><circle cx="105.3" cy="115.1" r="0.69"/><circle cx="112.7" cy="114.9" r="0.75"/><circle cx="120.0" cy="114.7" r="0.38"/><circle cx="127.3" cy="114.5" r="0.66"/><circle cx="134.6" cy="114.3" r="0.63"/><circle cx="141.9" cy="114.1" r="0.37"/><circle cx="149.3" cy="113.9" r="0.74"/><circle cx="156.6" cy="113.7" r="0.78"/><circle cx="163.9" cy="113.5" r="0.41"/><circle cx="171.2" cy="113.4" r="0.78"/><circle cx="178.5" cy="113.2" r="0.50"/><circle cx="185.9" cy="113.0" r="0.54"/><circle cx="193.2" cy="112.8" r="0.79"/><circle cx="200.5" cy="112.6" r="0.72"/><circle cx="207.8" cy="112.4" r="0.38"/><circle cx="215.2" cy="112.2" r="0.52"/><circle cx="222.5" cy="112.0" r="0.56"/><circle cx="229.8" cy="111.8" r="0.47"/><circle cx="237.1" cy="111.6" r="0.40"/><circle cx="244.4" cy="111.5" r="0.46"/><circle cx="251.8" cy="111.3" r="0.66"/><circle cx="259.1" cy="111.1" r="0.31"/><circle cx="266.4" cy="110.9" r="0.58"/><circle cx="273.7" cy="110.7" r="0.52"/><circle cx="281.0" cy="110.5" r="0.31"/><circle cx="288.4" cy="110.3" r="0.47"/><circle cx="295.7" cy="110.1" r="0.61"/><circle cx="303.0" cy="109.9" r="0.56"/><circle cx="310.3" cy="109.7" r="0.33"/><circle cx="317.6" cy="109.6" r="0.79"/><circle cx="325.0" cy="109.4" r="0.69"/><circle cx="332.3" cy="109.2" r="0.79"/><circle cx="339.6" cy="109.0" r="0.35"/><circle cx="346.9" cy="108.9" r="0.43"/><circle cx="354.2" cy="108.8" r="0.32"/><circle cx="361.6" cy="108.7" r="0.69"/><circle cx="368.9" cy="108.6" r="0.44"/><circle cx="390.9" cy="108.4" r="0.36"/><circle cx="398.2" cy="108.4" r="0.51"/><circle cx="412.8" cy="108.2" r="0.76"/><circle cx="105.5" cy="122.9" r="0.71"/><circle cx="112.9" cy="122.7" r="0.43"/><circle cx="120.2" cy="122.5" r="0.37"/><circle cx="127.5" cy="122.3" r="0.76"/><circle cx="134.8" cy="122.2" r="0.59"/><circle cx="142.1" cy="122.0" r="0.65"/><circle cx="149.5" cy="121.8" r="0.34"/><circle cx="156.8" cy="121.6" r="0.33"/><circle cx="164.1" cy="121.4" r="0.64"/><circle cx="171.4" cy="121.2" r="0.51"/><circle cx="178.7" cy="121.0" r="0.34"/><circle cx="186.1" cy="120.8" r="0.77"/><circle cx="193.4" cy="120.6" r="0.62"/><circle cx="200.7" cy="120.4" r="0.70"/><circle cx="208.0" cy="120.3" r="0.34"/><circle cx="215.3" cy="120.1" r="0.73"/><circle cx="222.7" cy="119.9" r="0.33"/><circle cx="230.0" cy="119.7" r="0.73"/><circle cx="237.3" cy="119.5" r="0.53"/><circle cx="244.6" cy="119.3" r="0.47"/><circle cx="251.9" cy="119.1" r="0.58"/><circle cx="259.3" cy="118.9" r="0.76"/><circle cx="266.6" cy="118.7" r="0.43"/><circle cx="273.9" cy="118.5" r="0.36"/><circle cx="281.2" cy="118.4" r="0.56"/><circle cx="288.5" cy="118.2" r="0.42"/><circle cx="295.9" cy="118.0" r="0.35"/><circle cx="303.2" cy="117.8" r="0.38"/><circle cx="310.5" cy="117.6" r="0.33"/><circle cx="317.8" cy="117.4" r="0.40"/><circle cx="325.1" cy="117.2" r="0.46"/><circle cx="332.5" cy="117.0" r="0.45"/><circle cx="339.8" cy="116.8" r="0.68"/><circle cx="347.1" cy="116.7" r="0.44"/><circle cx="105.8" cy="130.8" r="0.55"/><circle cx="113.1" cy="130.6" r="0.39"/><circle cx="120.4" cy="130.4" r="0.47"/><circle cx="127.7" cy="130.2" r="0.31"/><circle cx="135.0" cy="130.0" r="0.43"/><circle cx="142.3" cy="129.8" r="0.31"/><circle cx="149.7" cy="129.6" r="0.67"/><circle cx="157.0" cy="129.4" r="0.58"/><circle cx="164.3" cy="129.2" r="0.39"/><circle cx="171.6" cy="129.1" r="0.54"/><circle cx="178.9" cy="128.9" r="0.77"/><circle cx="186.3" cy="128.7" r="0.35"/><circle cx="193.6" cy="128.5" r="0.71"/><circle cx="200.9" cy="128.3" r="0.52"/><circle cx="208.2" cy="128.1" r="0.55"/><circle cx="215.5" cy="127.9" r="0.72"/><circle cx="222.9" cy="127.7" r="0.50"/><circle cx="230.2" cy="127.5" r="0.55"/><circle cx="237.5" cy="127.3" r="0.64"/><circle cx="244.8" cy="127.2" r="0.79"/><circle cx="252.1" cy="127.0" r="0.47"/><circle cx="259.4" cy="126.8" r="0.72"/><circle cx="266.8" cy="126.6" r="0.65"/><circle cx="274.1" cy="126.4" r="0.62"/><circle cx="281.4" cy="126.2" r="0.50"/><circle cx="288.7" cy="126.0" r="0.47"/><circle cx="296.0" cy="125.8" r="0.33"/><circle cx="303.4" cy="125.6" r="0.36"/><circle cx="310.7" cy="125.4" r="0.34"/><circle cx="318.0" cy="125.3" r="0.67"/><circle cx="325.3" cy="125.1" r="0.43"/><circle cx="332.6" cy="124.9" r="0.38"/><circle cx="339.9" cy="124.7" r="0.34"/><circle cx="347.3" cy="124.6" r="0.72"/><circle cx="106.0" cy="138.6" r="0.74"/><circle cx="113.3" cy="138.4" r="0.64"/><circle cx="120.6" cy="138.2" r="0.44"/><circle cx="127.9" cy="138.0" r="0.42"/><circle cx="135.2" cy="137.8" r="0.45"/><circle cx="142.6" cy="137.7" r="0.53"/><circle cx="149.9" cy="137.5" r="0.38"/><circle cx="157.2" cy="137.3" r="0.52"/><circle cx="164.5" cy="137.1" r="0.43"/><circle cx="171.8" cy="136.9" r="0.78"/><circle cx="179.1" cy="136.7" r="0.79"/><circle cx="186.5" cy="136.5" r="0.57"/><circle cx="193.8" cy="136.3" r="0.42"/><circle cx="201.1" cy="136.1" r="0.78"/><circle cx="208.4" cy="135.9" r="0.45"/><circle cx="215.7" cy="135.8" r="0.48"/><circle cx="223.0" cy="135.6" r="0.30"/><circle cx="230.4" cy="135.4" r="0.49"/><circle cx="237.7" cy="135.2" r="0.54"/><circle cx="245.0" cy="135.0" r="0.55"/><circle cx="252.3" cy="134.8" r="0.40"/><circle cx="259.6" cy="134.6" r="0.55"/><circle cx="266.9" cy="134.4" r="0.30"/><circle cx="274.3" cy="134.2" r="0.43"/><circle cx="281.6" cy="134.0" r="0.34"/><circle cx="288.9" cy="133.9" r="0.50"/><circle cx="296.2" cy="133.7" r="0.32"/><circle cx="303.5" cy="133.5" r="0.31"/><circle cx="310.9" cy="133.3" r="0.45"/><circle cx="318.2" cy="133.1" r="0.42"/><circle cx="332.8" cy="132.7" r="0.59"/><circle cx="340.1" cy="132.5" r="0.56"/><circle cx="347.4" cy="132.4" r="0.68"/><circle cx="106.2" cy="146.5" r="0.63"/><circle cx="113.5" cy="146.3" r="0.66"/><circle cx="120.8" cy="146.1" r="0.74"/><circle cx="128.1" cy="145.9" r="0.49"/><circle cx="135.4" cy="145.7" r="0.46"/><circle cx="142.8" cy="145.5" r="0.79"/><circle cx="150.1" cy="145.3" r="0.37"/><circle cx="157.4" cy="145.1" r="0.66"/><circle cx="164.7" cy="144.9" r="0.62"/><circle cx="172.0" cy="144.7" r="0.32"/><circle cx="179.3" cy="144.6" r="0.72"/><circle cx="186.7" cy="144.4" r="0.75"/><circle cx="194.0" cy="144.2" r="0.61"/><circle cx="201.3" cy="144.0" r="0.67"/><circle cx="208.6" cy="143.8" r="0.71"/><circle cx="215.9" cy="143.6" r="0.37"/><circle cx="223.2" cy="143.4" r="0.56"/><circle cx="230.5" cy="143.2" r="0.55"/><circle cx="237.9" cy="143.0" r="0.72"/><circle cx="245.2" cy="142.8" r="0.70"/><circle cx="252.5" cy="142.7" r="0.71"/><circle cx="259.8" cy="142.5" r="0.59"/><circle cx="267.1" cy="142.3" r="0.75"/><circle cx="274.4" cy="142.1" r="0.64"/><circle cx="281.8" cy="141.9" r="0.65"/><circle cx="289.1" cy="141.7" r="0.41"/><circle cx="296.4" cy="141.5" r="0.32"/><circle cx="303.7" cy="141.3" r="0.37"/><circle cx="311.0" cy="141.1" r="0.48"/><circle cx="318.3" cy="140.9" r="0.35"/><circle cx="325.7" cy="140.8" r="0.72"/><circle cx="333.0" cy="140.6" r="0.58"/><circle cx="340.3" cy="140.4" r="0.61"/><circle cx="347.6" cy="140.2" r="0.61"/><circle cx="354.9" cy="140.2" r="0.64"/><circle cx="106.4" cy="154.3" r="0.54"/><circle cx="113.7" cy="154.1" r="0.30"/><circle cx="121.0" cy="153.9" r="0.70"/><circle cx="128.3" cy="153.7" r="0.67"/><circle cx="135.6" cy="153.5" r="0.55"/><circle cx="143.0" cy="153.4" r="0.57"/><circle cx="150.3" cy="153.2" r="0.63"/><circle cx="157.6" cy="153.0" r="0.33"/><circle cx="164.9" cy="152.8" r="0.67"/><circle cx="172.2" cy="152.6" r="0.43"/><circle cx="179.5" cy="152.4" r="0.34"/><circle cx="186.8" cy="152.2" r="0.43"/><circle cx="194.2" cy="152.0" r="0.66"/><circle cx="201.5" cy="151.8" r="0.40"/><circle cx="208.8" cy="151.6" r="0.67"/><circle cx="216.1" cy="151.5" r="0.79"/><circle cx="223.4" cy="151.3" r="0.55"/><circle cx="230.7" cy="151.1" r="0.49"/><circle cx="238.1" cy="150.9" r="0.54"/><circle cx="245.4" cy="150.7" r="0.64"/><circle cx="252.7" cy="150.5" r="0.68"/><circle cx="260.0" cy="150.3" r="0.61"/><circle cx="267.3" cy="150.1" r="0.62"/><circle cx="274.6" cy="149.9" r="0.34"/><circle cx="281.9" cy="149.7" r="0.37"/><circle cx="289.3" cy="149.6" r="0.43"/><circle cx="296.6" cy="149.4" r="0.67"/><circle cx="303.9" cy="149.2" r="0.45"/><circle cx="311.2" cy="149.0" r="0.58"/><circle cx="318.5" cy="148.8" r="0.31"/><circle cx="325.8" cy="148.6" r="0.33"/><circle cx="333.1" cy="148.4" r="0.43"/><circle cx="340.5" cy="148.2" r="0.64"/><circle cx="347.8" cy="148.1" r="0.65"/><circle cx="355.1" cy="148.0" r="0.64"/><circle cx="362.4" cy="148.0" r="0.45"/><circle cx="106.6" cy="162.2" r="0.56"/><circle cx="113.9" cy="162.0" r="0.53"/><circle cx="121.2" cy="161.8" r="0.53"/><circle cx="128.5" cy="161.6" r="0.36"/><circle cx="135.8" cy="161.4" r="0.75"/><circle cx="143.2" cy="161.2" r="0.40"/><circle cx="150.5" cy="161.0" r="0.79"/><circle cx="157.8" cy="160.8" r="0.77"/><circle cx="165.1" cy="160.6" r="0.31"/><circle cx="172.4" cy="160.4" r="0.53"/><circle cx="179.7" cy="160.3" r="0.71"/><circle cx="187.0" cy="160.1" r="0.78"/><circle cx="194.4" cy="159.9" r="0.52"/><circle cx="201.7" cy="159.7" r="0.43"/><circle cx="209.0" cy="159.5" r="0.40"/><circle cx="216.3" cy="159.3" r="0.77"/><circle cx="223.6" cy="159.1" r="0.41"/><circle cx="230.9" cy="158.9" r="0.59"/><circle cx="238.2" cy="158.7" r="0.37"/><circle cx="245.6" cy="158.5" r="0.56"/><circle cx="252.9" cy="158.4" r="0.78"/><circle cx="260.2" cy="158.2" r="0.37"/><circle cx="267.5" cy="158.0" r="0.71"/><circle cx="274.8" cy="157.8" r="0.55"/><circle cx="282.1" cy="157.6" r="0.74"/><circle cx="289.4" cy="157.4" r="0.65"/><circle cx="296.8" cy="157.2" r="0.42"/><circle cx="304.1" cy="157.0" r="0.75"/><circle cx="311.4" cy="156.8" r="0.54"/><circle cx="318.7" cy="156.6" r="0.31"/><circle cx="326.0" cy="156.5" r="0.30"/><circle cx="333.3" cy="156.3" r="0.55"/><circle cx="340.6" cy="156.1" r="0.53"/><circle cx="347.9" cy="155.9" r="0.45"/><circle cx="355.3" cy="155.9" r="0.37"/><circle cx="106.8" cy="170.0" r="0.47"/><circle cx="114.1" cy="169.8" r="0.46"/><circle cx="121.4" cy="169.6" r="0.72"/><circle cx="128.7" cy="169.4" r="0.30"/><circle cx="136.1" cy="169.2" r="0.68"/><circle cx="143.4" cy="169.1" r="0.72"/><circle cx="150.7" cy="168.9" r="0.36"/><circle cx="158.0" cy="168.7" r="0.76"/><circle cx="165.3" cy="168.5" r="0.66"/><circle cx="172.6" cy="168.3" r="0.75"/><circle cx="179.9" cy="168.1" r="0.44"/><circle cx="187.2" cy="167.9" r="0.49"/><circle cx="194.6" cy="167.7" r="0.50"/><circle cx="201.9" cy="167.5" r="0.80"/><circle cx="209.2" cy="167.3" r="0.59"/><circle cx="216.5" cy="167.2" r="0.48"/><circle cx="223.8" cy="167.0" r="0.51"/><circle cx="231.1" cy="166.8" r="0.44"/><circle cx="238.4" cy="166.6" r="0.32"/><circle cx="245.7" cy="166.4" r="0.35"/><circle cx="253.1" cy="166.2" r="0.72"/><circle cx="260.4" cy="166.0" r="0.44"/><circle cx="267.7" cy="165.8" r="0.77"/><circle cx="275.0" cy="165.6" r="0.42"/><circle cx="282.3" cy="165.4" r="0.43"/><circle cx="289.6" cy="165.3" r="0.56"/><circle cx="296.9" cy="165.1" r="0.39"/><circle cx="304.2" cy="164.9" r="0.49"/><circle cx="311.6" cy="164.7" r="0.78"/><circle cx="318.9" cy="164.5" r="0.74"/><circle cx="326.2" cy="164.3" r="0.71"/><circle cx="333.5" cy="164.1" r="0.62"/><circle cx="340.8" cy="163.9" r="0.76"/><circle cx="348.1" cy="163.8" r="0.77"/><circle cx="355.4" cy="163.7" r="0.57"/><circle cx="107.0" cy="177.8" r="0.66"/><circle cx="114.3" cy="177.7" r="0.32"/><circle cx="121.6" cy="177.5" r="0.67"/><circle cx="128.9" cy="177.3" r="0.53"/><circle cx="136.3" cy="177.1" r="0.68"/><circle cx="143.6" cy="176.9" r="0.62"/><circle cx="150.9" cy="176.7" r="0.44"/><circle cx="158.2" cy="176.5" r="0.32"/><circle cx="165.5" cy="176.3" r="0.76"/><circle cx="172.8" cy="176.1" r="0.36"/><circle cx="180.1" cy="175.9" r="0.54"/><circle cx="187.4" cy="175.8" r="0.47"/><circle cx="194.7" cy="175.6" r="0.45"/><circle cx="202.1" cy="175.4" r="0.67"/><circle cx="209.4" cy="175.2" r="0.79"/><circle cx="216.7" cy="175.0" r="0.43"/><circle cx="224.0" cy="174.8" r="0.63"/><circle cx="231.3" cy="174.6" r="0.45"/><circle cx="238.6" cy="174.4" r="0.58"/><circle cx="245.9" cy="174.2" r="0.50"/><circle cx="253.2" cy="174.0" r="0.38"/><circle cx="260.6" cy="173.9" r="0.38"/><circle cx="267.9" cy="173.7" r="0.40"/><circle cx="275.2" cy="173.5" r="0.75"/><circle cx="282.5" cy="173.3" r="0.55"/><circle cx="289.8" cy="173.1" r="0.41"/><circle cx="297.1" cy="172.9" r="0.75"/><circle cx="304.4" cy="172.7" r="0.80"/><circle cx="311.7" cy="172.5" r="0.52"/><circle cx="319.0" cy="172.3" r="0.37"/><circle cx="326.4" cy="172.1" r="0.40"/><circle cx="333.7" cy="172.0" r="0.35"/><circle cx="341.0" cy="171.8" r="0.47"/><circle cx="348.3" cy="171.6" r="0.35"/><circle cx="355.6" cy="171.6" r="0.42"/><circle cx="107.2" cy="185.7" r="0.43"/><circle cx="114.5" cy="185.5" r="0.58"/><circle cx="121.8" cy="185.3" r="0.74"/><circle cx="129.2" cy="185.1" r="0.67"/><circle cx="136.5" cy="184.9" r="0.51"/><circle cx="143.8" cy="184.7" r="0.51"/><circle cx="151.1" cy="184.6" r="0.56"/><circle cx="158.4" cy="184.4" r="0.49"/><circle cx="165.7" cy="184.2" r="0.47"/><circle cx="173.0" cy="184.0" r="0.33"/><circle cx="180.3" cy="183.8" r="0.44"/><circle cx="187.6" cy="183.6" r="0.78"/><circle cx="194.9" cy="183.4" r="0.36"/><circle cx="202.3" cy="183.2" r="0.55"/><circle cx="209.6" cy="183.0" r="0.61"/><circle cx="216.9" cy="182.8" r="0.73"/><circle cx="224.2" cy="182.7" r="0.41"/><circle cx="231.5" cy="182.5" r="0.44"/><circle cx="238.8" cy="182.3" r="0.42"/><circle cx="246.1" cy="182.1" r="0.50"/><circle cx="253.4" cy="181.9" r="0.52"/><circle cx="260.7" cy="181.7" r="0.78"/><circle cx="268.0" cy="181.5" r="0.72"/><circle cx="275.4" cy="181.3" r="0.74"/><circle cx="282.7" cy="181.1" r="0.31"/><circle cx="290.0" cy="180.9" r="0.32"/><circle cx="297.3" cy="180.8" r="0.65"/><circle cx="304.6" cy="180.6" r="0.75"/><circle cx="311.9" cy="180.4" r="0.54"/><circle cx="319.2" cy="180.2" r="0.59"/><circle cx="326.5" cy="180.0" r="0.30"/><circle cx="333.8" cy="179.8" r="0.50"/><circle cx="341.1" cy="179.6" r="0.76"/><circle cx="348.5" cy="179.5" r="0.71"/><circle cx="107.4" cy="193.5" r="0.73"/><circle cx="114.7" cy="193.4" r="0.79"/><circle cx="122.0" cy="193.2" r="0.42"/><circle cx="129.4" cy="193.0" r="0.35"/><circle cx="136.7" cy="192.8" r="0.38"/><circle cx="144.0" cy="192.6" r="0.56"/><circle cx="151.3" cy="192.4" r="0.64"/><circle cx="158.6" cy="192.2" r="0.77"/><circle cx="165.9" cy="192.0" r="0.66"/><circle cx="173.2" cy="191.8" r="0.62"/><circle cx="180.5" cy="191.6" r="0.68"/><circle cx="187.8" cy="191.5" r="0.53"/><circle cx="195.1" cy="191.3" r="0.58"/><circle cx="202.4" cy="191.1" r="0.32"/><circle cx="209.8" cy="190.9" r="0.69"/><circle cx="217.1" cy="190.7" r="0.42"/><circle cx="224.4" cy="190.5" r="0.76"/><circle cx="231.7" cy="190.3" r="0.62"/><circle cx="239.0" cy="190.1" r="0.45"/><circle cx="246.3" cy="189.9" r="0.36"/><circle cx="253.6" cy="189.7" r="0.43"/><circle cx="260.9" cy="189.6" r="0.62"/><circle cx="268.2" cy="189.4" r="0.65"/><circle cx="275.5" cy="189.2" r="0.36"/><circle cx="282.8" cy="189.0" r="0.34"/><circle cx="290.2" cy="188.8" r="0.56"/><circle cx="297.5" cy="188.6" r="0.59"/><circle cx="304.8" cy="188.4" r="0.49"/><circle cx="312.1" cy="188.2" r="0.41"/><circle cx="319.4" cy="188.0" r="0.60"/><circle cx="326.7" cy="187.8" r="0.31"/><circle cx="334.0" cy="187.7" r="0.45"/><circle cx="341.3" cy="187.5" r="0.53"/><circle cx="348.6" cy="187.3" r="0.78"/><circle cx="224.6" cy="198.4" r="0.53"/><circle cx="231.9" cy="198.2" r="0.80"/><circle cx="253.8" cy="197.6" r="0.68"/><circle cx="283.0" cy="196.8" r="0.68"/><circle cx="297.6" cy="196.5" r="0.78"/><circle cx="312.3" cy="196.1" r="0.71"/><circle cx="319.6" cy="195.9" r="0.70"/><circle cx="334.2" cy="195.5" r="0.77"/><circle cx="239.4" cy="205.8" r="0.80"/><circle cx="246.7" cy="205.6" r="0.67"/><circle cx="268.6" cy="205.1" r="0.53"/><circle cx="283.2" cy="204.7" r="0.84"/><circle cx="290.5" cy="204.5" r="0.84"/><circle cx="297.8" cy="204.3" r="0.80"/><circle cx="305.1" cy="204.1" r="0.65"/><circle cx="312.4" cy="203.9" r="0.50"/><circle cx="319.7" cy="203.7" r="0.75"/><circle cx="327.0" cy="203.5" r="0.82"/><circle cx="341.7" cy="203.2" r="0.61"/><circle cx="232.2" cy="213.9" r="0.54"/><circle cx="239.6" cy="213.7" r="0.53"/><circle cx="246.9" cy="213.5" r="0.56"/><circle cx="261.5" cy="213.1" r="0.73"/><circle cx="283.4" cy="212.5" r="0.81"/><circle cx="290.7" cy="212.3" r="0.75"/><circle cx="312.6" cy="211.8" r="0.74"/><circle cx="327.2" cy="211.4" r="0.78"/><circle cx="334.5" cy="211.2" r="0.75"/><circle cx="341.8" cy="211.0" r="0.50"/><circle cx="254.4" cy="221.1" r="0.80"/><circle cx="261.7" cy="220.9" r="0.79"/><circle cx="269.0" cy="220.8" r="0.83"/><circle cx="283.6" cy="220.4" r="0.57"/><circle cx="290.9" cy="220.2" r="0.68"/><circle cx="305.5" cy="219.8" r="0.72"/><circle cx="312.8" cy="219.6" r="0.56"/><circle cx="320.1" cy="219.4" r="0.53"/><circle cx="334.7" cy="219.0" r="0.79"/><circle cx="225.3" cy="229.7" r="0.61"/><circle cx="239.9" cy="229.4" r="0.76"/><circle cx="254.5" cy="229.0" r="0.84"/><circle cx="269.1" cy="228.6" r="0.68"/><circle cx="276.4" cy="228.4" r="0.72"/><circle cx="283.7" cy="228.2" r="0.72"/><circle cx="291.1" cy="228.0" r="0.64"/><circle cx="313.0" cy="227.5" r="0.79"/><circle cx="225.5" cy="237.6" r="0.84"/><circle cx="247.4" cy="237.0" r="0.73"/><circle cx="269.3" cy="236.5" r="0.60"/><circle cx="291.2" cy="235.9" r="0.70"/><circle cx="298.5" cy="235.7" r="0.83"/><circle cx="305.8" cy="235.5" r="0.63"/><circle cx="313.1" cy="235.3" r="0.68"/><circle cx="320.4" cy="235.1" r="0.73"/><circle cx="225.7" cy="245.4" r="0.65"/><circle cx="247.6" cy="244.9" r="0.75"/><circle cx="254.9" cy="244.7" r="0.78"/><circle cx="269.5" cy="244.3" r="0.78"/><circle cx="284.1" cy="243.9" r="0.82"/><circle cx="313.3" cy="243.2" r="0.83"/><circle cx="320.6" cy="243.0" r="0.68"/><circle cx="233.2" cy="253.1" r="0.63"/><circle cx="240.5" cy="252.9" r="0.75"/><circle cx="262.4" cy="252.3" r="0.60"/><circle cx="291.6" cy="251.6" r="0.68"/><circle cx="298.9" cy="251.4" r="0.61"/></g>
<g fill="#4a8ad0" fill-opacity="0.85"><path d="M106.9 200.6 l1.3 0.4 l-0.2 1.4 l-0.5 -0.8 z"/><path d="M114.1 200.3 l1.5 0.4 l-0.2 1.5 l-0.6 -0.9 z"/><path d="M121.6 200.3 l1.2 0.3 l-0.1 1.2 l-0.5 -0.7 z"/><path d="M129.0 200.2 l1.0 0.3 l-0.1 1.1 l-0.4 -0.6 z"/><path d="M136.3 200.0 l1.0 0.3 l-0.1 1.1 l-0.4 -0.6 z"/><path d="M143.3 199.5 l1.5 0.4 l-0.2 1.6 l-0.6 -0.9 z"/><path d="M150.7 199.4 l1.3 0.4 l-0.2 1.4 l-0.5 -0.8 z"/><path d="M158.2 199.4 l1.1 0.3 l-0.1 1.1 l-0.4 -0.6 z"/><path d="M165.6 199.3 l0.9 0.3 l-0.1 0.9 l-0.4 -0.5 z"/><path d="M172.7 198.9 l1.2 0.3 l-0.1 1.3 l-0.5 -0.7 z"/><path d="M179.9 198.6 l1.3 0.4 l-0.2 1.4 l-0.5 -0.8 z"/><path d="M187.4 198.6 l1.1 0.3 l-0.1 1.2 l-0.5 -0.7 z"/><path d="M194.7 198.4 l1.0 0.3 l-0.1 1.1 l-0.4 -0.6 z"/><path d="M201.9 198.1 l1.3 0.4 l-0.2 1.4 l-0.5 -0.8 z"/><path d="M209.1 197.8 l1.5 0.4 l-0.2 1.6 l-0.6 -0.9 z"/><path d="M216.7 197.9 l1.0 0.3 l-0.1 1.1 l-0.4 -0.6 z"/><path d="M238.7 197.5 l0.7 0.2 l-0.1 0.8 l-0.3 -0.4 z"/><path d="M245.9 197.2 l0.9 0.3 l-0.1 1.0 l-0.4 -0.6 z"/><path d="M260.5 196.7 l1.0 0.3 l-0.1 1.1 l-0.4 -0.6 z"/><path d="M267.8 196.6 l1.0 0.3 l-0.1 1.0 l-0.4 -0.6 z"/><path d="M275.2 196.5 l0.8 0.2 l-0.1 0.9 l-0.3 -0.5 z"/><path d="M289.6 195.9 l1.2 0.3 l-0.1 1.2 l-0.5 -0.7 z"/><path d="M304.3 195.6 l1.1 0.3 l-0.1 1.1 l-0.4 -0.6 z"/><path d="M326.3 195.0 l1.0 0.3 l-0.1 1.1 l-0.4 -0.6 z"/><path d="M340.8 194.6 l1.2 0.3 l-0.1 1.2 l-0.5 -0.7 z"/><path d="M348.3 194.7 l0.8 0.2 l-0.1 0.9 l-0.3 -0.5 z"/><path d="M107.3 208.6 l1.0 0.3 l-0.1 1.0 l-0.4 -0.6 z"/><path d="M114.6 208.4 l1.0 0.3 l-0.1 1.1 l-0.4 -0.6 z"/><path d="M121.8 208.1 l1.1 0.3 l-0.1 1.2 l-0.5 -0.7 z"/><path d="M129.0 207.8 l1.3 0.4 l-0.2 1.4 l-0.5 -0.8 z"/><path d="M136.2 207.5 l1.5 0.4 l-0.2 1.6 l-0.6 -0.9 z"/><path d="M143.8 207.7 l0.9 0.3 l-0.1 1.0 l-0.4 -0.6 z"/><path d="M151.0 207.4 l1.1 0.3 l-0.1 1.2 l-0.5 -0.7 z"/><path d="M158.4 207.3 l1.0 0.3 l-0.1 1.1 l-0.4 -0.6 z"/><path d="M165.4 206.7 l1.5 0.4 l-0.2 1.6 l-0.6 -0.9 z"/><path d="M173.1 206.9 l0.9 0.3 l-0.1 1.0 l-0.4 -0.6 z"/><path d="M180.4 206.8 l0.9 0.3 l-0.1 0.9 l-0.4 -0.5 z"/><path d="M187.7 206.6 l0.9 0.3 l-0.1 0.9 l-0.4 -0.5 z"/><path d="M194.9 206.2 l1.1 0.3 l-0.1 1.2 l-0.5 -0.7 z"/><path d="M202.0 205.8 l1.5 0.4 l-0.2 1.5 l-0.6 -0.9 z"/><path d="M209.3 205.6 l1.5 0.4 l-0.2 1.5 l-0.6 -0.9 z"/><path d="M216.7 205.5 l1.3 0.4 l-0.2 1.4 l-0.6 -0.8 z"/><path d="M224.1 205.4 l1.2 0.3 l-0.1 1.3 l-0.5 -0.7 z"/><path d="M231.4 205.3 l1.1 0.3 l-0.1 1.2 l-0.5 -0.7 z"/><path d="M253.3 204.7 l1.1 0.3 l-0.1 1.2 l-0.5 -0.7 z"/><path d="M260.7 204.6 l1.0 0.3 l-0.1 1.1 l-0.4 -0.6 z"/><path d="M275.4 204.3 l0.9 0.3 l-0.1 1.0 l-0.4 -0.5 z"/><path d="M333.7 202.6 l1.2 0.3 l-0.1 1.2 l-0.5 -0.7 z"/><path d="M107.2 216.1 l1.5 0.4 l-0.2 1.6 l-0.6 -0.9 z"/><path d="M114.8 216.3 l1.0 0.3 l-0.1 1.0 l-0.4 -0.6 z"/><path d="M122.0 216.0 l1.1 0.3 l-0.1 1.2 l-0.4 -0.6 z"/><path d="M129.1 215.6 l1.4 0.4 l-0.2 1.5 l-0.6 -0.8 z"/><path d="M136.5 215.4 l1.4 0.4 l-0.2 1.5 l-0.6 -0.8 z"/><path d="M143.9 215.4 l1.1 0.3 l-0.1 1.2 l-0.5 -0.7 z"/><path d="M151.4 215.4 l0.9 0.3 l-0.1 0.9 l-0.4 -0.5 z"/><path d="M158.5 215.0 l1.2 0.3 l-0.1 1.2 l-0.5 -0.7 z"/><path d="M165.9 214.9 l1.1 0.3 l-0.1 1.2 l-0.5 -0.6 z"/><path d="M172.9 214.4 l1.5 0.4 l-0.2 1.6 l-0.6 -0.9 z"/><path d="M180.5 214.6 l1.0 0.3 l-0.1 1.0 l-0.4 -0.6 z"/><path d="M187.8 214.3 l1.1 0.3 l-0.1 1.2 l-0.5 -0.6 z"/><path d="M194.9 213.9 l1.5 0.4 l-0.2 1.5 l-0.6 -0.9 z"/><path d="M202.5 214.1 l0.9 0.3 l-0.1 0.9 l-0.4 -0.5 z"/><path d="M209.7 213.7 l1.1 0.3 l-0.1 1.2 l-0.5 -0.7 z"/><path d="M216.8 213.3 l1.4 0.4 l-0.2 1.5 l-0.6 -0.8 z"/><path d="M224.3 213.4 l1.0 0.3 l-0.1 1.1 l-0.4 -0.6 z"/><path d="M253.5 212.6 l1.1 0.3 l-0.1 1.2 l-0.5 -0.7 z"/><path d="M268.2 212.3 l1.0 0.3 l-0.1 1.1 l-0.4 -0.6 z"/><path d="M275.4 212.0 l1.1 0.3 l-0.1 1.2 l-0.5 -0.7 z"/><path d="M297.3 211.4 l1.2 0.3 l-0.1 1.2 l-0.5 -0.7 z"/><path d="M304.8 211.4 l0.9 0.3 l-0.1 0.9 l-0.4 -0.5 z"/><path d="M319.3 210.9 l1.0 0.3 l-0.1 1.0 l-0.4 -0.6 z"/><path d="M107.5 224.1 l1.4 0.4 l-0.2 1.4 l-0.6 -0.8 z"/><path d="M114.7 223.8 l1.5 0.4 l-0.2 1.6 l-0.6 -0.9 z"/><path d="M122.1 223.7 l1.3 0.4 l-0.2 1.4 l-0.5 -0.8 z"/><path d="M129.3 223.4 l1.5 0.4 l-0.2 1.6 l-0.6 -0.9 z"/><path d="M137.0 223.6 l0.9 0.3 l-0.1 0.9 l-0.4 -0.5 z"/><path d="M144.2 223.3 l1.0 0.3 l-0.1 1.1 l-0.4 -0.6 z"/><path d="M151.4 223.0 l1.2 0.3 l-0.1 1.2 l-0.5 -0.7 z"/><path d="M158.5 222.6 l1.5 0.4 l-0.2 1.6 l-0.6 -0.9 z"/><path d="M165.8 222.4 l1.5 0.4 l-0.2 1.6 l-0.6 -0.9 z"/><path d="M173.4 222.5 l1.1 0.3 l-0.1 1.2 l-0.5 -0.7 z"/><path d="M180.7 222.4 l1.0 0.3 l-0.1 1.1 l-0.4 -0.6 z"/><path d="M187.9 222.1 l1.1 0.3 l-0.1 1.2 l-0.5 -0.7 z"/><path d="M195.2 221.9 l1.2 0.3 l-0.1 1.3 l-0.5 -0.7 z"/><path d="M202.4 221.5 l1.5 0.4 l-0.2 1.6 l-0.6 -0.9 z"/><path d="M210.0 221.6 l1.0 0.3 l-0.1 1.0 l-0.4 -0.6 z"/><path d="M217.0 221.2 l1.4 0.4 l-0.2 1.5 l-0.6 -0.8 z"/><path d="M224.6 221.3 l1.0 0.3 l-0.1 1.0 l-0.4 -0.6 z"/><path d="M231.8 221.0 l1.1 0.3 l-0.1 1.1 l-0.4 -0.6 z"/><path d="M239.1 220.9 l1.0 0.3 l-0.1 1.1 l-0.4 -0.6 z"/><path d="M246.5 220.8 l0.9 0.3 l-0.1 0.9 l-0.4 -0.5 z"/><path d="M275.7 219.9 l1.0 0.3 l-0.1 1.1 l-0.4 -0.6 z"/><path d="M297.6 219.3 l1.0 0.3 l-0.1 1.1 l-0.4 -0.6 z"/><path d="M326.9 218.7 l0.8 0.2 l-0.1 0.9 l-0.3 -0.5 z"/><path d="M107.6 231.8 l1.5 0.4 l-0.2 1.6 l-0.6 -0.9 z"/><path d="M114.9 231.7 l1.5 0.4 l-0.2 1.5 l-0.6 -0.9 z"/><path d="M122.2 231.4 l1.5 0.4 l-0.2 1.6 l-0.6 -0.9 z"/><path d="M129.8 231.5 l1.0 0.3 l-0.1 1.1 l-0.4 -0.6 z"/><path d="M137.2 231.4 l0.9 0.3 l-0.1 1.0 l-0.4 -0.5 z"/><path d="M144.5 231.2 l0.9 0.3 l-0.1 1.0 l-0.4 -0.5 z"/><path d="M151.6 230.9 l1.2 0.3 l-0.1 1.3 l-0.5 -0.7 z"/><path d="M158.8 230.6 l1.3 0.4 l-0.2 1.4 l-0.5 -0.8 z"/><path d="M166.2 230.5 l1.2 0.3 l-0.1 1.2 l-0.5 -0.7 z"/><path d="M173.6 230.4 l1.0 0.3 l-0.1 1.1 l-0.4 -0.6 z"/><path d="M180.8 230.2 l1.1 0.3 l-0.1 1.2 l-0.5 -0.7 z"/><path d="M188.1 229.9 l1.3 0.4 l-0.1 1.3 l-0.5 -0.7 z"/><path d="M195.3 229.7 l1.3 0.4 l-0.2 1.4 l-0.5 -0.8 z"/><path d="M202.6 229.4 l1.4 0.4 l-0.2 1.4 l-0.6 -0.8 z"/><path d="M209.9 229.2 l1.4 0.4 l-0.2 1.5 l-0.6 -0.8 z"/><path d="M217.3 229.1 l1.3 0.4 l-0.2 1.4 l-0.5 -0.8 z"/><path d="M232.0 228.9 l1.1 0.3 l-0.1 1.1 l-0.4 -0.6 z"/><path d="M246.7 228.6 l0.9 0.3 l-0.1 0.9 l-0.4 -0.5 z"/><path d="M261.3 228.2 l1.0 0.3 l-0.1 1.0 l-0.4 -0.6 z"/><path d="M297.7 227.1 l1.1 0.3 l-0.1 1.2 l-0.5 -0.6 z"/><path d="M305.1 227.1 l0.9 0.3 l-0.1 0.9 l-0.4 -0.5 z"/><path d="M319.8 226.8 l0.7 0.2 l-0.1 0.8 l-0.3 -0.4 z"/><path d="M326.9 226.3 l1.2 0.3 l-0.1 1.3 l-0.5 -0.7 z"/><path d="M334.4 226.4 l0.8 0.2 l-0.1 0.9 l-0.3 -0.5 z"/><path d="M108.1 240.0 l1.0 0.3 l-0.1 1.1 l-0.4 -0.6 z"/><path d="M115.2 239.5 l1.4 0.4 l-0.2 1.5 l-0.6 -0.8 z"/><path d="M122.5 239.4 l1.3 0.4 l-0.2 1.4 l-0.5 -0.8 z"/><path d="M129.7 239.1 l1.5 0.4 l-0.2 1.6 l-0.6 -0.9 z"/><path d="M137.4 239.3 l0.9 0.3 l-0.1 1.0 l-0.4 -0.5 z"/><path d="M144.5 238.9 l1.2 0.3 l-0.1 1.2 l-0.5 -0.7 z"/><path d="M151.7 238.6 l1.4 0.4 l-0.2 1.5 l-0.6 -0.8 z"/><path d="M159.0 238.4 l1.4 0.4 l-0.2 1.5 l-0.6 -0.8 z"/><path d="M166.2 238.2 l1.5 0.4 l-0.2 1.6 l-0.6 -0.9 z"/><path d="M173.9 238.4 l0.9 0.3 l-0.1 0.9 l-0.4 -0.5 z"/><path d="M181.1 238.1 l1.0 0.3 l-0.1 1.1 l-0.4 -0.6 z"/><path d="M188.5 237.9 l0.9 0.3 l-0.1 1.0 l-0.4 -0.5 z"/><path d="M195.7 237.7 l1.0 0.3 l-0.1 1.0 l-0.4 -0.6 z"/><path d="M202.7 237.2 l1.5 0.4 l-0.2 1.6 l-0.6 -0.9 z"/><path d="M210.2 237.2 l1.2 0.4 l-0.1 1.3 l-0.5 -0.7 z"/><path d="M217.3 236.8 l1.5 0.4 l-0.2 1.6 l-0.6 -0.9 z"/><path d="M232.2 236.7 l1.1 0.3 l-0.1 1.2 l-0.4 -0.6 z"/><path d="M239.7 236.7 l0.8 0.2 l-0.1 0.8 l-0.3 -0.5 z"/><path d="M254.1 236.2 l1.0 0.3 l-0.1 1.1 l-0.4 -0.6 z"/><path d="M261.3 235.9 l1.1 0.3 l-0.1 1.2 l-0.5 -0.7 z"/><path d="M276.1 235.7 l0.9 0.3 l-0.1 0.9 l-0.4 -0.5 z"/><path d="M283.4 235.5 l0.9 0.3 l-0.1 1.0 l-0.4 -0.5 z"/><path d="M327.2 234.4 l0.9 0.3 l-0.1 0.9 l-0.4 -0.5 z"/><path d="M108.1 247.6 l1.3 0.4 l-0.2 1.4 l-0.5 -0.8 z"/><path d="M115.6 247.7 l1.0 0.3 l-0.1 1.0 l-0.4 -0.6 z"/><path d="M123.0 247.5 l0.9 0.3 l-0.1 0.9 l-0.4 -0.5 z"/><path d="M130.2 247.2 l1.1 0.3 l-0.1 1.1 l-0.4 -0.6 z"/><path d="M137.3 246.9 l1.3 0.4 l-0.2 1.4 l-0.5 -0.8 z"/><path d="M144.8 246.9 l1.0 0.3 l-0.1 1.0 l-0.4 -0.6 z"/><path d="M152.1 246.7 l1.1 0.3 l-0.1 1.1 l-0.4 -0.6 z"/><path d="M159.4 246.5 l1.0 0.3 l-0.1 1.0 l-0.4 -0.6 z"/><path d="M166.5 246.1 l1.4 0.4 l-0.2 1.5 l-0.6 -0.8 z"/><path d="M173.9 246.0 l1.2 0.4 l-0.1 1.3 l-0.5 -0.7 z"/><path d="M181.4 246.0 l0.9 0.3 l-0.1 0.9 l-0.4 -0.5 z"/><path d="M188.7 245.8 l0.9 0.3 l-0.1 1.0 l-0.4 -0.5 z"/><path d="M195.8 245.5 l1.1 0.3 l-0.1 1.2 l-0.5 -0.7 z"/><path d="M203.1 245.2 l1.2 0.4 l-0.1 1.3 l-0.5 -0.7 z"/><path d="M210.3 245.0 l1.3 0.4 l-0.2 1.4 l-0.5 -0.8 z"/><path d="M217.9 245.0 l0.9 0.3 l-0.1 1.0 l-0.4 -0.5 z"/><path d="M232.4 244.6 l1.0 0.3 l-0.1 1.0 l-0.4 -0.6 z"/><path d="M239.9 244.6 l0.7 0.2 l-0.1 0.8 l-0.3 -0.4 z"/><path d="M261.5 243.7 l1.2 0.3 l-0.1 1.2 l-0.5 -0.7 z"/><path d="M276.3 243.6 l0.9 0.3 l-0.1 0.9 l-0.4 -0.5 z"/><path d="M291.0 243.2 l0.7 0.2 l-0.1 0.8 l-0.3 -0.4 z"/><path d="M298.1 242.8 l1.1 0.3 l-0.1 1.2 l-0.4 -0.6 z"/><path d="M305.3 242.6 l1.2 0.3 l-0.1 1.3 l-0.5 -0.7 z"/><path d="M327.3 242.1 l1.0 0.3 l-0.1 1.0 l-0.4 -0.6 z"/><path d="M108.2 255.3 l1.5 0.5 l-0.2 1.6 l-0.6 -0.9 z"/><path d="M115.6 255.3 l1.4 0.4 l-0.2 1.4 l-0.6 -0.8 z"/><path d="M122.5 254.6 l2.1 0.6 l-0.3 2.3 l-0.9 -1.3 z"/><path d="M130.0 254.6 l1.7 0.5 l-0.2 1.8 l-0.7 -1.0 z"/><path d="M137.1 254.2 l2.1 0.6 l-0.2 2.2 l-0.8 -1.2 z"/><path d="M144.6 254.3 l1.7 0.5 l-0.2 1.8 l-0.7 -1.0 z"/><path d="M151.7 253.8 l2.1 0.6 l-0.2 2.2 l-0.9 -1.2 z"/><path d="M159.5 254.2 l1.2 0.3 l-0.1 1.2 l-0.5 -0.7 z"/><path d="M166.9 254.2 l1.0 0.3 l-0.1 1.0 l-0.4 -0.6 z"/><path d="M174.3 254.1 l0.9 0.3 l-0.1 0.9 l-0.4 -0.5 z"/><path d="M181.4 253.6 l1.2 0.4 l-0.1 1.3 l-0.5 -0.7 z"/><path d="M188.6 253.4 l1.3 0.4 l-0.2 1.4 l-0.5 -0.8 z"/><path d="M195.8 253.1 l1.5 0.4 l-0.2 1.6 l-0.6 -0.9 z"/><path d="M203.5 253.3 l0.9 0.3 l-0.1 1.0 l-0.4 -0.5 z"/><path d="M210.5 252.8 l1.3 0.4 l-0.1 1.3 l-0.5 -0.7 z"/><path d="M217.9 252.8 l1.1 0.3 l-0.1 1.2 l-0.5 -0.6 z"/><path d="M225.4 252.8 l0.8 0.2 l-0.1 0.9 l-0.3 -0.5 z"/><path d="M247.3 252.2 l0.8 0.2 l-0.1 0.9 l-0.3 -0.5 z"/><path d="M254.4 251.8 l1.1 0.3 l-0.1 1.2 l-0.5 -0.7 z"/><path d="M269.2 251.6 l0.8 0.2 l-0.1 0.8 l-0.3 -0.5 z"/><path d="M276.4 251.3 l1.0 0.3 l-0.1 1.1 l-0.4 -0.6 z"/><path d="M283.6 251.0 l1.2 0.3 l-0.1 1.2 l-0.5 -0.7 z"/><path d="M305.5 250.5 l1.1 0.3 l-0.1 1.2 l-0.5 -0.7 z"/><path d="M312.8 250.3 l1.2 0.3 l-0.1 1.2 l-0.5 -0.7 z"/><path d="M320.3 250.3 l0.8 0.2 l-0.1 0.8 l-0.3 -0.5 z"/><path d="M108.5 263.3 l1.4 0.4 l-0.2 1.5 l-0.6 -0.8 z"/><path d="M115.3 262.6 l2.1 0.6 l-0.3 2.3 l-0.9 -1.3 z"/><path d="M122.9 262.7 l1.7 0.5 l-0.2 1.8 l-0.7 -1.0 z"/><path d="M130.0 262.2 l2.1 0.6 l-0.3 2.3 l-0.9 -1.3 z"/><path d="M137.4 262.2 l1.9 0.6 l-0.2 2.0 l-0.8 -1.1 z"/><path d="M144.6 261.9 l2.1 0.6 l-0.2 2.2 l-0.8 -1.2 z"/><path d="M152.2 262.1 l1.5 0.4 l-0.2 1.6 l-0.6 -0.9 z"/><path d="M159.2 261.5 l2.0 0.6 l-0.2 2.1 l-0.8 -1.2 z"/><path d="M166.8 261.7 l1.5 0.5 l-0.2 1.6 l-0.6 -0.9 z"/><path d="M174.0 261.4 l1.7 0.5 l-0.2 1.8 l-0.7 -1.0 z"/><path d="M181.1 260.9 l2.1 0.6 l-0.2 2.2 l-0.9 -1.2 z"/><path d="M188.4 260.8 l2.1 0.6 l-0.2 2.2 l-0.9 -1.2 z"/><path d="M196.0 260.9 l1.5 0.4 l-0.2 1.6 l-0.6 -0.9 z"/><path d="M203.3 260.7 l1.5 0.5 l-0.2 1.6 l-0.6 -0.9 z"/><path d="M210.5 260.4 l1.7 0.5 l-0.2 1.8 l-0.7 -1.0 z"/><path d="M217.7 260.2 l1.8 0.5 l-0.2 1.9 l-0.7 -1.1 z"/><path d="M225.1 260.0 l1.7 0.5 l-0.2 1.8 l-0.7 -1.0 z"/><path d="M232.5 260.0 l1.5 0.4 l-0.2 1.6 l-0.6 -0.9 z"/><path d="M239.8 259.7 l1.6 0.5 l-0.2 1.7 l-0.6 -0.9 z"/><path d="M246.8 259.3 l2.0 0.6 l-0.2 2.1 l-0.8 -1.2 z"/><path d="M254.0 259.0 l2.1 0.6 l-0.2 2.2 l-0.9 -1.2 z"/><path d="M261.8 259.3 l1.4 0.4 l-0.2 1.5 l-0.6 -0.8 z"/><path d="M268.8 258.8 l1.8 0.5 l-0.2 1.9 l-0.8 -1.1 z"/><path d="M276.0 258.6 l1.9 0.6 l-0.2 2.0 l-0.8 -1.1 z"/><path d="M284.0 259.1 l0.8 0.2 l-0.1 0.9 l-0.3 -0.5 z"/><path d="M290.6 258.1 l2.0 0.6 l-0.2 2.2 l-0.8 -1.2 z"/><path d="M298.5 258.6 l0.9 0.3 l-0.1 1.0 l-0.4 -0.6 z"/><path d="M305.4 258.0 l1.7 0.5 l-0.2 1.8 l-0.7 -1.0 z"/><path d="M312.7 257.8 l1.6 0.5 l-0.2 1.7 l-0.7 -0.9 z"/><path d="M108.4 270.8 l1.9 0.6 l-0.2 2.0 l-0.8 -1.1 z"/><path d="M115.9 270.8 l1.6 0.5 l-0.2 1.7 l-0.7 -1.0 z"/><path d="M123.1 270.5 l1.7 0.5 l-0.2 1.8 l-0.7 -1.0 z"/><path d="M130.3 270.3 l1.9 0.5 l-0.2 2.0 l-0.8 -1.1 z"/><path d="M137.7 270.2 l1.7 0.5 l-0.2 1.8 l-0.7 -1.0 z"/><path d="M144.9 269.8 l1.9 0.6 l-0.2 2.0 l-0.8 -1.1 z"/><path d="M152.3 269.8 l1.7 0.5 l-0.2 1.8 l-0.7 -1.0 z"/><path d="M159.6 269.6 l1.7 0.5 l-0.2 1.8 l-0.7 -1.0 z"/><path d="M167.1 269.6 l1.4 0.4 l-0.2 1.5 l-0.6 -0.8 z"/><path d="M174.1 269.1 l1.9 0.6 l-0.2 2.0 l-0.8 -1.1 z"/><path d="M181.4 269.0 l1.8 0.5 l-0.2 1.9 l-0.7 -1.0 z"/><path d="M188.9 268.9 l1.6 0.5 l-0.2 1.7 l-0.6 -0.9 z"/><path d="M195.9 268.4 l2.0 0.6 l-0.2 2.1 l-0.8 -1.2 z"/><path d="M203.2 268.2 l2.0 0.6 l-0.2 2.1 l-0.8 -1.2 z"/><path d="M210.7 268.2 l1.7 0.5 l-0.2 1.9 l-0.7 -1.0 z"/><path d="M218.1 268.2 l1.5 0.4 l-0.2 1.6 l-0.6 -0.9 z"/><path d="M225.2 267.8 l1.8 0.5 l-0.2 1.9 l-0.7 -1.0 z"/><path d="M232.7 267.9 l1.5 0.4 l-0.2 1.5 l-0.6 -0.9 z"/><path d="M240.0 267.7 l1.5 0.4 l-0.2 1.6 l-0.6 -0.9 z"/><path d="M247.2 267.3 l1.7 0.5 l-0.2 1.8 l-0.7 -1.0 z"/><path d="M254.6 267.3 l1.4 0.4 l-0.2 1.5 l-0.6 -0.8 z"/><path d="M261.7 266.9 l1.7 0.5 l-0.2 1.8 l-0.7 -1.0 z"/><path d="M269.1 266.8 l1.5 0.5 l-0.2 1.6 l-0.6 -0.9 z"/><path d="M276.9 267.1 l0.8 0.2 l-0.1 0.9 l-0.3 -0.5 z"/><path d="M283.6 266.3 l1.7 0.5 l-0.2 1.8 l-0.7 -1.0 z"/><path d="M291.4 266.7 l0.9 0.3 l-0.1 0.9 l-0.4 -0.5 z"/><path d="M298.1 265.9 l1.9 0.6 l-0.2 2.0 l-0.8 -1.1 z"/><path d="M305.4 265.6 l2.0 0.6 l-0.2 2.1 l-0.8 -1.1 z"/><path d="M312.9 265.7 l1.5 0.5 l-0.2 1.6 l-0.6 -0.9 z"/><path d="M108.9 279.0 l1.4 0.4 l-0.2 1.5 l-0.6 -0.8 z"/><path d="M116.0 278.5 l1.8 0.5 l-0.2 1.9 l-0.7 -1.1 z"/><path d="M123.3 278.4 l1.7 0.5 l-0.2 1.8 l-0.7 -1.0 z"/><path d="M130.3 277.9 l2.2 0.6 l-0.3 2.3 l-0.9 -1.3 z"/><path d="M138.0 278.2 l1.5 0.4 l-0.2 1.6 l-0.6 -0.9 z"/><path d="M145.0 277.6 l2.1 0.6 l-0.2 2.2 l-0.9 -1.2 z"/><path d="M152.2 277.3 l2.2 0.6 l-0.3 2.3 l-0.9 -1.3 z"/><path d="M159.6 277.3 l2.0 0.6 l-0.2 2.1 l-0.8 -1.2 z"/><path d="M166.9 277.0 l2.1 0.6 l-0.2 2.2 l-0.8 -1.2 z"/><path d="M174.5 277.2 l1.5 0.4 l-0.2 1.6 l-0.6 -0.9 z"/><path d="M181.4 276.6 l2.2 0.6 l-0.3 2.3 l-0.9 -1.3 z"/><path d="M188.9 276.6 l1.8 0.5 l-0.2 1.9 l-0.7 -1.0 z"/><path d="M196.0 276.2 l2.2 0.6 l-0.3 2.3 l-0.9 -1.3 z"/><path d="M203.3 276.0 l2.1 0.6 l-0.3 2.3 l-0.9 -1.3 z"/><path d="M211.0 276.2 l1.5 0.4 l-0.2 1.6 l-0.6 -0.9 z"/><path d="M218.0 275.7 l2.0 0.6 l-0.2 2.1 l-0.8 -1.2 z"/><path d="M225.2 275.4 l2.2 0.6 l-0.3 2.3 l-0.9 -1.3 z"/><path d="M232.9 275.7 l1.4 0.4 l-0.2 1.5 l-0.6 -0.8 z"/><path d="M240.1 275.4 l1.7 0.5 l-0.2 1.8 l-0.7 -1.0 z"/><path d="M247.2 275.0 l2.0 0.6 l-0.2 2.1 l-0.8 -1.2 z"/><path d="M254.8 275.1 l1.5 0.4 l-0.2 1.6 l-0.6 -0.9 z"/><path d="M261.7 274.5 l2.1 0.6 l-0.2 2.2 l-0.9 -1.2 z"/><path d="M269.5 274.9 l1.2 0.3 l-0.1 1.3 l-0.5 -0.7 z"/><path d="M276.4 274.2 l2.0 0.6 l-0.2 2.1 l-0.8 -1.2 z"/><path d="M284.3 274.7 l1.0 0.3 l-0.1 1.0 l-0.4 -0.6 z"/><path d="M291.2 274.1 l1.5 0.5 l-0.2 1.6 l-0.6 -0.9 z"/><path d="M298.1 273.5 l2.2 0.6 l-0.3 2.3 l-0.9 -1.3 z"/><path d="M306.1 274.0 l1.1 0.3 l-0.1 1.1 l-0.4 -0.6 z"/><path d="M313.3 273.8 l1.2 0.3 l-0.1 1.2 l-0.5 -0.7 z"/><path d="M108.9 286.6 l1.8 0.5 l-0.2 1.9 l-0.7 -1.1 z"/><path d="M116.3 286.5 l1.6 0.5 l-0.2 1.7 l-0.7 -1.0 z"/><path d="M123.7 286.4 l1.4 0.4 l-0.2 1.5 l-0.6 -0.8 z"/><path d="M130.9 286.2 l1.5 0.4 l-0.2 1.6 l-0.6 -0.9 z"/><path d="M138.2 286.0 l1.5 0.4 l-0.2 1.6 l-0.6 -0.9 z"/><path d="M145.1 285.4 l2.2 0.6 l-0.3 2.3 l-0.9 -1.3 z"/><path d="M152.6 285.3 l1.9 0.6 l-0.2 2.1 l-0.8 -1.1 z"/><path d="M159.8 285.0 l2.1 0.6 l-0.2 2.2 l-0.9 -1.2 z"/><path d="M167.4 285.2 l1.5 0.4 l-0.2 1.6 l-0.6 -0.9 z"/><path d="M174.4 284.7 l2.0 0.6 l-0.2 2.1 l-0.8 -1.2 z"/><path d="M182.0 284.9 l1.5 0.4 l-0.2 1.5 l-0.6 -0.9 z"/><path d="M189.1 284.5 l1.8 0.5 l-0.2 1.9 l-0.7 -1.1 z"/><path d="M196.4 284.2 l1.9 0.6 l-0.2 2.0 l-0.8 -1.1 z"/><path d="M203.8 284.2 l1.7 0.5 l-0.2 1.8 l-0.7 -1.0 z"/><path d="M210.8 283.7 l2.1 0.6 l-0.2 2.2 l-0.9 -1.2 z"/><path d="M218.3 283.7 l1.8 0.5 l-0.2 1.9 l-0.8 -1.1 z"/><path d="M225.6 283.5 l1.9 0.5 l-0.2 2.0 l-0.8 -1.1 z"/><path d="M232.7 283.1 l2.1 0.6 l-0.2 2.2 l-0.9 -1.2 z"/><path d="M240.4 283.4 l1.4 0.4 l-0.2 1.5 l-0.6 -0.9 z"/><path d="M247.2 282.7 l2.2 0.6 l-0.3 2.3 l-0.9 -1.3 z"/><path d="M254.7 282.7 l1.9 0.6 l-0.2 2.0 l-0.8 -1.1 z"/><path d="M262.1 282.6 l1.7 0.5 l-0.2 1.8 l-0.7 -1.0 z"/><path d="M269.3 282.3 l2.0 0.6 l-0.2 2.1 l-0.8 -1.2 z"/><path d="M277.0 282.6 l1.2 0.3 l-0.1 1.2 l-0.5 -0.7 z"/><path d="M283.7 281.7 l2.3 0.7 l-0.3 2.4 l-0.9 -1.3 z"/><path d="M291.3 281.9 l1.6 0.5 l-0.2 1.7 l-0.7 -1.0 z"/><path d="M298.8 281.9 l1.3 0.4 l-0.2 1.4 l-0.5 -0.8 z"/><path d="M305.8 281.3 l1.9 0.6 l-0.2 2.0 l-0.8 -1.1 z"/><path d="M313.3 281.5 l1.4 0.4 l-0.2 1.5 l-0.6 -0.8 z"/><path d="M109.3 294.6 l1.5 0.4 l-0.2 1.6 l-0.6 -0.9 z"/><path d="M116.3 294.1 l2.0 0.6 l-0.2 2.1 l-0.8 -1.2 z"/><path d="M123.9 294.3 l1.4 0.4 l-0.2 1.5 l-0.6 -0.8 z"/><path d="M130.8 293.7 l2.1 0.6 l-0.2 2.2 l-0.8 -1.2 z"/><path d="M138.4 293.8 l1.6 0.5 l-0.2 1.7 l-0.6 -0.9 z"/><path d="M145.5 293.4 l1.9 0.6 l-0.2 2.0 l-0.8 -1.1 z"/><path d="M152.6 293.0 l2.2 0.6 l-0.3 2.3 l-0.9 -1.3 z"/><path d="M160.1 293.0 l1.9 0.5 l-0.2 2.0 l-0.8 -1.1 z"/><path d="M167.4 292.8 l1.9 0.6 l-0.2 2.0 l-0.8 -1.1 z"/><path d="M174.8 292.8 l1.6 0.5 l-0.2 1.7 l-0.7 -1.0 z"/><path d="M182.3 292.8 l1.4 0.4 l-0.2 1.4 l-0.6 -0.8 z"/><path d="M189.6 292.6 l1.4 0.4 l-0.2 1.5 l-0.6 -0.8 z"/><path d="M196.8 292.3 l1.5 0.4 l-0.2 1.6 l-0.6 -0.9 z"/><path d="M203.9 291.9 l1.9 0.6 l-0.2 2.0 l-0.8 -1.1 z"/><path d="M211.2 291.8 l1.7 0.5 l-0.2 1.8 l-0.7 -1.0 z"/><path d="M218.5 291.6 l1.8 0.5 l-0.2 1.9 l-0.7 -1.1 z"/><path d="M225.6 291.2 l2.1 0.6 l-0.2 2.2 l-0.9 -1.2 z"/><path d="M233.3 291.4 l1.5 0.4 l-0.2 1.6 l-0.6 -0.9 z"/><path d="M240.5 291.1 l1.6 0.5 l-0.2 1.6 l-0.6 -0.9 z"/><path d="M247.6 290.7 l1.9 0.6 l-0.2 2.0 l-0.8 -1.1 z"/><path d="M255.2 290.9 l1.4 0.4 l-0.2 1.5 l-0.6 -0.8 z"/><path d="M262.5 290.7 l1.4 0.4 l-0.2 1.4 l-0.6 -0.8 z"/><path d="M269.8 290.5 l1.3 0.4 l-0.2 1.4 l-0.5 -0.8 z"/><path d="M277.4 290.6 l0.9 0.3 l-0.1 1.0 l-0.4 -0.5 z"/><path d="M284.4 290.2 l1.3 0.4 l-0.2 1.4 l-0.5 -0.8 z"/><path d="M291.8 290.1 l1.1 0.3 l-0.1 1.2 l-0.5 -0.7 z"/><path d="M298.8 289.6 l1.7 0.5 l-0.2 1.8 l-0.7 -1.0 z"/><path d="M306.1 289.4 l1.7 0.5 l-0.2 1.8 l-0.7 -1.0 z"/><path d="M313.7 289.6 l1.1 0.3 l-0.1 1.1 l-0.4 -0.6 z"/><path d="M109.2 302.2 l1.9 0.6 l-0.2 2.0 l-0.8 -1.1 z"/><path d="M116.6 302.1 l1.8 0.5 l-0.2 1.9 l-0.7 -1.0 z"/><path d="M124.1 302.1 l1.5 0.4 l-0.2 1.6 l-0.6 -0.9 z"/><path d="M131.0 301.5 l2.2 0.6 l-0.3 2.3 l-0.9 -1.3 z"/><path d="M138.6 301.6 l1.6 0.5 l-0.2 1.7 l-0.6 -0.9 z"/><path d="M145.9 301.5 l1.5 0.4 l-0.2 1.6 l-0.6 -0.9 z"/><path d="M153.3 301.3 l1.4 0.4 l-0.2 1.5 l-0.6 -0.8 z"/><path d="M160.3 300.9 l1.9 0.6 l-0.2 2.0 l-0.8 -1.1 z"/><path d="M167.5 300.5 l2.1 0.6 l-0.2 2.2 l-0.9 -1.2 z"/><path d="M174.8 300.4 l2.0 0.6 l-0.2 2.1 l-0.8 -1.2 z"/><path d="M182.3 300.4 l1.7 0.5 l-0.2 1.8 l-0.7 -1.0 z"/><path d="M189.6 300.3 l1.6 0.5 l-0.2 1.7 l-0.7 -0.9 z"/><path d="M197.1 300.3 l1.4 0.4 l-0.2 1.5 l-0.6 -0.8 z"/><path d="M204.0 299.7 l1.9 0.6 l-0.2 2.0 l-0.8 -1.1 z"/><path d="M211.4 299.6 l1.8 0.5 l-0.2 1.9 l-0.8 -1.1 z"/><path d="M218.8 299.5 l1.7 0.5 l-0.2 1.8 l-0.7 -1.0 z"/><path d="M225.9 299.1 l1.9 0.6 l-0.2 2.0 l-0.8 -1.1 z"/><path d="M233.3 299.1 l1.7 0.5 l-0.2 1.8 l-0.7 -1.0 z"/><path d="M240.4 298.6 l2.2 0.6 l-0.3 2.3 l-0.9 -1.3 z"/><path d="M247.7 298.5 l2.0 0.6 l-0.2 2.1 l-0.8 -1.2 z"/><path d="M255.3 298.6 l1.6 0.5 l-0.2 1.7 l-0.6 -0.9 z"/><path d="M262.2 298.1 l2.1 0.6 l-0.3 2.3 l-0.9 -1.3 z"/><path d="M270.3 298.7 l0.8 0.2 l-0.1 0.9 l-0.3 -0.5 z"/><path d="M277.2 298.0 l1.6 0.5 l-0.2 1.7 l-0.6 -0.9 z"/><path d="M284.6 298.0 l1.4 0.4 l-0.2 1.5 l-0.6 -0.8 z"/><path d="M292.0 297.9 l1.1 0.3 l-0.1 1.2 l-0.5 -0.7 z"/><path d="M299.5 297.9 l0.9 0.3 l-0.1 0.9 l-0.4 -0.5 z"/><path d="M306.1 297.0 l2.0 0.6 l-0.2 2.1 l-0.8 -1.2 z"/><path d="M314.1 297.6 l0.8 0.2 l-0.1 0.8 l-0.3 -0.5 z"/><path d="M320.9 296.9 l1.6 0.5 l-0.2 1.7 l-0.7 -0.9 z"/><path d="M327.8 296.3 l2.2 0.6 l-0.3 2.3 l-0.9 -1.3 z"/><path d="M109.7 310.3 l1.5 0.4 l-0.2 1.6 l-0.6 -0.9 z"/><path d="M117.0 310.1 l1.5 0.4 l-0.2 1.6 l-0.6 -0.9 z"/><path d="M124.0 309.7 l1.9 0.6 l-0.2 2.0 l-0.8 -1.1 z"/><path d="M131.4 309.5 l1.8 0.5 l-0.2 1.9 l-0.7 -1.1 z"/><path d="M138.6 309.3 l1.9 0.6 l-0.2 2.0 l-0.8 -1.1 z"/><path d="M145.8 309.0 l2.1 0.6 l-0.2 2.2 l-0.8 -1.2 z"/><path d="M153.4 309.1 l1.5 0.4 l-0.2 1.6 l-0.6 -0.9 z"/><path d="M160.7 308.9 l1.6 0.5 l-0.2 1.7 l-0.7 -1.0 z"/><path d="M167.9 308.7 l1.6 0.5 l-0.2 1.7 l-0.7 -1.0 z"/><path d="M175.4 308.6 l1.4 0.4 l-0.2 1.5 l-0.6 -0.8 z"/><path d="M182.2 308.0 l2.1 0.6 l-0.2 2.2 l-0.9 -1.2 z"/><path d="M189.6 307.9 l2.0 0.6 l-0.2 2.1 l-0.8 -1.2 z"/><path d="M196.9 307.7 l2.0 0.6 l-0.2 2.1 l-0.8 -1.2 z"/><path d="M204.6 307.9 l1.4 0.4 l-0.2 1.4 l-0.6 -0.8 z"/><path d="M211.4 307.3 l2.1 0.6 l-0.2 2.2 l-0.9 -1.2 z"/><path d="M218.8 307.1 l2.0 0.6 l-0.2 2.1 l-0.8 -1.2 z"/><path d="M226.2 307.1 l1.8 0.5 l-0.2 1.9 l-0.7 -1.0 z"/><path d="M233.3 306.7 l2.0 0.6 l-0.2 2.1 l-0.8 -1.2 z"/><path d="M240.8 306.7 l1.7 0.5 l-0.2 1.8 l-0.7 -1.0 z"/><path d="M248.2 306.7 l1.6 0.5 l-0.2 1.6 l-0.6 -0.9 z"/><path d="M255.5 306.5 l1.4 0.4 l-0.2 1.5 l-0.6 -0.9 z"/><path d="M262.8 306.3 l1.6 0.5 l-0.2 1.6 l-0.6 -0.9 z"/><path d="M270.5 306.6 l0.8 0.2 l-0.1 0.9 l-0.3 -0.5 z"/><path d="M277.5 306.1 l1.3 0.4 l-0.2 1.4 l-0.5 -0.8 z"/><path d="M284.4 305.5 l1.9 0.6 l-0.2 2.0 l-0.8 -1.1 z"/><path d="M291.8 305.3 l1.8 0.5 l-0.2 1.9 l-0.8 -1.1 z"/><path d="M298.9 305.0 l2.1 0.6 l-0.2 2.2 l-0.8 -1.2 z"/><path d="M306.3 304.9 l1.9 0.5 l-0.2 2.0 l-0.8 -1.1 z"/><path d="M314.0 305.2 l1.2 0.3 l-0.1 1.2 l-0.5 -0.7 z"/><path d="M321.1 304.7 l1.6 0.5 l-0.2 1.7 l-0.7 -0.9 z"/><path d="M328.5 304.6 l1.4 0.4 l-0.2 1.5 l-0.6 -0.8 z"/><path d="M335.4 304.1 l2.0 0.6 l-0.2 2.1 l-0.8 -1.2 z"/><path d="M109.7 317.9 l1.8 0.5 l-0.2 1.9 l-0.7 -1.1 z"/><path d="M117.1 317.9 l1.6 0.5 l-0.2 1.7 l-0.7 -0.9 z"/><path d="M124.2 317.5 l1.9 0.6 l-0.2 2.0 l-0.8 -1.1 z"/><path d="M131.4 317.1 l2.2 0.6 l-0.3 2.3 l-0.9 -1.3 z"/><path d="M139.0 317.4 l1.5 0.5 l-0.2 1.6 l-0.6 -0.9 z"/><path d="M146.0 316.8 l2.1 0.6 l-0.2 2.2 l-0.9 -1.2 z"/><path d="M153.7 317.1 l1.4 0.4 l-0.2 1.5 l-0.6 -0.8 z"/><path d="M160.9 316.8 l1.6 0.5 l-0.2 1.7 l-0.7 -0.9 z"/><path d="M168.2 316.6 l1.6 0.5 l-0.2 1.7 l-0.6 -0.9 z"/><path d="M175.2 316.1 l2.0 0.6 l-0.2 2.1 l-0.8 -1.2 z"/><path d="M182.4 315.8 l2.2 0.6 l-0.3 2.3 l-0.9 -1.3 z"/><path d="M189.8 315.7 l2.0 0.6 l-0.2 2.1 l-0.8 -1.2 z"/><path d="M197.3 315.8 l1.6 0.5 l-0.2 1.7 l-0.7 -1.0 z"/><path d="M204.3 315.3 l2.1 0.6 l-0.2 2.2 l-0.9 -1.2 z"/><path d="M211.9 315.4 l1.6 0.5 l-0.2 1.7 l-0.7 -1.0 z"/><path d="M219.2 315.3 l1.6 0.5 l-0.2 1.7 l-0.6 -0.9 z"/><path d="M226.2 314.7 l2.1 0.6 l-0.3 2.3 l-0.9 -1.3 z"/><path d="M233.6 314.7 l1.9 0.6 l-0.2 2.0 l-0.8 -1.1 z"/><path d="M240.8 314.4 l1.9 0.6 l-0.2 2.1 l-0.8 -1.1 z"/><path d="M248.2 314.3 l1.9 0.6 l-0.2 2.0 l-0.8 -1.1 z"/><path d="M255.3 313.9 l2.2 0.6 l-0.3 2.3 l-0.9 -1.3 z"/><path d="M262.8 314.0 l1.8 0.5 l-0.2 1.9 l-0.7 -1.0 z"/><path d="M269.9 313.6 l2.0 0.6 l-0.2 2.2 l-0.8 -1.2 z"/><path d="M277.4 313.6 l1.8 0.5 l-0.2 1.9 l-0.8 -1.1 z"/><path d="M284.5 313.2 l2.1 0.6 l-0.2 2.2 l-0.9 -1.2 z"/><path d="M292.2 313.4 l1.4 0.4 l-0.2 1.5 l-0.6 -0.8 z"/><path d="M299.2 313.0 l1.9 0.6 l-0.2 2.0 l-0.8 -1.1 z"/><path d="M306.6 312.9 l1.6 0.5 l-0.2 1.7 l-0.7 -1.0 z"/><path d="M314.2 313.0 l1.2 0.4 l-0.1 1.3 l-0.5 -0.7 z"/><path d="M321.5 312.9 l1.1 0.3 l-0.1 1.2 l-0.4 -0.6 z"/><path d="M328.5 312.3 l1.7 0.5 l-0.2 1.8 l-0.7 -1.0 z"/><path d="M336.2 312.7 l0.9 0.3 l-0.1 0.9 l-0.4 -0.5 z"/><path d="M109.7 325.6 l2.1 0.6 l-0.3 2.3 l-0.9 -1.3 z"/><path d="M117.4 325.8 l1.5 0.4 l-0.2 1.6 l-0.6 -0.9 z"/><path d="M124.8 325.7 l1.4 0.4 l-0.2 1.5 l-0.6 -0.8 z"/><path d="M132.0 325.5 l1.5 0.4 l-0.2 1.5 l-0.6 -0.9 z"/><path d="M138.9 324.8 l2.1 0.6 l-0.3 2.3 l-0.9 -1.3 z"/><path d="M146.5 324.9 l1.7 0.5 l-0.2 1.8 l-0.7 -1.0 z"/><path d="M153.8 324.9 l1.5 0.4 l-0.2 1.6 l-0.6 -0.9 z"/><path d="M161.2 324.7 l1.4 0.4 l-0.2 1.5 l-0.6 -0.8 z"/><path d="M168.5 324.5 l1.4 0.4 l-0.2 1.5 l-0.6 -0.8 z"/><path d="M175.4 324.0 l1.9 0.6 l-0.2 2.1 l-0.8 -1.1 z"/><path d="M182.8 323.8 l1.9 0.6 l-0.2 2.0 l-0.8 -1.1 z"/><path d="M190.0 323.6 l2.0 0.6 l-0.2 2.1 l-0.8 -1.1 z"/><path d="M197.3 323.4 l2.0 0.6 l-0.2 2.1 l-0.8 -1.2 z"/><path d="M204.9 323.6 l1.4 0.4 l-0.2 1.5 l-0.6 -0.8 z"/><path d="M211.9 323.1 l1.9 0.5 l-0.2 2.0 l-0.8 -1.1 z"/><path d="M219.3 323.0 l1.7 0.5 l-0.2 1.8 l-0.7 -1.0 z"/><path d="M226.4 322.6 l2.1 0.6 l-0.2 2.2 l-0.8 -1.2 z"/><path d="M233.7 322.4 l2.1 0.6 l-0.2 2.2 l-0.8 -1.2 z"/><path d="M240.9 322.2 l2.1 0.6 l-0.2 2.2 l-0.9 -1.2 z"/><path d="M248.6 322.4 l1.4 0.4 l-0.2 1.5 l-0.6 -0.8 z"/><path d="M255.5 321.8 l2.1 0.6 l-0.2 2.2 l-0.9 -1.2 z"/><path d="M262.8 321.6 l2.1 0.6 l-0.3 2.3 l-0.9 -1.3 z"/><path d="M270.0 321.4 l2.2 0.6 l-0.3 2.3 l-0.9 -1.3 z"/><path d="M278.1 322.0 l0.9 0.3 l-0.1 1.0 l-0.4 -0.5 z"/><path d="M285.3 321.7 l1.1 0.3 l-0.1 1.1 l-0.4 -0.6 z"/><path d="M292.7 321.6 l0.9 0.3 l-0.1 1.0 l-0.4 -0.6 z"/><path d="M300.0 321.5 l0.8 0.2 l-0.1 0.9 l-0.3 -0.5 z"/><path d="M306.6 320.5 l2.1 0.6 l-0.2 2.2 l-0.8 -1.2 z"/><path d="M313.9 320.3 l2.0 0.6 l-0.2 2.1 l-0.8 -1.2 z"/><path d="M321.3 320.3 l1.7 0.5 l-0.2 1.8 l-0.7 -1.0 z"/><path d="M328.5 319.9 l2.0 0.6 l-0.2 2.1 l-0.8 -1.2 z"/><path d="M335.9 320.0 l1.7 0.5 l-0.2 1.8 l-0.7 -1.0 z"/><path d="M110.3 333.8 l1.6 0.5 l-0.2 1.7 l-0.7 -0.9 z"/><path d="M117.6 333.7 l1.4 0.4 l-0.2 1.5 l-0.6 -0.8 z"/><path d="M124.9 333.5 l1.4 0.4 l-0.2 1.5 l-0.6 -0.8 z"/><path d="M131.9 332.9 l2.0 0.6 l-0.2 2.1 l-0.8 -1.2 z"/><path d="M139.4 333.1 l1.5 0.5 l-0.2 1.6 l-0.6 -0.9 z"/><path d="M146.7 332.8 l1.6 0.5 l-0.2 1.7 l-0.7 -1.0 z"/><path d="M153.9 332.6 l1.7 0.5 l-0.2 1.8 l-0.7 -1.0 z"/><path d="M161.4 332.6 l1.4 0.4 l-0.2 1.5 l-0.6 -0.8 z"/><path d="M168.6 332.3 l1.6 0.5 l-0.2 1.7 l-0.6 -0.9 z"/><path d="M175.8 332.1 l1.6 0.5 l-0.2 1.7 l-0.7 -0.9 z"/><path d="M182.9 331.6 l2.0 0.6 l-0.2 2.1 l-0.8 -1.2 z"/><path d="M190.4 331.6 l1.7 0.5 l-0.2 1.8 l-0.7 -1.0 z"/><path d="M197.7 331.5 l1.6 0.5 l-0.2 1.7 l-0.7 -1.0 z"/><path d="M204.7 330.9 l2.2 0.6 l-0.3 2.3 l-0.9 -1.3 z"/><path d="M212.2 331.0 l1.8 0.5 l-0.2 1.9 l-0.7 -1.1 z"/><path d="M219.3 330.6 l2.1 0.6 l-0.2 2.2 l-0.9 -1.2 z"/><path d="M226.7 330.5 l1.9 0.6 l-0.2 2.0 l-0.8 -1.1 z"/><path d="M234.3 330.7 l1.4 0.4 l-0.2 1.5 l-0.6 -0.8 z"/><path d="M241.4 330.3 l1.7 0.5 l-0.2 1.8 l-0.7 -1.0 z"/><path d="M248.6 330.1 l1.7 0.5 l-0.2 1.8 l-0.7 -1.0 z"/><path d="M255.8 329.7 l2.0 0.6 l-0.2 2.1 l-0.8 -1.2 z"/><path d="M263.3 329.7 l1.7 0.5 l-0.2 1.8 l-0.7 -1.0 z"/><path d="M270.4 329.4 l1.8 0.5 l-0.2 2.0 l-0.8 -1.1 z"/><path d="M277.9 329.4 l1.6 0.5 l-0.2 1.7 l-0.7 -0.9 z"/><path d="M285.5 329.5 l1.1 0.3 l-0.1 1.2 l-0.5 -0.6 z"/><path d="M292.2 328.7 l2.1 0.6 l-0.2 2.2 l-0.9 -1.2 z"/><path d="M300.1 329.3 l0.9 0.3 l-0.1 1.0 l-0.4 -0.5 z"/><path d="M306.8 328.4 l2.0 0.6 l-0.2 2.1 l-0.8 -1.2 z"/><path d="M314.6 328.8 l1.0 0.3 l-0.1 1.1 l-0.4 -0.6 z"/><path d="M322.1 328.8 l0.8 0.2 l-0.1 0.8 l-0.3 -0.5 z"/><path d="M329.2 328.4 l1.1 0.3 l-0.1 1.1 l-0.4 -0.6 z"/><path d="M336.0 327.7 l1.9 0.6 l-0.2 2.0 l-0.8 -1.1 z"/><path d="M343.1 327.3 l2.3 0.7 l-0.3 2.4 l-0.9 -1.3 z"/><path d="M110.6 341.8 l1.4 0.4 l-0.2 1.4 l-0.6 -0.8 z"/><path d="M117.6 341.3 l1.8 0.5 l-0.2 1.9 l-0.7 -1.0 z"/><path d="M124.9 341.1 l1.8 0.5 l-0.2 1.9 l-0.7 -1.0 z"/><path d="M132.1 340.8 l2.0 0.6 l-0.2 2.2 l-0.8 -1.2 z"/><path d="M139.7 340.9 l1.5 0.4 l-0.2 1.6 l-0.6 -0.9 z"/><path d="M146.8 340.6 l1.8 0.5 l-0.2 1.9 l-0.7 -1.0 z"/><path d="M154.2 340.4 l1.7 0.5 l-0.2 1.8 l-0.7 -1.0 z"/><path d="M161.2 340.0 l2.1 0.6 l-0.2 2.2 l-0.9 -1.2 z"/><path d="M168.8 340.1 l1.6 0.5 l-0.2 1.7 l-0.7 -0.9 z"/><path d="M175.7 339.5 l2.2 0.6 l-0.3 2.3 l-0.9 -1.3 z"/><path d="M183.3 339.7 l1.6 0.5 l-0.2 1.7 l-0.7 -0.9 z"/><path d="M190.6 339.6 l1.5 0.5 l-0.2 1.6 l-0.6 -0.9 z"/><path d="M197.7 339.1 l2.0 0.6 l-0.2 2.1 l-0.8 -1.1 z"/><path d="M205.1 339.0 l1.8 0.5 l-0.2 1.9 l-0.7 -1.0 z"/><path d="M212.6 339.1 l1.5 0.4 l-0.2 1.5 l-0.6 -0.9 z"/><path d="M219.6 338.6 l1.9 0.6 l-0.2 2.0 l-0.8 -1.1 z"/><path d="M227.1 338.7 l1.4 0.4 l-0.2 1.5 l-0.6 -0.8 z"/><path d="M234.1 338.1 l2.0 0.6 l-0.2 2.1 l-0.8 -1.2 z"/><path d="M241.4 338.0 l2.0 0.6 l-0.2 2.1 l-0.8 -1.1 z"/><path d="M248.7 337.7 l2.0 0.6 l-0.2 2.1 l-0.8 -1.2 z"/><path d="M256.0 337.6 l1.9 0.6 l-0.2 2.0 l-0.8 -1.1 z"/><path d="M263.4 337.6 l1.7 0.5 l-0.2 1.8 l-0.7 -1.0 z"/><path d="M270.9 337.6 l1.4 0.4 l-0.2 1.5 l-0.6 -0.8 z"/><path d="M278.2 337.4 l1.4 0.4 l-0.2 1.4 l-0.6 -0.8 z"/><path d="M285.0 336.7 l2.1 0.6 l-0.3 2.3 l-0.9 -1.3 z"/><path d="M293.0 337.3 l0.9 0.3 l-0.1 0.9 l-0.4 -0.5 z"/><path d="M299.6 336.3 l2.1 0.6 l-0.2 2.2 l-0.9 -1.2 z"/><path d="M307.7 337.0 l0.8 0.2 l-0.1 0.9 l-0.3 -0.5 z"/><path d="M314.8 336.6 l1.1 0.3 l-0.1 1.1 l-0.4 -0.6 z"/><path d="M322.0 336.4 l1.2 0.3 l-0.1 1.2 l-0.5 -0.7 z"/><path d="M328.7 335.6 l2.1 0.6 l-0.3 2.3 l-0.9 -1.3 z"/><path d="M336.4 335.8 l1.5 0.5 l-0.2 1.6 l-0.6 -0.9 z"/><path d="M343.8 335.7 l1.3 0.4 l-0.2 1.4 l-0.6 -0.8 z"/><path d="M110.4 349.1 l2.1 0.6 l-0.2 2.2 l-0.9 -1.2 z"/><path d="M118.0 349.3 l1.6 0.5 l-0.2 1.7 l-0.6 -0.9 z"/><path d="M125.2 349.0 l1.8 0.5 l-0.2 1.9 l-0.7 -1.0 z"/><path d="M132.4 348.8 l1.8 0.5 l-0.2 1.9 l-0.7 -1.1 z"/><path d="M139.6 348.5 l2.0 0.6 l-0.2 2.1 l-0.8 -1.2 z"/><path d="M146.9 348.3 l2.0 0.6 l-0.2 2.1 l-0.8 -1.2 z"/><path d="M154.2 348.1 l1.9 0.6 l-0.2 2.0 l-0.8 -1.1 z"/><path d="M161.6 348.1 l1.7 0.5 l-0.2 1.8 l-0.7 -1.0 z"/><path d="M168.9 347.9 l1.6 0.5 l-0.2 1.7 l-0.7 -1.0 z"/><path d="M176.3 347.8 l1.5 0.4 l-0.2 1.6 l-0.6 -0.9 z"/><path d="M183.2 347.3 l2.1 0.6 l-0.2 2.2 l-0.9 -1.2 z"/><path d="M190.6 347.2 l1.9 0.6 l-0.2 2.0 l-0.8 -1.1 z"/><path d="M197.9 346.9 l2.0 0.6 l-0.2 2.1 l-0.8 -1.2 z"/><path d="M205.4 347.1 l1.5 0.4 l-0.2 1.6 l-0.6 -0.9 z"/><path d="M212.6 346.7 l1.7 0.5 l-0.2 1.8 l-0.7 -1.0 z"/><path d="M219.7 346.3 l2.0 0.6 l-0.2 2.1 l-0.8 -1.2 z"/><path d="M227.1 346.3 l1.9 0.5 l-0.2 2.0 l-0.8 -1.1 z"/><path d="M234.6 346.3 l1.5 0.4 l-0.2 1.6 l-0.6 -0.9 z"/><path d="M241.7 346.0 l1.8 0.5 l-0.2 1.9 l-0.7 -1.0 z"/><path d="M248.8 345.5 l2.1 0.6 l-0.2 2.2 l-0.9 -1.2 z"/><path d="M256.4 345.7 l1.6 0.5 l-0.2 1.7 l-0.6 -0.9 z"/><path d="M263.7 345.5 l1.5 0.4 l-0.2 1.6 l-0.6 -0.9 z"/><path d="M271.2 345.5 l1.2 0.4 l-0.1 1.3 l-0.5 -0.7 z"/><path d="M278.1 344.9 l1.8 0.5 l-0.2 1.9 l-0.8 -1.1 z"/><path d="M285.2 344.6 l2.1 0.6 l-0.2 2.2 l-0.8 -1.2 z"/><path d="M293.2 345.1 l1.0 0.3 l-0.1 1.1 l-0.4 -0.6 z"/><path d="M300.4 344.9 l1.0 0.3 l-0.1 1.1 l-0.4 -0.6 z"/><path d="M307.6 344.6 l1.1 0.3 l-0.1 1.2 l-0.5 -0.7 z"/><path d="M314.9 344.4 l1.3 0.4 l-0.1 1.3 l-0.5 -0.7 z"/><path d="M322.0 344.0 l1.6 0.5 l-0.2 1.7 l-0.6 -0.9 z"/><path d="M329.6 344.2 l1.0 0.3 l-0.1 1.1 l-0.4 -0.6 z"/><path d="M336.7 343.8 l1.3 0.4 l-0.1 1.3 l-0.5 -0.7 z"/><path d="M344.1 343.7 l1.1 0.3 l-0.1 1.1 l-0.4 -0.6 z"/></g>
<path d="M347.8 172.6L353.5 171.2L353.2 170.2L356.6 170.4L354 172.8L353.8 171.9L348 173.2Z" fill="#fff" fill-opacity="0.9"/>
<path d="M102.40 49.5L110.40 355M148.17 49.5L155.75 355M193.94 49.5L201.10 355M239.71 49.5L246.45 355M285.48 49.5L291.80 355M331.25 49.5L337.15 355M377.02 49.5L382.50 355M100.5 78.20Q261 74.00 421.4 69.90M100.5 117.49Q261 113.29 421.4 109.19M100.5 156.78Q261 152.58 421.4 148.48M100.5 196.07Q261 191.87 421.4 187.77M100.5 235.36Q261 231.16 421.4 227.06M100.5 274.65Q261 270.45 421.4 266.35M100.5 313.94Q261 309.74 421.4 305.64M100.5 353.23Q261 349.03 421.4 344.93" stroke="#b0b0b0" stroke-width="1.1" fill="none"/>
</g>
<rect x="100.50" y="49.50" width="320.90" height="305.50" fill="none" stroke="#000" stroke-width="1.1"/>
<text x="260.8" y="19.5" font-size="16.5" text-anchor="middle">2026-03-25T07:00:00Z</text>
<text x="277.4" y="-1.0" font-size="16.67">_p</text><text x="309.4" y="-1.0" font-size="16.67">_</text><text x="331.4" y="-1.0" font-size="16.67">_</text>
<text x="101.4" y="38.5" font-size="13.89" text-anchor="middle">112.5°E</text>
<text x="112.0" y="373.2" font-size="13.89" text-anchor="middle">112.5°E</text>
<text x="193.0" y="38.5" font-size="13.89" text-anchor="middle">113°E</text>
<text x="201.9" y="373.2" font-size="13.89" text-anchor="middle">113°E</text>
<text x="284.4" y="38.5" font-size="13.89" text-anchor="middle">113.5°E</text>
<text x="292.9" y="373.2" font-size="13.89" text-anchor="middle">113.5°E</text>
<text x="377.3" y="38.5" font-size="13.89" text-anchor="middle">114°E</text>
<text x="383.3" y="373.2" font-size="13.89" text-anchor="middle">114°E</text>
<text x="93.5" y="81.5" font-size="13.89" text-anchor="end">21.6°S</text>
<text x="93.5" y="120.8" font-size="13.89" text-anchor="end">21.8°S</text>
<text x="93.5" y="160.1" font-size="13.89" text-anchor="end">22°S</text>
<text x="93.5" y="199.4" font-size="13.89" text-anchor="end">22.2°S</text>
<text x="93.5" y="238.7" font-size="13.89" text-anchor="end">22.4°S</text>
<text x="93.5" y="278.0" font-size="13.89" text-anchor="end">22.6°S</text>
<text x="93.5" y="317.3" font-size="13.89" text-anchor="end">22.8°S</text>
<text x="93.5" y="356.6" font-size="13.89" text-anchor="end">23°S</text>
<rect x="441.5" y="125.3" width="8" height="153.9" fill="url(#cb)" stroke="#000" stroke-width="1.1"/>
<path d="M450 279.20h4.6" stroke="#000" stroke-width="1.1"/>
<text x="458.6" y="284.3" font-size="13.89">0.0</text>
<path d="M450 248.42h4.6" stroke="#000" stroke-width="1.1"/>
<text x="458.6" y="253.5" font-size="13.89">0.2</text>
<path d="M450 217.64h4.6" stroke="#000" stroke-width="1.1"/>
<text x="458.6" y="222.7" font-size="13.89">0.4</text>
<path d="M450 186.86h4.6" stroke="#000" stroke-width="1.1"/>
<text x="458.6" y="192.0" font-size="13.89">0.6</text>
<path d="M450 156.08h4.6" stroke="#000" stroke-width="1.1"/>
<text x="458.6" y="161.2" font-size="13.89">0.8</text>
<path d="M450 125.30h4.6" stroke="#000" stroke-width="1.1"/>
<text x="458.6" y="130.4" font-size="13.89">1.0</text>
<text x="546.8" y="33.2" font-size="13.89">Iterations: 200</text>
<text x="546.8" y="64.7" font-size="13.89">nll: -13813.320813481907</text>
<text x="546.8" y="98.1" font-size="13.89">σ = 4.26e-07</text>
<text x="546.8" y="129.6" font-size="13.89">,η_ψ = 5065.49</text>
<text x="546.8" y="163.1" font-size="13.89">ℓ_ψ = 79412.79</text>
<text x="546.8" y="194.6" font-size="13.89">η_uv = 5.45e-02</text>
<text x="546.8" y="228.0" font-size="13.89">ℓ_uv = 10871.37</text>
<text x="546.8" y="259.5" font-size="13.89">η_q = 9.18e-06</text>
<text x="546.8" y="293.0" font-size="13.89">ℓ_q = 14146.79</text>
</svg></body></html>
